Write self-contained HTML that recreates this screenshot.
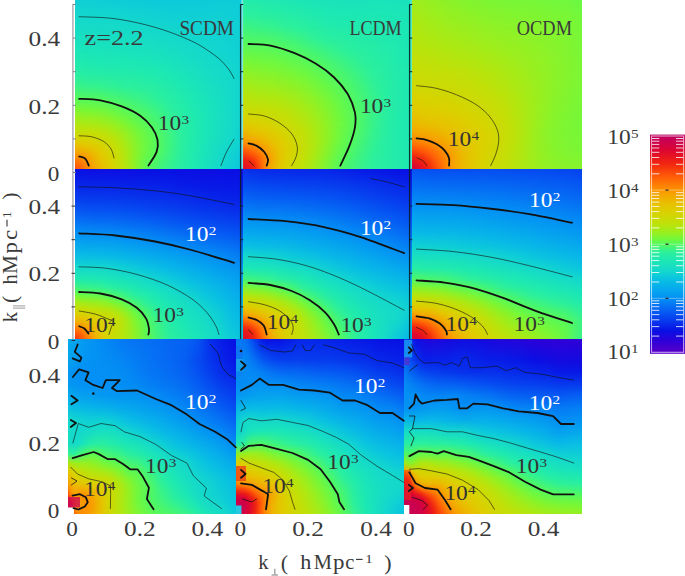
<!DOCTYPE html>
<html><head><meta charset="utf-8"><title>P(k) contours</title>
<style>html,body{margin:0;padding:0;background:#fff}svg{display:block}text{font-family:"Liberation Serif",serif}</style>
</head><body>
<svg width="685" height="576" viewBox="0 0 685 576">
<defs>
<linearGradient id="vg" x1="0" y1="0" x2="0" y2="1"><stop offset="0" stop-color="#fff" stop-opacity="0"/><stop offset="1" stop-color="#fff" stop-opacity="1"/></linearGradient>
<mask id="vm" maskContentUnits="objectBoundingBox"><rect x="0" y="0" width="1" height="1" fill="url(#vg)"/></mask>
<linearGradient id="g1"><stop offset="0" stop-color="#10d0d4"/><stop offset="0.0179" stop-color="#10cfd5"/><stop offset="0.0357" stop-color="#0fcfd5"/><stop offset="0.0536" stop-color="#0fced6"/><stop offset="0.0714" stop-color="#0fced6"/><stop offset="0.0952" stop-color="#0fced6"/><stop offset="0.119" stop-color="#0fced6"/><stop offset="0.1488" stop-color="#0fcdd7"/><stop offset="0.1786" stop-color="#0fcdd7"/><stop offset="0.2143" stop-color="#0ecdd7"/><stop offset="0.256" stop-color="#0eccd8"/><stop offset="0.3036" stop-color="#0eccd8"/><stop offset="0.3571" stop-color="#0ecbd9"/><stop offset="0.4167" stop-color="#0dcbd9"/><stop offset="0.4881" stop-color="#0dcada"/><stop offset="0.5595" stop-color="#0dcada"/><stop offset="0.631" stop-color="#0dcada"/><stop offset="0.7024" stop-color="#0dcbd9"/><stop offset="0.7738" stop-color="#0ecbd9"/><stop offset="0.8452" stop-color="#0eccd8"/><stop offset="0.9167" stop-color="#0ecdd7"/><stop offset="1" stop-color="#0ecbd9"/></linearGradient>
<linearGradient id="g2"><stop offset="0" stop-color="#14d8cc"/><stop offset="0.0179" stop-color="#14d7cd"/><stop offset="0.0357" stop-color="#13d7cd"/><stop offset="0.0536" stop-color="#13d7cd"/><stop offset="0.0714" stop-color="#13d7cd"/><stop offset="0.0952" stop-color="#13d7cd"/><stop offset="0.119" stop-color="#13d6ce"/><stop offset="0.1488" stop-color="#13d6ce"/><stop offset="0.1786" stop-color="#13d6ce"/><stop offset="0.2143" stop-color="#13d6ce"/><stop offset="0.256" stop-color="#13d5cf"/><stop offset="0.3036" stop-color="#12d4d0"/><stop offset="0.3571" stop-color="#12d3d1"/><stop offset="0.4167" stop-color="#11d2d2"/><stop offset="0.4881" stop-color="#11d1d3"/><stop offset="0.5595" stop-color="#10d0d4"/><stop offset="0.631" stop-color="#10cfd5"/><stop offset="0.7024" stop-color="#10cfd5"/><stop offset="0.7738" stop-color="#10cfd5"/><stop offset="0.8452" stop-color="#10d0d4"/><stop offset="0.9167" stop-color="#10cfd5"/><stop offset="1" stop-color="#0fcdd7"/></linearGradient>
<linearGradient id="g3"><stop offset="0" stop-color="#16dcc6"/><stop offset="0.0179" stop-color="#16dcc6"/><stop offset="0.0357" stop-color="#16dbc7"/><stop offset="0.0536" stop-color="#16dbc7"/><stop offset="0.0714" stop-color="#16dbc7"/><stop offset="0.0952" stop-color="#16dbc7"/><stop offset="0.119" stop-color="#15dbc8"/><stop offset="0.1488" stop-color="#15dbc8"/><stop offset="0.1786" stop-color="#15dbc8"/><stop offset="0.2143" stop-color="#15dbc8"/><stop offset="0.256" stop-color="#15dac9"/><stop offset="0.3036" stop-color="#15dac9"/><stop offset="0.3571" stop-color="#15d9ca"/><stop offset="0.4167" stop-color="#14d9cb"/><stop offset="0.4881" stop-color="#14d7cd"/><stop offset="0.5595" stop-color="#13d5cf"/><stop offset="0.631" stop-color="#12d4d0"/><stop offset="0.7024" stop-color="#11d3d1"/><stop offset="0.7738" stop-color="#11d2d2"/><stop offset="0.8452" stop-color="#11d1d3"/><stop offset="0.9167" stop-color="#10d1d3"/><stop offset="1" stop-color="#0fced6"/></linearGradient>
<linearGradient id="g4"><stop offset="0" stop-color="#18e1bf"/><stop offset="0.0179" stop-color="#18e0bf"/><stop offset="0.0357" stop-color="#18e0c0"/><stop offset="0.0536" stop-color="#18e0c0"/><stop offset="0.0714" stop-color="#18dfc1"/><stop offset="0.0952" stop-color="#18dfc1"/><stop offset="0.119" stop-color="#18dfc1"/><stop offset="0.1488" stop-color="#17dfc2"/><stop offset="0.1786" stop-color="#17dfc2"/><stop offset="0.2143" stop-color="#17dfc2"/><stop offset="0.256" stop-color="#17dec3"/><stop offset="0.3036" stop-color="#17dec3"/><stop offset="0.3571" stop-color="#17ddc4"/><stop offset="0.4167" stop-color="#16ddc5"/><stop offset="0.4881" stop-color="#16dbc7"/><stop offset="0.5595" stop-color="#15dac9"/><stop offset="0.631" stop-color="#14d9cb"/><stop offset="0.7024" stop-color="#13d7cd"/><stop offset="0.7738" stop-color="#12d5cf"/><stop offset="0.8452" stop-color="#12d3d1"/><stop offset="0.9167" stop-color="#11d2d2"/><stop offset="1" stop-color="#0fcfd5"/></linearGradient>
<linearGradient id="g5"><stop offset="0" stop-color="#1be6b7"/><stop offset="0.0179" stop-color="#1be5b8"/><stop offset="0.0357" stop-color="#1ae5b9"/><stop offset="0.0536" stop-color="#1ae5b9"/><stop offset="0.0714" stop-color="#1ae4b9"/><stop offset="0.0952" stop-color="#1ae4ba"/><stop offset="0.119" stop-color="#1ae4ba"/><stop offset="0.1488" stop-color="#1ae4bb"/><stop offset="0.1786" stop-color="#1ae3bb"/><stop offset="0.2143" stop-color="#1ae3bb"/><stop offset="0.256" stop-color="#19e3bc"/><stop offset="0.3036" stop-color="#19e3bc"/><stop offset="0.3571" stop-color="#19e2bd"/><stop offset="0.4167" stop-color="#19e1be"/><stop offset="0.4881" stop-color="#18e0c0"/><stop offset="0.5595" stop-color="#17dec3"/><stop offset="0.631" stop-color="#16dcc6"/><stop offset="0.7024" stop-color="#15dac9"/><stop offset="0.7738" stop-color="#14d8cc"/><stop offset="0.8452" stop-color="#13d6ce"/><stop offset="0.9167" stop-color="#12d3d1"/><stop offset="1" stop-color="#10cfd5"/></linearGradient>
<linearGradient id="g6"><stop offset="0" stop-color="#21eaad"/><stop offset="0.0179" stop-color="#20eaae"/><stop offset="0.0357" stop-color="#1feaaf"/><stop offset="0.0536" stop-color="#1fe9b0"/><stop offset="0.0714" stop-color="#1ee9b0"/><stop offset="0.0952" stop-color="#1ee9b1"/><stop offset="0.119" stop-color="#1ee9b2"/><stop offset="0.1488" stop-color="#1de9b2"/><stop offset="0.1786" stop-color="#1de8b3"/><stop offset="0.2143" stop-color="#1de8b3"/><stop offset="0.256" stop-color="#1ce8b4"/><stop offset="0.3036" stop-color="#1ce8b4"/><stop offset="0.3571" stop-color="#1ce7b5"/><stop offset="0.4167" stop-color="#1be6b6"/><stop offset="0.4881" stop-color="#1ae5b9"/><stop offset="0.5595" stop-color="#19e3bc"/><stop offset="0.631" stop-color="#18e0c0"/><stop offset="0.7024" stop-color="#17dec4"/><stop offset="0.7738" stop-color="#16dbc7"/><stop offset="0.8452" stop-color="#14d9cb"/><stop offset="0.9167" stop-color="#13d6ce"/><stop offset="1" stop-color="#10d1d3"/></linearGradient>
<linearGradient id="g7"><stop offset="0" stop-color="#29efa0"/><stop offset="0.0179" stop-color="#28eea2"/><stop offset="0.0357" stop-color="#28eea3"/><stop offset="0.0536" stop-color="#27eea3"/><stop offset="0.0714" stop-color="#27eda4"/><stop offset="0.0952" stop-color="#26eda5"/><stop offset="0.119" stop-color="#26eda5"/><stop offset="0.1488" stop-color="#26eda6"/><stop offset="0.1786" stop-color="#25eda6"/><stop offset="0.2143" stop-color="#25eca7"/><stop offset="0.256" stop-color="#24eca8"/><stop offset="0.3036" stop-color="#23eca9"/><stop offset="0.3571" stop-color="#23ebaa"/><stop offset="0.4167" stop-color="#21ebac"/><stop offset="0.4881" stop-color="#1feaaf"/><stop offset="0.5595" stop-color="#1ce8b4"/><stop offset="0.631" stop-color="#1ae5b9"/><stop offset="0.7024" stop-color="#19e1be"/><stop offset="0.7738" stop-color="#17dec3"/><stop offset="0.8452" stop-color="#16dbc7"/><stop offset="0.9167" stop-color="#14d9cb"/><stop offset="1" stop-color="#11d2d2"/></linearGradient>
<linearGradient id="g8"><stop offset="0" stop-color="#3cf383"/><stop offset="0.0179" stop-color="#3af386"/><stop offset="0.0357" stop-color="#38f288"/><stop offset="0.0536" stop-color="#37f28a"/><stop offset="0.0714" stop-color="#37f28b"/><stop offset="0.0952" stop-color="#36f28c"/><stop offset="0.119" stop-color="#35f28d"/><stop offset="0.1488" stop-color="#34f28f"/><stop offset="0.1786" stop-color="#33f191"/><stop offset="0.2143" stop-color="#31f194"/><stop offset="0.256" stop-color="#2ef098"/><stop offset="0.3036" stop-color="#2cf09c"/><stop offset="0.3571" stop-color="#2aef9e"/><stop offset="0.4167" stop-color="#29eea1"/><stop offset="0.4881" stop-color="#26eda5"/><stop offset="0.5595" stop-color="#22ebab"/><stop offset="0.631" stop-color="#1de9b2"/><stop offset="0.7024" stop-color="#1ae5b9"/><stop offset="0.7738" stop-color="#19e1be"/><stop offset="0.8452" stop-color="#17ddc4"/><stop offset="0.9167" stop-color="#15dac9"/><stop offset="1" stop-color="#12d3d1"/></linearGradient>
<linearGradient id="g9"><stop offset="0" stop-color="#58f857"/><stop offset="0.0179" stop-color="#55f85b"/><stop offset="0.0357" stop-color="#54f85c"/><stop offset="0.0536" stop-color="#54f85d"/><stop offset="0.0714" stop-color="#53f85d"/><stop offset="0.0952" stop-color="#52f85f"/><stop offset="0.119" stop-color="#52f860"/><stop offset="0.1488" stop-color="#51f761"/><stop offset="0.1786" stop-color="#4ef766"/><stop offset="0.2143" stop-color="#4af66c"/><stop offset="0.256" stop-color="#46f572"/><stop offset="0.3036" stop-color="#41f47a"/><stop offset="0.3571" stop-color="#3cf383"/><stop offset="0.4167" stop-color="#36f28d"/><stop offset="0.4881" stop-color="#2cf09b"/><stop offset="0.5595" stop-color="#27eea3"/><stop offset="0.631" stop-color="#22ebab"/><stop offset="0.7024" stop-color="#1ce8b4"/><stop offset="0.7738" stop-color="#1ae3bb"/><stop offset="0.8452" stop-color="#17dfc2"/><stop offset="0.9167" stop-color="#15dbc8"/><stop offset="1" stop-color="#11d2d2"/></linearGradient>
<linearGradient id="g10"><stop offset="0" stop-color="#7cf634"/><stop offset="0.0179" stop-color="#79f736"/><stop offset="0.0357" stop-color="#77f738"/><stop offset="0.0536" stop-color="#75f839"/><stop offset="0.0714" stop-color="#74f83a"/><stop offset="0.0952" stop-color="#73f83b"/><stop offset="0.119" stop-color="#71f83d"/><stop offset="0.1488" stop-color="#6ff840"/><stop offset="0.1786" stop-color="#6bf844"/><stop offset="0.2143" stop-color="#65f84a"/><stop offset="0.256" stop-color="#5ff851"/><stop offset="0.3036" stop-color="#55f85b"/><stop offset="0.3571" stop-color="#4df767"/><stop offset="0.4167" stop-color="#45f575"/><stop offset="0.4881" stop-color="#39f387"/><stop offset="0.5595" stop-color="#2cf09d"/><stop offset="0.631" stop-color="#25eda6"/><stop offset="0.7024" stop-color="#1fe9b0"/><stop offset="0.7738" stop-color="#1ae5b9"/><stop offset="0.8452" stop-color="#18e0c0"/><stop offset="0.9167" stop-color="#15dbc8"/><stop offset="1" stop-color="#11d2d2"/></linearGradient>
<linearGradient id="g11"><stop offset="0" stop-color="#9eed1c"/><stop offset="0.0179" stop-color="#9bee1e"/><stop offset="0.0357" stop-color="#99ee1f"/><stop offset="0.0536" stop-color="#97ef20"/><stop offset="0.0714" stop-color="#96ef21"/><stop offset="0.0952" stop-color="#95f022"/><stop offset="0.119" stop-color="#93f023"/><stop offset="0.1488" stop-color="#90f125"/><stop offset="0.1786" stop-color="#8bf229"/><stop offset="0.2143" stop-color="#84f42e"/><stop offset="0.256" stop-color="#7af736"/><stop offset="0.3036" stop-color="#6df842"/><stop offset="0.3571" stop-color="#5ff850"/><stop offset="0.4167" stop-color="#51f761"/><stop offset="0.4881" stop-color="#43f577"/><stop offset="0.5595" stop-color="#33f190"/><stop offset="0.631" stop-color="#28eea2"/><stop offset="0.7024" stop-color="#20eaae"/><stop offset="0.7738" stop-color="#1be6b8"/><stop offset="0.8452" stop-color="#18e0c0"/><stop offset="0.9167" stop-color="#16dbc7"/><stop offset="1" stop-color="#11d2d2"/></linearGradient>
<linearGradient id="g12"><stop offset="0" stop-color="#b9e40d"/><stop offset="0.0179" stop-color="#b6e50e"/><stop offset="0.0357" stop-color="#b4e60f"/><stop offset="0.0536" stop-color="#b3e610"/><stop offset="0.0714" stop-color="#b2e610"/><stop offset="0.0952" stop-color="#b1e710"/><stop offset="0.119" stop-color="#b0e711"/><stop offset="0.1488" stop-color="#ace913"/><stop offset="0.1786" stop-color="#a7ea16"/><stop offset="0.2143" stop-color="#9fed1b"/><stop offset="0.256" stop-color="#94f022"/><stop offset="0.3036" stop-color="#82f42f"/><stop offset="0.3571" stop-color="#6ff83f"/><stop offset="0.4167" stop-color="#5cf853"/><stop offset="0.4881" stop-color="#4bf66a"/><stop offset="0.5595" stop-color="#3af386"/><stop offset="0.631" stop-color="#29efa0"/><stop offset="0.7024" stop-color="#21ebac"/><stop offset="0.7738" stop-color="#1be6b7"/><stop offset="0.8452" stop-color="#18e0c0"/><stop offset="0.9167" stop-color="#16dbc7"/><stop offset="1" stop-color="#11d2d2"/></linearGradient>
<linearGradient id="g13"><stop offset="0" stop-color="#cada05"/><stop offset="0.0179" stop-color="#c8dc06"/><stop offset="0.0357" stop-color="#c7dd06"/><stop offset="0.0536" stop-color="#c7dd06"/><stop offset="0.0714" stop-color="#c7dd06"/><stop offset="0.0952" stop-color="#c6dd07"/><stop offset="0.119" stop-color="#c4de07"/><stop offset="0.1488" stop-color="#c1e008"/><stop offset="0.1786" stop-color="#bce20b"/><stop offset="0.2143" stop-color="#b4e60f"/><stop offset="0.256" stop-color="#a6ea17"/><stop offset="0.3036" stop-color="#94f022"/><stop offset="0.3571" stop-color="#7cf634"/><stop offset="0.4167" stop-color="#66f849"/><stop offset="0.4881" stop-color="#50f762"/><stop offset="0.5595" stop-color="#3ef480"/><stop offset="0.631" stop-color="#2aef9e"/><stop offset="0.7024" stop-color="#22ebac"/><stop offset="0.7738" stop-color="#1be6b7"/><stop offset="0.8452" stop-color="#18e0c0"/><stop offset="0.9167" stop-color="#15dbc8"/><stop offset="1" stop-color="#10d1d3"/></linearGradient>
<linearGradient id="g14"><stop offset="0" stop-color="#dbd000"/><stop offset="0.0179" stop-color="#d9d201"/><stop offset="0.0357" stop-color="#d7d301"/><stop offset="0.0536" stop-color="#d6d302"/><stop offset="0.0714" stop-color="#d6d402"/><stop offset="0.0952" stop-color="#d4d502"/><stop offset="0.119" stop-color="#d0d703"/><stop offset="0.1488" stop-color="#ccd905"/><stop offset="0.1786" stop-color="#c9dc06"/><stop offset="0.2143" stop-color="#c1e008"/><stop offset="0.256" stop-color="#b3e60f"/><stop offset="0.3036" stop-color="#9eed1c"/><stop offset="0.3571" stop-color="#84f42e"/><stop offset="0.4167" stop-color="#6bf844"/><stop offset="0.4881" stop-color="#55f85b"/><stop offset="0.5595" stop-color="#3ff47d"/><stop offset="0.631" stop-color="#2bef9e"/><stop offset="0.7024" stop-color="#21ebac"/><stop offset="0.7738" stop-color="#1be5b8"/><stop offset="0.8452" stop-color="#18dfc1"/><stop offset="0.9167" stop-color="#15dac9"/><stop offset="1" stop-color="#10d0d4"/></linearGradient>
<linearGradient id="g15"><stop offset="0" stop-color="#e5c300"/><stop offset="0.0179" stop-color="#e4c500"/><stop offset="0.0357" stop-color="#e3c700"/><stop offset="0.0536" stop-color="#e2c800"/><stop offset="0.0714" stop-color="#e1ca00"/><stop offset="0.0952" stop-color="#dfcc00"/><stop offset="0.119" stop-color="#dcd000"/><stop offset="0.1488" stop-color="#d7d301"/><stop offset="0.1786" stop-color="#d0d703"/><stop offset="0.2143" stop-color="#c8dc06"/><stop offset="0.256" stop-color="#bbe30b"/><stop offset="0.3036" stop-color="#a5eb17"/><stop offset="0.3571" stop-color="#89f32b"/><stop offset="0.4167" stop-color="#6df842"/><stop offset="0.4881" stop-color="#55f85b"/><stop offset="0.5595" stop-color="#40f47d"/><stop offset="0.631" stop-color="#2bef9e"/><stop offset="0.7024" stop-color="#21ebac"/><stop offset="0.7738" stop-color="#1ae5b9"/><stop offset="0.8452" stop-color="#17dec2"/><stop offset="0.9167" stop-color="#14d9cb"/><stop offset="1" stop-color="#0fced6"/></linearGradient>
<linearGradient id="g16"><stop offset="0" stop-color="#f0b100"/><stop offset="0.0179" stop-color="#eeb400"/><stop offset="0.0357" stop-color="#edb700"/><stop offset="0.0536" stop-color="#ebb900"/><stop offset="0.0714" stop-color="#eabd00"/><stop offset="0.0952" stop-color="#e7c200"/><stop offset="0.119" stop-color="#e3c600"/><stop offset="0.1488" stop-color="#dfcd00"/><stop offset="0.1786" stop-color="#d8d201"/><stop offset="0.2143" stop-color="#ced804"/><stop offset="0.256" stop-color="#c2e008"/><stop offset="0.3036" stop-color="#aae914"/><stop offset="0.3571" stop-color="#8bf229"/><stop offset="0.4167" stop-color="#6df842"/><stop offset="0.4881" stop-color="#54f85c"/><stop offset="0.5595" stop-color="#3ef47e"/><stop offset="0.631" stop-color="#2aef9f"/><stop offset="0.7024" stop-color="#21eaad"/><stop offset="0.7738" stop-color="#1ae4ba"/><stop offset="0.8452" stop-color="#17ddc4"/><stop offset="0.9167" stop-color="#14d7cd"/><stop offset="1" stop-color="#0eccd8"/></linearGradient>
<linearGradient id="g17"><stop offset="0" stop-color="#f89f00"/><stop offset="0.0179" stop-color="#f6a300"/><stop offset="0.0357" stop-color="#f5a700"/><stop offset="0.0536" stop-color="#f3aa00"/><stop offset="0.0714" stop-color="#f1ae00"/><stop offset="0.0952" stop-color="#edb600"/><stop offset="0.119" stop-color="#e8bf00"/><stop offset="0.1488" stop-color="#e3c700"/><stop offset="0.1786" stop-color="#ddcf00"/><stop offset="0.2143" stop-color="#d2d603"/><stop offset="0.256" stop-color="#c4df07"/><stop offset="0.3036" stop-color="#ade813"/><stop offset="0.3571" stop-color="#8cf228"/><stop offset="0.4167" stop-color="#6bf844"/><stop offset="0.4881" stop-color="#53f85e"/><stop offset="0.5595" stop-color="#3df381"/><stop offset="0.631" stop-color="#2aef9f"/><stop offset="0.7024" stop-color="#20eaae"/><stop offset="0.7738" stop-color="#1ae4ba"/><stop offset="0.8452" stop-color="#16ddc5"/><stop offset="0.9167" stop-color="#13d5cf"/><stop offset="1" stop-color="#0dcada"/></linearGradient>
<linearGradient id="g18"><stop offset="0" stop-color="#fd8a01"/><stop offset="0.0179" stop-color="#fc8f01"/><stop offset="0.0357" stop-color="#fc9400"/><stop offset="0.0536" stop-color="#fa9800"/><stop offset="0.0714" stop-color="#f89f00"/><stop offset="0.0952" stop-color="#f2ac00"/><stop offset="0.119" stop-color="#edb700"/><stop offset="0.1488" stop-color="#e6c300"/><stop offset="0.1786" stop-color="#dfcb00"/><stop offset="0.2143" stop-color="#d4d402"/><stop offset="0.256" stop-color="#c6dd07"/><stop offset="0.3036" stop-color="#afe812"/><stop offset="0.3571" stop-color="#8cf228"/><stop offset="0.4167" stop-color="#67f848"/><stop offset="0.4881" stop-color="#4ff764"/><stop offset="0.5595" stop-color="#3bf385"/><stop offset="0.631" stop-color="#29efa0"/><stop offset="0.7024" stop-color="#20eaae"/><stop offset="0.7738" stop-color="#1ae3bb"/><stop offset="0.8452" stop-color="#16dcc6"/><stop offset="0.9167" stop-color="#12d4d0"/><stop offset="1" stop-color="#0cc8dc"/></linearGradient>
<linearGradient id="g19"><stop offset="0" stop-color="#fd7904"/><stop offset="0.0179" stop-color="#fd7f03"/><stop offset="0.0357" stop-color="#fd8502"/><stop offset="0.0536" stop-color="#fc8c01"/><stop offset="0.0714" stop-color="#fb9600"/><stop offset="0.0952" stop-color="#f5a600"/><stop offset="0.119" stop-color="#efb200"/><stop offset="0.1488" stop-color="#e8c000"/><stop offset="0.1786" stop-color="#e1c900"/><stop offset="0.2143" stop-color="#d7d302"/><stop offset="0.256" stop-color="#c7dd06"/><stop offset="0.3036" stop-color="#b0e711"/><stop offset="0.3571" stop-color="#8bf228"/><stop offset="0.4167" stop-color="#64f84b"/><stop offset="0.4881" stop-color="#4cf669"/><stop offset="0.5595" stop-color="#39f388"/><stop offset="0.631" stop-color="#29eea1"/><stop offset="0.7024" stop-color="#20eaaf"/><stop offset="0.7738" stop-color="#19e3bc"/><stop offset="0.8452" stop-color="#16dbc7"/><stop offset="0.9167" stop-color="#11d3d1"/><stop offset="1" stop-color="#0cc7dd"/></linearGradient>
<linearGradient id="g20"><stop offset="0" stop-color="#fe6906"/><stop offset="0.0179" stop-color="#fe7005"/><stop offset="0.0357" stop-color="#fd7804"/><stop offset="0.0536" stop-color="#fd8302"/><stop offset="0.0714" stop-color="#fc9001"/><stop offset="0.0952" stop-color="#f7a100"/><stop offset="0.119" stop-color="#f1ae00"/><stop offset="0.1488" stop-color="#eabc00"/><stop offset="0.1786" stop-color="#e3c700"/><stop offset="0.2143" stop-color="#d9d201"/><stop offset="0.256" stop-color="#c8dc06"/><stop offset="0.3036" stop-color="#b2e710"/><stop offset="0.3571" stop-color="#8cf228"/><stop offset="0.4167" stop-color="#61f84e"/><stop offset="0.4881" stop-color="#49f66e"/><stop offset="0.5595" stop-color="#37f28a"/><stop offset="0.631" stop-color="#28eea1"/><stop offset="0.7024" stop-color="#1feaaf"/><stop offset="0.7738" stop-color="#19e2bc"/><stop offset="0.8452" stop-color="#15dbc8"/><stop offset="0.9167" stop-color="#11d1d3"/><stop offset="1" stop-color="#0cc6dd"/></linearGradient>
<linearGradient id="g21"><stop offset="0" stop-color="#ff5b08"/><stop offset="0.0179" stop-color="#ff6307"/><stop offset="0.0357" stop-color="#fe6e05"/><stop offset="0.0536" stop-color="#fd7b04"/><stop offset="0.0714" stop-color="#fd8a01"/><stop offset="0.0952" stop-color="#f99c00"/><stop offset="0.119" stop-color="#f3aa00"/><stop offset="0.1488" stop-color="#ecb900"/><stop offset="0.1786" stop-color="#e4c500"/><stop offset="0.2143" stop-color="#dbd000"/><stop offset="0.256" stop-color="#cadb05"/><stop offset="0.3036" stop-color="#b3e60f"/><stop offset="0.3571" stop-color="#8df227"/><stop offset="0.4167" stop-color="#5ff850"/><stop offset="0.4881" stop-color="#47f571"/><stop offset="0.5595" stop-color="#36f28d"/><stop offset="0.631" stop-color="#28eea2"/><stop offset="0.7024" stop-color="#1feaaf"/><stop offset="0.7738" stop-color="#19e2bd"/><stop offset="0.8452" stop-color="#15dac9"/><stop offset="0.9167" stop-color="#10d1d3"/><stop offset="1" stop-color="#0bc6de"/></linearGradient>
<linearGradient id="g22"><stop offset="0" stop-color="#fc510a"/><stop offset="0.0179" stop-color="#fe5a08"/><stop offset="0.0357" stop-color="#fe6607"/><stop offset="0.0536" stop-color="#fe7405"/><stop offset="0.0714" stop-color="#fd8302"/><stop offset="0.0952" stop-color="#fb9600"/><stop offset="0.119" stop-color="#f5a500"/><stop offset="0.1488" stop-color="#eeb500"/><stop offset="0.1786" stop-color="#e6c300"/><stop offset="0.2143" stop-color="#ddcf00"/><stop offset="0.256" stop-color="#ccd905"/><stop offset="0.3036" stop-color="#b6e50e"/><stop offset="0.3571" stop-color="#8ff126"/><stop offset="0.4167" stop-color="#60f84f"/><stop offset="0.4881" stop-color="#46f573"/><stop offset="0.5595" stop-color="#35f28e"/><stop offset="0.631" stop-color="#28eea2"/><stop offset="0.7024" stop-color="#1fe9b0"/><stop offset="0.7738" stop-color="#19e2bd"/><stop offset="0.8452" stop-color="#15dac9"/><stop offset="0.9167" stop-color="#10d0d4"/><stop offset="1" stop-color="#0bc5de"/></linearGradient>
<linearGradient id="g23"><stop offset="0" stop-color="#25eca7"/><stop offset="0.0178" stop-color="#24eca8"/><stop offset="0.0355" stop-color="#23ebaa"/><stop offset="0.0533" stop-color="#22ebab"/><stop offset="0.071" stop-color="#22ebab"/><stop offset="0.0947" stop-color="#21eaad"/><stop offset="0.1183" stop-color="#20eaae"/><stop offset="0.1479" stop-color="#1feaaf"/><stop offset="0.1775" stop-color="#1fe9b0"/><stop offset="0.213" stop-color="#1ee9b2"/><stop offset="0.2544" stop-color="#1de8b3"/><stop offset="0.3018" stop-color="#1ce7b5"/><stop offset="0.355" stop-color="#1be6b6"/><stop offset="0.4142" stop-color="#1be5b8"/><stop offset="0.4852" stop-color="#1ae4ba"/><stop offset="0.5562" stop-color="#1ae3bb"/><stop offset="0.6272" stop-color="#1ae3bb"/><stop offset="0.6982" stop-color="#1ae3bb"/><stop offset="0.7692" stop-color="#1ae4bb"/><stop offset="0.8402" stop-color="#1ae4bb"/><stop offset="0.9112" stop-color="#1ae3bb"/><stop offset="1" stop-color="#19e2be"/></linearGradient>
<linearGradient id="g24"><stop offset="0" stop-color="#2df09a"/><stop offset="0.0178" stop-color="#2cf09c"/><stop offset="0.0355" stop-color="#2bf09d"/><stop offset="0.0533" stop-color="#2bef9e"/><stop offset="0.071" stop-color="#2aef9f"/><stop offset="0.0947" stop-color="#29efa0"/><stop offset="0.1183" stop-color="#29eea1"/><stop offset="0.1479" stop-color="#28eea2"/><stop offset="0.1775" stop-color="#27eea3"/><stop offset="0.213" stop-color="#26eda4"/><stop offset="0.2544" stop-color="#25eda6"/><stop offset="0.3018" stop-color="#24eca8"/><stop offset="0.355" stop-color="#22ebab"/><stop offset="0.4142" stop-color="#20eaae"/><stop offset="0.4852" stop-color="#1de9b2"/><stop offset="0.5562" stop-color="#1ce8b4"/><stop offset="0.6272" stop-color="#1ce8b5"/><stop offset="0.6982" stop-color="#1ce7b5"/><stop offset="0.7692" stop-color="#1ce7b5"/><stop offset="0.8402" stop-color="#1be7b6"/><stop offset="0.9112" stop-color="#1be6b7"/><stop offset="1" stop-color="#1ae4ba"/></linearGradient>
<linearGradient id="g25"><stop offset="0" stop-color="#3ef47f"/><stop offset="0.0178" stop-color="#3cf382"/><stop offset="0.0355" stop-color="#3bf384"/><stop offset="0.0533" stop-color="#3af386"/><stop offset="0.071" stop-color="#39f387"/><stop offset="0.0947" stop-color="#38f289"/><stop offset="0.1183" stop-color="#37f28b"/><stop offset="0.1479" stop-color="#35f28d"/><stop offset="0.1775" stop-color="#34f28f"/><stop offset="0.213" stop-color="#32f193"/><stop offset="0.2544" stop-color="#2ef098"/><stop offset="0.3018" stop-color="#2bf09d"/><stop offset="0.355" stop-color="#29efa0"/><stop offset="0.4142" stop-color="#26eda4"/><stop offset="0.4852" stop-color="#23eca9"/><stop offset="0.5562" stop-color="#21ebac"/><stop offset="0.6272" stop-color="#20eaad"/><stop offset="0.6982" stop-color="#20eaae"/><stop offset="0.7692" stop-color="#1fe9b0"/><stop offset="0.8402" stop-color="#1ee9b1"/><stop offset="0.9112" stop-color="#1ce8b4"/><stop offset="1" stop-color="#1be6b8"/></linearGradient>
<linearGradient id="g26"><stop offset="0" stop-color="#4ff764"/><stop offset="0.0178" stop-color="#4ef766"/><stop offset="0.0355" stop-color="#4cf668"/><stop offset="0.0533" stop-color="#4cf669"/><stop offset="0.071" stop-color="#4bf66a"/><stop offset="0.0947" stop-color="#4bf66b"/><stop offset="0.1183" stop-color="#4af66b"/><stop offset="0.1479" stop-color="#4af66d"/><stop offset="0.1775" stop-color="#48f66f"/><stop offset="0.213" stop-color="#46f573"/><stop offset="0.2544" stop-color="#42f479"/><stop offset="0.3018" stop-color="#3ef480"/><stop offset="0.355" stop-color="#38f289"/><stop offset="0.4142" stop-color="#31f195"/><stop offset="0.4852" stop-color="#2aef9e"/><stop offset="0.5562" stop-color="#28eea2"/><stop offset="0.6272" stop-color="#26eda5"/><stop offset="0.6982" stop-color="#24eca8"/><stop offset="0.7692" stop-color="#22ebaa"/><stop offset="0.8402" stop-color="#20eaad"/><stop offset="0.9112" stop-color="#1ee9b1"/><stop offset="1" stop-color="#1be6b6"/></linearGradient>
<linearGradient id="g27"><stop offset="0" stop-color="#65f84a"/><stop offset="0.0178" stop-color="#63f84c"/><stop offset="0.0355" stop-color="#62f84e"/><stop offset="0.0533" stop-color="#61f84f"/><stop offset="0.071" stop-color="#60f84f"/><stop offset="0.0947" stop-color="#5ff850"/><stop offset="0.1183" stop-color="#5ff851"/><stop offset="0.1479" stop-color="#5ef852"/><stop offset="0.1775" stop-color="#5cf854"/><stop offset="0.213" stop-color="#59f857"/><stop offset="0.2544" stop-color="#55f85b"/><stop offset="0.3018" stop-color="#51f761"/><stop offset="0.355" stop-color="#4bf66b"/><stop offset="0.4142" stop-color="#43f577"/><stop offset="0.4852" stop-color="#3af385"/><stop offset="0.5562" stop-color="#32f193"/><stop offset="0.6272" stop-color="#2bf09d"/><stop offset="0.6982" stop-color="#29eea1"/><stop offset="0.7692" stop-color="#26eda5"/><stop offset="0.8402" stop-color="#23ebaa"/><stop offset="0.9112" stop-color="#20eaaf"/><stop offset="1" stop-color="#1ce7b5"/></linearGradient>
<linearGradient id="g28"><stop offset="0" stop-color="#7ef633"/><stop offset="0.0178" stop-color="#7bf635"/><stop offset="0.0355" stop-color="#79f736"/><stop offset="0.0533" stop-color="#77f737"/><stop offset="0.071" stop-color="#76f738"/><stop offset="0.0947" stop-color="#75f839"/><stop offset="0.1183" stop-color="#73f83b"/><stop offset="0.1479" stop-color="#72f83c"/><stop offset="0.1775" stop-color="#70f83e"/><stop offset="0.213" stop-color="#6ef841"/><stop offset="0.2544" stop-color="#6af844"/><stop offset="0.3018" stop-color="#65f84a"/><stop offset="0.355" stop-color="#5ef851"/><stop offset="0.4142" stop-color="#55f85b"/><stop offset="0.4852" stop-color="#4bf66b"/><stop offset="0.5562" stop-color="#41f47b"/><stop offset="0.6272" stop-color="#37f28a"/><stop offset="0.6982" stop-color="#2ef099"/><stop offset="0.7692" stop-color="#29eea1"/><stop offset="0.8402" stop-color="#25eda6"/><stop offset="0.9112" stop-color="#21eaad"/><stop offset="1" stop-color="#1ce8b4"/></linearGradient>
<linearGradient id="g29"><stop offset="0" stop-color="#96ef21"/><stop offset="0.0178" stop-color="#94f022"/><stop offset="0.0355" stop-color="#91f124"/><stop offset="0.0533" stop-color="#8ff126"/><stop offset="0.071" stop-color="#8df227"/><stop offset="0.0947" stop-color="#8bf229"/><stop offset="0.1183" stop-color="#89f32a"/><stop offset="0.1479" stop-color="#88f32b"/><stop offset="0.1775" stop-color="#86f42d"/><stop offset="0.213" stop-color="#83f42f"/><stop offset="0.2544" stop-color="#7ff532"/><stop offset="0.3018" stop-color="#7af736"/><stop offset="0.355" stop-color="#72f83c"/><stop offset="0.4142" stop-color="#68f846"/><stop offset="0.4852" stop-color="#5bf855"/><stop offset="0.5562" stop-color="#4ef765"/><stop offset="0.6272" stop-color="#43f578"/><stop offset="0.6982" stop-color="#37f28a"/><stop offset="0.7692" stop-color="#2cf09c"/><stop offset="0.8402" stop-color="#27eda4"/><stop offset="0.9112" stop-color="#22ebab"/><stop offset="1" stop-color="#1ce8b4"/></linearGradient>
<linearGradient id="g30"><stop offset="0" stop-color="#ace913"/><stop offset="0.0178" stop-color="#a9ea15"/><stop offset="0.0355" stop-color="#a6ea17"/><stop offset="0.0533" stop-color="#a4eb18"/><stop offset="0.071" stop-color="#a3eb19"/><stop offset="0.0947" stop-color="#a1ec1a"/><stop offset="0.1183" stop-color="#a0ec1b"/><stop offset="0.1479" stop-color="#9eed1c"/><stop offset="0.1775" stop-color="#9cee1d"/><stop offset="0.213" stop-color="#99ee1f"/><stop offset="0.2544" stop-color="#96ef21"/><stop offset="0.3018" stop-color="#90f125"/><stop offset="0.355" stop-color="#87f32c"/><stop offset="0.4142" stop-color="#7bf635"/><stop offset="0.4852" stop-color="#6bf843"/><stop offset="0.5562" stop-color="#5bf855"/><stop offset="0.6272" stop-color="#4df768"/><stop offset="0.6982" stop-color="#3ff47d"/><stop offset="0.7692" stop-color="#31f194"/><stop offset="0.8402" stop-color="#28eea1"/><stop offset="0.9112" stop-color="#23ebaa"/><stop offset="1" stop-color="#1ce8b4"/></linearGradient>
<linearGradient id="g31"><stop offset="0" stop-color="#bfe10a"/><stop offset="0.0178" stop-color="#bce20b"/><stop offset="0.0355" stop-color="#bae30c"/><stop offset="0.0533" stop-color="#b9e40d"/><stop offset="0.071" stop-color="#b7e40d"/><stop offset="0.0947" stop-color="#b6e50e"/><stop offset="0.1183" stop-color="#b5e50e"/><stop offset="0.1479" stop-color="#b4e60f"/><stop offset="0.1775" stop-color="#b2e610"/><stop offset="0.213" stop-color="#afe811"/><stop offset="0.2544" stop-color="#aae914"/><stop offset="0.3018" stop-color="#a4eb18"/><stop offset="0.355" stop-color="#9aee1e"/><stop offset="0.4142" stop-color="#8ef227"/><stop offset="0.4852" stop-color="#7bf635"/><stop offset="0.5562" stop-color="#68f847"/><stop offset="0.6272" stop-color="#55f85b"/><stop offset="0.6982" stop-color="#46f573"/><stop offset="0.7692" stop-color="#35f28d"/><stop offset="0.8402" stop-color="#29efa0"/><stop offset="0.9112" stop-color="#23ebaa"/><stop offset="1" stop-color="#1ce8b4"/></linearGradient>
<linearGradient id="g32"><stop offset="0" stop-color="#cbda05"/><stop offset="0.0178" stop-color="#c9db06"/><stop offset="0.0355" stop-color="#c8dc06"/><stop offset="0.0533" stop-color="#c7dd06"/><stop offset="0.071" stop-color="#c6dd07"/><stop offset="0.0947" stop-color="#c6dd07"/><stop offset="0.1183" stop-color="#c5de07"/><stop offset="0.1479" stop-color="#c4df07"/><stop offset="0.1775" stop-color="#c2e008"/><stop offset="0.213" stop-color="#bfe10a"/><stop offset="0.2544" stop-color="#bae30c"/><stop offset="0.3018" stop-color="#b3e610"/><stop offset="0.355" stop-color="#a9ea15"/><stop offset="0.4142" stop-color="#9bee1e"/><stop offset="0.4852" stop-color="#86f32c"/><stop offset="0.5562" stop-color="#70f83e"/><stop offset="0.6272" stop-color="#5cf854"/><stop offset="0.6982" stop-color="#4af66c"/><stop offset="0.7692" stop-color="#37f28a"/><stop offset="0.8402" stop-color="#29efa0"/><stop offset="0.9112" stop-color="#23ebaa"/><stop offset="1" stop-color="#1ce8b4"/></linearGradient>
<linearGradient id="g33"><stop offset="0" stop-color="#dad101"/><stop offset="0.0178" stop-color="#d7d301"/><stop offset="0.0355" stop-color="#d5d402"/><stop offset="0.0533" stop-color="#d4d502"/><stop offset="0.071" stop-color="#d3d503"/><stop offset="0.0947" stop-color="#d2d603"/><stop offset="0.1183" stop-color="#d1d603"/><stop offset="0.1479" stop-color="#ced804"/><stop offset="0.1775" stop-color="#ccd905"/><stop offset="0.213" stop-color="#c9db06"/><stop offset="0.2544" stop-color="#c5de07"/><stop offset="0.3018" stop-color="#bee10a"/><stop offset="0.355" stop-color="#b4e60f"/><stop offset="0.4142" stop-color="#a5eb18"/><stop offset="0.4852" stop-color="#8ef126"/><stop offset="0.5562" stop-color="#75f839"/><stop offset="0.6272" stop-color="#5ff851"/><stop offset="0.6982" stop-color="#4bf66b"/><stop offset="0.7692" stop-color="#38f289"/><stop offset="0.8402" stop-color="#29efa0"/><stop offset="0.9112" stop-color="#22ebaa"/><stop offset="1" stop-color="#1ce7b5"/></linearGradient>
<linearGradient id="g34"><stop offset="0" stop-color="#e5c400"/><stop offset="0.0178" stop-color="#e3c700"/><stop offset="0.0355" stop-color="#e1c900"/><stop offset="0.0533" stop-color="#e0ca00"/><stop offset="0.071" stop-color="#dfcc00"/><stop offset="0.0947" stop-color="#decd00"/><stop offset="0.1183" stop-color="#ddcf00"/><stop offset="0.1479" stop-color="#dad101"/><stop offset="0.1775" stop-color="#d6d302"/><stop offset="0.213" stop-color="#d2d603"/><stop offset="0.2544" stop-color="#ccda05"/><stop offset="0.3018" stop-color="#c6dd07"/><stop offset="0.355" stop-color="#bce20b"/><stop offset="0.4142" stop-color="#ace913"/><stop offset="0.4852" stop-color="#93f023"/><stop offset="0.5562" stop-color="#77f738"/><stop offset="0.6272" stop-color="#5ff850"/><stop offset="0.6982" stop-color="#4af66c"/><stop offset="0.7692" stop-color="#36f28b"/><stop offset="0.8402" stop-color="#29eea1"/><stop offset="0.9112" stop-color="#22ebab"/><stop offset="1" stop-color="#1ce7b5"/></linearGradient>
<linearGradient id="g35"><stop offset="0" stop-color="#efb300"/><stop offset="0.0178" stop-color="#ecb700"/><stop offset="0.0355" stop-color="#ebbb00"/><stop offset="0.0533" stop-color="#e9be00"/><stop offset="0.071" stop-color="#e8c000"/><stop offset="0.0947" stop-color="#e6c200"/><stop offset="0.1183" stop-color="#e4c500"/><stop offset="0.1479" stop-color="#e2c800"/><stop offset="0.1775" stop-color="#dfcc00"/><stop offset="0.213" stop-color="#dad100"/><stop offset="0.2544" stop-color="#d3d503"/><stop offset="0.3018" stop-color="#cbda05"/><stop offset="0.355" stop-color="#c2e008"/><stop offset="0.4142" stop-color="#b0e711"/><stop offset="0.4852" stop-color="#95f022"/><stop offset="0.5562" stop-color="#76f738"/><stop offset="0.6272" stop-color="#5cf853"/><stop offset="0.6982" stop-color="#48f670"/><stop offset="0.7692" stop-color="#35f28e"/><stop offset="0.8402" stop-color="#28eea2"/><stop offset="0.9112" stop-color="#22ebab"/><stop offset="1" stop-color="#1ce7b5"/></linearGradient>
<linearGradient id="g36"><stop offset="0" stop-color="#f89d00"/><stop offset="0.0178" stop-color="#f6a300"/><stop offset="0.0355" stop-color="#f4a900"/><stop offset="0.0533" stop-color="#f2ac00"/><stop offset="0.071" stop-color="#f1af00"/><stop offset="0.0947" stop-color="#efb300"/><stop offset="0.1183" stop-color="#ecb800"/><stop offset="0.1479" stop-color="#e8bf00"/><stop offset="0.1775" stop-color="#e4c500"/><stop offset="0.213" stop-color="#dfcb00"/><stop offset="0.2544" stop-color="#d8d201"/><stop offset="0.3018" stop-color="#ced804"/><stop offset="0.355" stop-color="#c4de07"/><stop offset="0.4142" stop-color="#b2e710"/><stop offset="0.4852" stop-color="#94f022"/><stop offset="0.5562" stop-color="#74f83a"/><stop offset="0.6272" stop-color="#59f857"/><stop offset="0.6982" stop-color="#45f574"/><stop offset="0.7692" stop-color="#33f191"/><stop offset="0.8402" stop-color="#28eea2"/><stop offset="0.9112" stop-color="#22ebac"/><stop offset="1" stop-color="#1ce7b5"/></linearGradient>
<linearGradient id="g37"><stop offset="0" stop-color="#fd8203"/><stop offset="0.0178" stop-color="#fd8a01"/><stop offset="0.0355" stop-color="#fc9100"/><stop offset="0.0533" stop-color="#fb9600"/><stop offset="0.071" stop-color="#fa9a00"/><stop offset="0.0947" stop-color="#f7a100"/><stop offset="0.1183" stop-color="#f3aa00"/><stop offset="0.1479" stop-color="#eeb400"/><stop offset="0.1775" stop-color="#e9be00"/><stop offset="0.213" stop-color="#e3c700"/><stop offset="0.2544" stop-color="#dcd000"/><stop offset="0.3018" stop-color="#d1d603"/><stop offset="0.355" stop-color="#c6dd07"/><stop offset="0.4142" stop-color="#b2e610"/><stop offset="0.4852" stop-color="#92f023"/><stop offset="0.5562" stop-color="#71f83e"/><stop offset="0.6272" stop-color="#56f85a"/><stop offset="0.6982" stop-color="#42f478"/><stop offset="0.7692" stop-color="#31f194"/><stop offset="0.8402" stop-color="#27eea3"/><stop offset="0.9112" stop-color="#22ebab"/><stop offset="1" stop-color="#1ce8b5"/></linearGradient>
<linearGradient id="g38"><stop offset="0" stop-color="#ff6207"/><stop offset="0.0178" stop-color="#fe6906"/><stop offset="0.0355" stop-color="#fe7005"/><stop offset="0.0533" stop-color="#fe7704"/><stop offset="0.071" stop-color="#fd7f03"/><stop offset="0.0947" stop-color="#fc8b01"/><stop offset="0.1183" stop-color="#fa9900"/><stop offset="0.1479" stop-color="#f3a900"/><stop offset="0.1775" stop-color="#edb600"/><stop offset="0.213" stop-color="#e5c400"/><stop offset="0.2544" stop-color="#dece00"/><stop offset="0.3018" stop-color="#d2d603"/><stop offset="0.355" stop-color="#c6dd07"/><stop offset="0.4142" stop-color="#b1e711"/><stop offset="0.4852" stop-color="#8ff126"/><stop offset="0.5562" stop-color="#6cf842"/><stop offset="0.6272" stop-color="#52f85f"/><stop offset="0.6982" stop-color="#40f47d"/><stop offset="0.7692" stop-color="#2ff197"/><stop offset="0.8402" stop-color="#27eea3"/><stop offset="0.9112" stop-color="#22ebab"/><stop offset="1" stop-color="#1ce8b4"/></linearGradient>
<linearGradient id="g39"><stop offset="0" stop-color="#f9470b"/><stop offset="0.0178" stop-color="#fb4e0a"/><stop offset="0.0355" stop-color="#fd5509"/><stop offset="0.0533" stop-color="#ff5e08"/><stop offset="0.071" stop-color="#fe6806"/><stop offset="0.0947" stop-color="#fd7804"/><stop offset="0.1183" stop-color="#fd8b01"/><stop offset="0.1479" stop-color="#f89f00"/><stop offset="0.1775" stop-color="#f0b100"/><stop offset="0.213" stop-color="#e7c200"/><stop offset="0.2544" stop-color="#decd00"/><stop offset="0.3018" stop-color="#d2d603"/><stop offset="0.355" stop-color="#c5de07"/><stop offset="0.4142" stop-color="#afe811"/><stop offset="0.4852" stop-color="#8bf228"/><stop offset="0.5562" stop-color="#69f846"/><stop offset="0.6272" stop-color="#4ff764"/><stop offset="0.6982" stop-color="#3df380"/><stop offset="0.7692" stop-color="#2ef099"/><stop offset="0.8402" stop-color="#27eea3"/><stop offset="0.9112" stop-color="#22ebab"/><stop offset="1" stop-color="#1ce8b4"/></linearGradient>
<linearGradient id="g40"><stop offset="0" stop-color="#f22d0f"/><stop offset="0.0178" stop-color="#f4340e"/><stop offset="0.0355" stop-color="#f63b0d"/><stop offset="0.0533" stop-color="#f9450b"/><stop offset="0.071" stop-color="#fc5209"/><stop offset="0.0947" stop-color="#fe6706"/><stop offset="0.1183" stop-color="#fd7d03"/><stop offset="0.1479" stop-color="#fb9600"/><stop offset="0.1775" stop-color="#f1ad00"/><stop offset="0.213" stop-color="#e7c100"/><stop offset="0.2544" stop-color="#ddce00"/><stop offset="0.3018" stop-color="#d1d603"/><stop offset="0.355" stop-color="#c4df07"/><stop offset="0.4142" stop-color="#ade813"/><stop offset="0.4852" stop-color="#88f32b"/><stop offset="0.5562" stop-color="#64f84b"/><stop offset="0.6272" stop-color="#4cf668"/><stop offset="0.6982" stop-color="#3bf384"/><stop offset="0.7692" stop-color="#2df09b"/><stop offset="0.8402" stop-color="#27eda4"/><stop offset="0.9112" stop-color="#22ebab"/><stop offset="1" stop-color="#1de8b3"/></linearGradient>
<linearGradient id="g41"><stop offset="0" stop-color="#ed1f15"/><stop offset="0.0178" stop-color="#ef2311"/><stop offset="0.0355" stop-color="#f1290f"/><stop offset="0.0533" stop-color="#f4340e"/><stop offset="0.071" stop-color="#f8430c"/><stop offset="0.0947" stop-color="#ff5c08"/><stop offset="0.1183" stop-color="#fe7704"/><stop offset="0.1479" stop-color="#fc9400"/><stop offset="0.1775" stop-color="#f1ad00"/><stop offset="0.213" stop-color="#e7c200"/><stop offset="0.2544" stop-color="#ddcf00"/><stop offset="0.3018" stop-color="#cfd804"/><stop offset="0.355" stop-color="#c2e008"/><stop offset="0.4142" stop-color="#aae914"/><stop offset="0.4852" stop-color="#85f42d"/><stop offset="0.5562" stop-color="#61f84e"/><stop offset="0.6272" stop-color="#4af66c"/><stop offset="0.6982" stop-color="#3af386"/><stop offset="0.7692" stop-color="#2cf09c"/><stop offset="0.8402" stop-color="#27eda4"/><stop offset="0.9112" stop-color="#22ebab"/><stop offset="1" stop-color="#1de8b3"/></linearGradient>
<linearGradient id="g42"><stop offset="0" stop-color="#e8171f"/><stop offset="0.0178" stop-color="#ea1a1b"/><stop offset="0.0355" stop-color="#ed1f16"/><stop offset="0.0533" stop-color="#f02510"/><stop offset="0.071" stop-color="#f5350e"/><stop offset="0.0947" stop-color="#fd5409"/><stop offset="0.1183" stop-color="#fe7504"/><stop offset="0.1479" stop-color="#fa9800"/><stop offset="0.1775" stop-color="#f0af00"/><stop offset="0.213" stop-color="#e6c300"/><stop offset="0.2544" stop-color="#dcd000"/><stop offset="0.3018" stop-color="#ccd905"/><stop offset="0.355" stop-color="#c0e109"/><stop offset="0.4142" stop-color="#a8ea16"/><stop offset="0.4852" stop-color="#83f42f"/><stop offset="0.5562" stop-color="#5ef851"/><stop offset="0.6272" stop-color="#48f66f"/><stop offset="0.6982" stop-color="#39f388"/><stop offset="0.7692" stop-color="#2cf09c"/><stop offset="0.8402" stop-color="#27eda4"/><stop offset="0.9112" stop-color="#23ebaa"/><stop offset="1" stop-color="#1de9b2"/></linearGradient>
<linearGradient id="g43"><stop offset="0" stop-color="#e41026"/><stop offset="0.0178" stop-color="#e61422"/><stop offset="0.0355" stop-color="#e9181d"/><stop offset="0.0533" stop-color="#ed1f16"/><stop offset="0.071" stop-color="#f22c0f"/><stop offset="0.0947" stop-color="#fb4e0a"/><stop offset="0.1183" stop-color="#fe7405"/><stop offset="0.1479" stop-color="#f99b00"/><stop offset="0.1775" stop-color="#f0b100"/><stop offset="0.213" stop-color="#e6c300"/><stop offset="0.2544" stop-color="#dad100"/><stop offset="0.3018" stop-color="#cbda05"/><stop offset="0.355" stop-color="#bee20a"/><stop offset="0.4142" stop-color="#a6eb17"/><stop offset="0.4852" stop-color="#81f531"/><stop offset="0.5562" stop-color="#5cf853"/><stop offset="0.6272" stop-color="#47f571"/><stop offset="0.6982" stop-color="#38f289"/><stop offset="0.7692" stop-color="#2cf09d"/><stop offset="0.8402" stop-color="#27eea3"/><stop offset="0.9112" stop-color="#23ebaa"/><stop offset="1" stop-color="#1ee9b1"/></linearGradient>
<linearGradient id="g44"><stop offset="0" stop-color="#e00a2d"/><stop offset="0.0178" stop-color="#e30f28"/><stop offset="0.0355" stop-color="#e61521"/><stop offset="0.0533" stop-color="#eb1c19"/><stop offset="0.071" stop-color="#f1290f"/><stop offset="0.0947" stop-color="#fa4b0a"/><stop offset="0.1183" stop-color="#fe7005"/><stop offset="0.1479" stop-color="#fa9900"/><stop offset="0.1775" stop-color="#f0b000"/><stop offset="0.213" stop-color="#e6c300"/><stop offset="0.2544" stop-color="#dad101"/><stop offset="0.3018" stop-color="#cadb05"/><stop offset="0.355" stop-color="#bce20b"/><stop offset="0.4142" stop-color="#a4eb18"/><stop offset="0.4852" stop-color="#7ff532"/><stop offset="0.5562" stop-color="#5bf854"/><stop offset="0.6272" stop-color="#46f573"/><stop offset="0.6982" stop-color="#38f28a"/><stop offset="0.7692" stop-color="#2cf09d"/><stop offset="0.8402" stop-color="#27eea3"/><stop offset="0.9112" stop-color="#23eca9"/><stop offset="1" stop-color="#1ee9b1"/></linearGradient>
<linearGradient id="g45"><stop offset="0" stop-color="#a1ec1a"/><stop offset="0.0176" stop-color="#9fed1b"/><stop offset="0.0353" stop-color="#9ded1d"/><stop offset="0.0529" stop-color="#9bee1e"/><stop offset="0.0706" stop-color="#99ef1f"/><stop offset="0.0941" stop-color="#96ef21"/><stop offset="0.1176" stop-color="#94f022"/><stop offset="0.1471" stop-color="#91f124"/><stop offset="0.1765" stop-color="#8ef126"/><stop offset="0.2118" stop-color="#8bf229"/><stop offset="0.2529" stop-color="#88f32b"/><stop offset="0.3" stop-color="#84f42e"/><stop offset="0.3529" stop-color="#81f530"/><stop offset="0.4118" stop-color="#7ef532"/><stop offset="0.4824" stop-color="#7bf634"/><stop offset="0.5529" stop-color="#79f736"/><stop offset="0.6235" stop-color="#78f737"/><stop offset="0.6941" stop-color="#77f738"/><stop offset="0.7647" stop-color="#75f839"/><stop offset="0.8353" stop-color="#73f83b"/><stop offset="0.9059" stop-color="#71f83e"/><stop offset="1" stop-color="#6af844"/></linearGradient>
<linearGradient id="g46"><stop offset="0" stop-color="#aae914"/><stop offset="0.0176" stop-color="#a8ea16"/><stop offset="0.0353" stop-color="#a6ea17"/><stop offset="0.0529" stop-color="#a4eb18"/><stop offset="0.0706" stop-color="#a2ec19"/><stop offset="0.0941" stop-color="#a0ec1b"/><stop offset="0.1176" stop-color="#9ded1c"/><stop offset="0.1471" stop-color="#9bee1e"/><stop offset="0.1765" stop-color="#99ef1f"/><stop offset="0.2118" stop-color="#96ef21"/><stop offset="0.2529" stop-color="#93f022"/><stop offset="0.3" stop-color="#90f125"/><stop offset="0.3529" stop-color="#8df227"/><stop offset="0.4118" stop-color="#8af32a"/><stop offset="0.4824" stop-color="#86f32c"/><stop offset="0.5529" stop-color="#84f42e"/><stop offset="0.6235" stop-color="#82f530"/><stop offset="0.6941" stop-color="#80f531"/><stop offset="0.7647" stop-color="#7ef532"/><stop offset="0.8353" stop-color="#7cf634"/><stop offset="0.9059" stop-color="#79f736"/><stop offset="1" stop-color="#72f83c"/></linearGradient>
<linearGradient id="g47"><stop offset="0" stop-color="#b1e710"/><stop offset="0.0176" stop-color="#afe711"/><stop offset="0.0353" stop-color="#aee812"/><stop offset="0.0529" stop-color="#ace913"/><stop offset="0.0706" stop-color="#aae915"/><stop offset="0.0941" stop-color="#a8ea16"/><stop offset="0.1176" stop-color="#a5eb17"/><stop offset="0.1471" stop-color="#a3eb19"/><stop offset="0.1765" stop-color="#a1ec1a"/><stop offset="0.2118" stop-color="#9eed1c"/><stop offset="0.2529" stop-color="#9cee1d"/><stop offset="0.3" stop-color="#99ee1f"/><stop offset="0.3529" stop-color="#96ef21"/><stop offset="0.4118" stop-color="#93f023"/><stop offset="0.4824" stop-color="#8ff126"/><stop offset="0.5529" stop-color="#8cf228"/><stop offset="0.6235" stop-color="#89f32a"/><stop offset="0.6941" stop-color="#87f32c"/><stop offset="0.7647" stop-color="#84f42e"/><stop offset="0.8353" stop-color="#81f530"/><stop offset="0.9059" stop-color="#7df633"/><stop offset="1" stop-color="#75f839"/></linearGradient>
<linearGradient id="g48"><stop offset="0" stop-color="#b8e40d"/><stop offset="0.0176" stop-color="#b6e50e"/><stop offset="0.0353" stop-color="#b4e60f"/><stop offset="0.0529" stop-color="#b3e610"/><stop offset="0.0706" stop-color="#b1e710"/><stop offset="0.0941" stop-color="#b0e711"/><stop offset="0.1176" stop-color="#aee812"/><stop offset="0.1471" stop-color="#ace913"/><stop offset="0.1765" stop-color="#aae914"/><stop offset="0.2118" stop-color="#a8ea16"/><stop offset="0.2529" stop-color="#a5eb17"/><stop offset="0.3" stop-color="#a2ec19"/><stop offset="0.3529" stop-color="#9fec1b"/><stop offset="0.4118" stop-color="#9cee1d"/><stop offset="0.4824" stop-color="#98ef20"/><stop offset="0.5529" stop-color="#94f022"/><stop offset="0.6235" stop-color="#91f125"/><stop offset="0.6941" stop-color="#8df227"/><stop offset="0.7647" stop-color="#89f32a"/><stop offset="0.8353" stop-color="#85f42d"/><stop offset="0.9059" stop-color="#80f531"/><stop offset="1" stop-color="#78f737"/></linearGradient>
<linearGradient id="g49"><stop offset="0" stop-color="#bfe10a"/><stop offset="0.0176" stop-color="#bde20b"/><stop offset="0.0353" stop-color="#bbe30b"/><stop offset="0.0529" stop-color="#bae30c"/><stop offset="0.0706" stop-color="#b9e40d"/><stop offset="0.0941" stop-color="#b7e40d"/><stop offset="0.1176" stop-color="#b6e50e"/><stop offset="0.1471" stop-color="#b4e50f"/><stop offset="0.1765" stop-color="#b3e610"/><stop offset="0.2118" stop-color="#b1e710"/><stop offset="0.2529" stop-color="#afe711"/><stop offset="0.3" stop-color="#ade813"/><stop offset="0.3529" stop-color="#aae915"/><stop offset="0.4118" stop-color="#a6eb17"/><stop offset="0.4824" stop-color="#a1ec1a"/><stop offset="0.5529" stop-color="#9cee1d"/><stop offset="0.6235" stop-color="#98ef20"/><stop offset="0.6941" stop-color="#93f023"/><stop offset="0.7647" stop-color="#8ef227"/><stop offset="0.8353" stop-color="#88f32b"/><stop offset="0.9059" stop-color="#83f42f"/><stop offset="1" stop-color="#7af736"/></linearGradient>
<linearGradient id="g50"><stop offset="0" stop-color="#c5de07"/><stop offset="0.0176" stop-color="#c4df07"/><stop offset="0.0353" stop-color="#c3e008"/><stop offset="0.0529" stop-color="#c2e008"/><stop offset="0.0706" stop-color="#c1e009"/><stop offset="0.0941" stop-color="#c0e109"/><stop offset="0.1176" stop-color="#bfe10a"/><stop offset="0.1471" stop-color="#bde20a"/><stop offset="0.1765" stop-color="#bce20b"/><stop offset="0.2118" stop-color="#bbe30c"/><stop offset="0.2529" stop-color="#b9e40d"/><stop offset="0.3" stop-color="#b7e50e"/><stop offset="0.3529" stop-color="#b4e60f"/><stop offset="0.4118" stop-color="#b0e711"/><stop offset="0.4824" stop-color="#abe914"/><stop offset="0.5529" stop-color="#a5eb18"/><stop offset="0.6235" stop-color="#9eed1c"/><stop offset="0.6941" stop-color="#98ef20"/><stop offset="0.7647" stop-color="#92f124"/><stop offset="0.8353" stop-color="#8bf229"/><stop offset="0.9059" stop-color="#84f42e"/><stop offset="1" stop-color="#7bf635"/></linearGradient>
<linearGradient id="g51"><stop offset="0" stop-color="#cadb05"/><stop offset="0.0176" stop-color="#c9db06"/><stop offset="0.0353" stop-color="#c8dc06"/><stop offset="0.0529" stop-color="#c8dc06"/><stop offset="0.0706" stop-color="#c7dd06"/><stop offset="0.0941" stop-color="#c7dd06"/><stop offset="0.1176" stop-color="#c6dd07"/><stop offset="0.1471" stop-color="#c6de07"/><stop offset="0.1765" stop-color="#c5de07"/><stop offset="0.2118" stop-color="#c4df07"/><stop offset="0.2529" stop-color="#c3df08"/><stop offset="0.3" stop-color="#c1e009"/><stop offset="0.3529" stop-color="#bee20a"/><stop offset="0.4118" stop-color="#b9e30c"/><stop offset="0.4824" stop-color="#b4e60f"/><stop offset="0.5529" stop-color="#ade812"/><stop offset="0.6235" stop-color="#a5eb18"/><stop offset="0.6941" stop-color="#9ced1d"/><stop offset="0.7647" stop-color="#95f022"/><stop offset="0.8353" stop-color="#8cf228"/><stop offset="0.9059" stop-color="#85f42d"/><stop offset="1" stop-color="#7bf635"/></linearGradient>
<linearGradient id="g52"><stop offset="0" stop-color="#d1d603"/><stop offset="0.0176" stop-color="#cfd704"/><stop offset="0.0353" stop-color="#cfd804"/><stop offset="0.0529" stop-color="#ced804"/><stop offset="0.0706" stop-color="#ced804"/><stop offset="0.0941" stop-color="#ced804"/><stop offset="0.1176" stop-color="#ced804"/><stop offset="0.1471" stop-color="#cdd904"/><stop offset="0.1765" stop-color="#ccd905"/><stop offset="0.2118" stop-color="#cbda05"/><stop offset="0.2529" stop-color="#cadb05"/><stop offset="0.3" stop-color="#c8dc06"/><stop offset="0.3529" stop-color="#c6de07"/><stop offset="0.4118" stop-color="#c3e008"/><stop offset="0.4824" stop-color="#bce20b"/><stop offset="0.5529" stop-color="#b4e50f"/><stop offset="0.6235" stop-color="#abe914"/><stop offset="0.6941" stop-color="#a0ec1b"/><stop offset="0.7647" stop-color="#96ef21"/><stop offset="0.8353" stop-color="#8cf228"/><stop offset="0.9059" stop-color="#84f42e"/><stop offset="1" stop-color="#7bf635"/></linearGradient>
<linearGradient id="g53"><stop offset="0" stop-color="#dcd000"/><stop offset="0.0176" stop-color="#dad100"/><stop offset="0.0353" stop-color="#d9d201"/><stop offset="0.0529" stop-color="#d8d201"/><stop offset="0.0706" stop-color="#d7d301"/><stop offset="0.0941" stop-color="#d7d302"/><stop offset="0.1176" stop-color="#d6d302"/><stop offset="0.1471" stop-color="#d5d402"/><stop offset="0.1765" stop-color="#d4d402"/><stop offset="0.2118" stop-color="#d3d503"/><stop offset="0.2529" stop-color="#d1d603"/><stop offset="0.3" stop-color="#cfd804"/><stop offset="0.3529" stop-color="#ccd905"/><stop offset="0.4118" stop-color="#c9db06"/><stop offset="0.4824" stop-color="#c4df07"/><stop offset="0.5529" stop-color="#bbe30b"/><stop offset="0.6235" stop-color="#b0e711"/><stop offset="0.6941" stop-color="#a3ec19"/><stop offset="0.7647" stop-color="#96ef21"/><stop offset="0.8353" stop-color="#8bf229"/><stop offset="0.9059" stop-color="#82f42f"/><stop offset="1" stop-color="#79f736"/></linearGradient>
<linearGradient id="g54"><stop offset="0" stop-color="#e2c800"/><stop offset="0.0176" stop-color="#e1c900"/><stop offset="0.0353" stop-color="#e0cb00"/><stop offset="0.0529" stop-color="#dfcc00"/><stop offset="0.0706" stop-color="#dfcc00"/><stop offset="0.0941" stop-color="#decd00"/><stop offset="0.1176" stop-color="#dece00"/><stop offset="0.1471" stop-color="#ddcf00"/><stop offset="0.1765" stop-color="#dcd000"/><stop offset="0.2118" stop-color="#dbd100"/><stop offset="0.2529" stop-color="#d9d201"/><stop offset="0.3" stop-color="#d6d402"/><stop offset="0.3529" stop-color="#d2d603"/><stop offset="0.4118" stop-color="#ced804"/><stop offset="0.4824" stop-color="#c8dc06"/><stop offset="0.5529" stop-color="#c1e009"/><stop offset="0.6235" stop-color="#b3e60f"/><stop offset="0.6941" stop-color="#a4eb18"/><stop offset="0.7647" stop-color="#95f021"/><stop offset="0.8353" stop-color="#89f32a"/><stop offset="0.9059" stop-color="#80f531"/><stop offset="1" stop-color="#77f738"/></linearGradient>
<linearGradient id="g55"><stop offset="0" stop-color="#e9bf00"/><stop offset="0.0176" stop-color="#e7c100"/><stop offset="0.0353" stop-color="#e6c200"/><stop offset="0.0529" stop-color="#e5c400"/><stop offset="0.0706" stop-color="#e5c400"/><stop offset="0.0941" stop-color="#e4c600"/><stop offset="0.1176" stop-color="#e3c600"/><stop offset="0.1471" stop-color="#e2c700"/><stop offset="0.1765" stop-color="#e2c900"/><stop offset="0.2118" stop-color="#e0ca00"/><stop offset="0.2529" stop-color="#dfcc00"/><stop offset="0.3" stop-color="#dccf00"/><stop offset="0.3529" stop-color="#d8d201"/><stop offset="0.4118" stop-color="#d3d503"/><stop offset="0.4824" stop-color="#ccd905"/><stop offset="0.5529" stop-color="#c4df07"/><stop offset="0.6235" stop-color="#b6e50e"/><stop offset="0.6941" stop-color="#a4eb18"/><stop offset="0.7647" stop-color="#94f022"/><stop offset="0.8353" stop-color="#87f32c"/><stop offset="0.9059" stop-color="#7ef532"/><stop offset="1" stop-color="#76f738"/></linearGradient>
<linearGradient id="g56"><stop offset="0" stop-color="#f0b100"/><stop offset="0.0176" stop-color="#eeb400"/><stop offset="0.0353" stop-color="#edb600"/><stop offset="0.0529" stop-color="#ecb800"/><stop offset="0.0706" stop-color="#ebb900"/><stop offset="0.0941" stop-color="#eabb00"/><stop offset="0.1176" stop-color="#eabd00"/><stop offset="0.1471" stop-color="#e9bf00"/><stop offset="0.1765" stop-color="#e7c100"/><stop offset="0.2118" stop-color="#e6c300"/><stop offset="0.2529" stop-color="#e3c600"/><stop offset="0.3" stop-color="#e0ca00"/><stop offset="0.3529" stop-color="#ddcf00"/><stop offset="0.4118" stop-color="#d7d301"/><stop offset="0.4824" stop-color="#cfd804"/><stop offset="0.5529" stop-color="#c6dd07"/><stop offset="0.6235" stop-color="#b7e40d"/><stop offset="0.6941" stop-color="#a4eb18"/><stop offset="0.7647" stop-color="#92f124"/><stop offset="0.8353" stop-color="#85f42d"/><stop offset="0.9059" stop-color="#7df633"/><stop offset="1" stop-color="#76f839"/></linearGradient>
<linearGradient id="g57"><stop offset="0" stop-color="#f79f00"/><stop offset="0.0176" stop-color="#f6a400"/><stop offset="0.0353" stop-color="#f4a700"/><stop offset="0.0529" stop-color="#f4a900"/><stop offset="0.0706" stop-color="#f3aa00"/><stop offset="0.0941" stop-color="#f2ac00"/><stop offset="0.1176" stop-color="#f1ae00"/><stop offset="0.1471" stop-color="#efb200"/><stop offset="0.1765" stop-color="#edb500"/><stop offset="0.2118" stop-color="#ebbb00"/><stop offset="0.2529" stop-color="#e7c100"/><stop offset="0.3" stop-color="#e3c600"/><stop offset="0.3529" stop-color="#dfcc00"/><stop offset="0.4118" stop-color="#dad101"/><stop offset="0.4824" stop-color="#d1d603"/><stop offset="0.5529" stop-color="#c7dd06"/><stop offset="0.6235" stop-color="#b8e40d"/><stop offset="0.6941" stop-color="#a4eb18"/><stop offset="0.7647" stop-color="#91f124"/><stop offset="0.8353" stop-color="#84f42e"/><stop offset="0.9059" stop-color="#7df633"/><stop offset="1" stop-color="#76f738"/></linearGradient>
<linearGradient id="g58"><stop offset="0" stop-color="#fd8802"/><stop offset="0.0176" stop-color="#fc8e01"/><stop offset="0.0353" stop-color="#fc9200"/><stop offset="0.0529" stop-color="#fc9400"/><stop offset="0.0706" stop-color="#fb9500"/><stop offset="0.0941" stop-color="#fa9900"/><stop offset="0.1176" stop-color="#f89e00"/><stop offset="0.1471" stop-color="#f6a400"/><stop offset="0.1765" stop-color="#f3aa00"/><stop offset="0.2118" stop-color="#f0b100"/><stop offset="0.2529" stop-color="#ebba00"/><stop offset="0.3" stop-color="#e6c300"/><stop offset="0.3529" stop-color="#e1ca00"/><stop offset="0.4118" stop-color="#dbd100"/><stop offset="0.4824" stop-color="#d2d603"/><stop offset="0.5529" stop-color="#c7dc06"/><stop offset="0.6235" stop-color="#b8e40d"/><stop offset="0.6941" stop-color="#a3eb18"/><stop offset="0.7647" stop-color="#91f124"/><stop offset="0.8353" stop-color="#85f42e"/><stop offset="0.9059" stop-color="#7ef633"/><stop offset="1" stop-color="#78f737"/></linearGradient>
<linearGradient id="g59"><stop offset="0" stop-color="#fe6d06"/><stop offset="0.0176" stop-color="#fe7305"/><stop offset="0.0353" stop-color="#fe7804"/><stop offset="0.0529" stop-color="#fd7c03"/><stop offset="0.0706" stop-color="#fd7f03"/><stop offset="0.0941" stop-color="#fd8502"/><stop offset="0.1176" stop-color="#fc8d01"/><stop offset="0.1471" stop-color="#fc9500"/><stop offset="0.1765" stop-color="#f89e00"/><stop offset="0.2118" stop-color="#f4a900"/><stop offset="0.2529" stop-color="#eeb300"/><stop offset="0.3" stop-color="#e8c000"/><stop offset="0.3529" stop-color="#e2c900"/><stop offset="0.4118" stop-color="#dcd000"/><stop offset="0.4824" stop-color="#d2d603"/><stop offset="0.5529" stop-color="#c7dd06"/><stop offset="0.6235" stop-color="#b7e40d"/><stop offset="0.6941" stop-color="#a3eb19"/><stop offset="0.7647" stop-color="#92f124"/><stop offset="0.8353" stop-color="#85f42d"/><stop offset="0.9059" stop-color="#7ff532"/><stop offset="1" stop-color="#79f736"/></linearGradient>
<linearGradient id="g60"><stop offset="0" stop-color="#fc500a"/><stop offset="0.0176" stop-color="#fd5609"/><stop offset="0.0353" stop-color="#ff5b08"/><stop offset="0.0529" stop-color="#ff6007"/><stop offset="0.0706" stop-color="#fe6607"/><stop offset="0.0941" stop-color="#fe6e05"/><stop offset="0.1176" stop-color="#fe7804"/><stop offset="0.1471" stop-color="#fd8402"/><stop offset="0.1765" stop-color="#fc9100"/><stop offset="0.2118" stop-color="#f89f00"/><stop offset="0.2529" stop-color="#f1ae00"/><stop offset="0.3" stop-color="#eabd00"/><stop offset="0.3529" stop-color="#e2c800"/><stop offset="0.4118" stop-color="#dcd000"/><stop offset="0.4824" stop-color="#d1d603"/><stop offset="0.5529" stop-color="#c6dd07"/><stop offset="0.6235" stop-color="#b6e50e"/><stop offset="0.6941" stop-color="#a3eb19"/><stop offset="0.7647" stop-color="#92f023"/><stop offset="0.8353" stop-color="#86f32c"/><stop offset="0.9059" stop-color="#80f531"/><stop offset="1" stop-color="#7bf635"/></linearGradient>
<linearGradient id="g61"><stop offset="0" stop-color="#f5370d"/><stop offset="0.0176" stop-color="#f73d0c"/><stop offset="0.0353" stop-color="#f8430c"/><stop offset="0.0529" stop-color="#fa4a0b"/><stop offset="0.0706" stop-color="#fc510a"/><stop offset="0.0941" stop-color="#ff5b08"/><stop offset="0.1176" stop-color="#fe6806"/><stop offset="0.1471" stop-color="#fe7704"/><stop offset="0.1765" stop-color="#fd8702"/><stop offset="0.2118" stop-color="#fb9800"/><stop offset="0.2529" stop-color="#f3aa00"/><stop offset="0.3" stop-color="#eabb00"/><stop offset="0.3529" stop-color="#e2c700"/><stop offset="0.4118" stop-color="#dbd100"/><stop offset="0.4824" stop-color="#d0d703"/><stop offset="0.5529" stop-color="#c5de07"/><stop offset="0.6235" stop-color="#b6e50e"/><stop offset="0.6941" stop-color="#a3eb19"/><stop offset="0.7647" stop-color="#93f023"/><stop offset="0.8353" stop-color="#87f32b"/><stop offset="0.9059" stop-color="#82f530"/><stop offset="1" stop-color="#7df633"/></linearGradient>
<linearGradient id="g62"><stop offset="0" stop-color="#ee2113"/><stop offset="0.0176" stop-color="#f02510"/><stop offset="0.0353" stop-color="#f22c0f"/><stop offset="0.0529" stop-color="#f4330e"/><stop offset="0.0706" stop-color="#f63b0d"/><stop offset="0.0941" stop-color="#fa490b"/><stop offset="0.1176" stop-color="#fe5809"/><stop offset="0.1471" stop-color="#fe6c06"/><stop offset="0.1765" stop-color="#fd7e03"/><stop offset="0.2118" stop-color="#fc9200"/><stop offset="0.2529" stop-color="#f4a800"/><stop offset="0.3" stop-color="#ebba00"/><stop offset="0.3529" stop-color="#e3c700"/><stop offset="0.4118" stop-color="#dad100"/><stop offset="0.4824" stop-color="#cfd804"/><stop offset="0.5529" stop-color="#c4de07"/><stop offset="0.6235" stop-color="#b5e50e"/><stop offset="0.6941" stop-color="#a3eb19"/><stop offset="0.7647" stop-color="#94f022"/><stop offset="0.8353" stop-color="#89f32a"/><stop offset="0.9059" stop-color="#83f42e"/><stop offset="1" stop-color="#7ff532"/></linearGradient>
<linearGradient id="g63"><stop offset="0" stop-color="#e8171f"/><stop offset="0.0176" stop-color="#ea1a1b"/><stop offset="0.0353" stop-color="#ed1f16"/><stop offset="0.0529" stop-color="#ef2311"/><stop offset="0.0706" stop-color="#f22c0f"/><stop offset="0.0941" stop-color="#f63c0d"/><stop offset="0.1176" stop-color="#fb4e0a"/><stop offset="0.1471" stop-color="#ff6407"/><stop offset="0.1765" stop-color="#fd7904"/><stop offset="0.2118" stop-color="#fc9001"/><stop offset="0.2529" stop-color="#f4a700"/><stop offset="0.3" stop-color="#ebb900"/><stop offset="0.3529" stop-color="#e3c700"/><stop offset="0.4118" stop-color="#dad101"/><stop offset="0.4824" stop-color="#cdd804"/><stop offset="0.5529" stop-color="#c4df07"/><stop offset="0.6235" stop-color="#b5e50f"/><stop offset="0.6941" stop-color="#a3eb19"/><stop offset="0.7647" stop-color="#94f022"/><stop offset="0.8353" stop-color="#8af229"/><stop offset="0.9059" stop-color="#85f42d"/><stop offset="1" stop-color="#81f530"/></linearGradient>
<linearGradient id="g64"><stop offset="0" stop-color="#e10d2a"/><stop offset="0.0176" stop-color="#e41126"/><stop offset="0.0353" stop-color="#e71521"/><stop offset="0.0529" stop-color="#ea1b1a"/><stop offset="0.0706" stop-color="#ee2113"/><stop offset="0.0941" stop-color="#f4320e"/><stop offset="0.1176" stop-color="#f9450b"/><stop offset="0.1471" stop-color="#ff5d08"/><stop offset="0.1765" stop-color="#fe7504"/><stop offset="0.2118" stop-color="#fc9001"/><stop offset="0.2529" stop-color="#f4a700"/><stop offset="0.3" stop-color="#ecb900"/><stop offset="0.3529" stop-color="#e3c700"/><stop offset="0.4118" stop-color="#d9d201"/><stop offset="0.4824" stop-color="#ccd905"/><stop offset="0.5529" stop-color="#c3df08"/><stop offset="0.6235" stop-color="#b4e50f"/><stop offset="0.6941" stop-color="#a3eb19"/><stop offset="0.7647" stop-color="#95f021"/><stop offset="0.8353" stop-color="#8cf228"/><stop offset="0.9059" stop-color="#87f32c"/><stop offset="1" stop-color="#83f42f"/></linearGradient>
<linearGradient id="g65"><stop offset="0" stop-color="#dc0434"/><stop offset="0.0176" stop-color="#de0830"/><stop offset="0.0353" stop-color="#e20e29"/><stop offset="0.0529" stop-color="#e61422"/><stop offset="0.0706" stop-color="#eb1c1a"/><stop offset="0.0941" stop-color="#f1290f"/><stop offset="0.1176" stop-color="#f73d0c"/><stop offset="0.1471" stop-color="#fe5709"/><stop offset="0.1765" stop-color="#fe7105"/><stop offset="0.2118" stop-color="#fc8f01"/><stop offset="0.2529" stop-color="#f5a600"/><stop offset="0.3" stop-color="#ecb800"/><stop offset="0.3529" stop-color="#e3c600"/><stop offset="0.4118" stop-color="#d9d201"/><stop offset="0.4824" stop-color="#cbda05"/><stop offset="0.5529" stop-color="#c3df08"/><stop offset="0.6235" stop-color="#b4e50f"/><stop offset="0.6941" stop-color="#a4eb18"/><stop offset="0.7647" stop-color="#96ef21"/><stop offset="0.8353" stop-color="#8df227"/><stop offset="0.9059" stop-color="#89f32a"/><stop offset="1" stop-color="#85f42d"/></linearGradient>
<linearGradient id="g66"><stop offset="0" stop-color="#d6033d"/><stop offset="0.0176" stop-color="#da0437"/><stop offset="0.0353" stop-color="#de0830"/><stop offset="0.0529" stop-color="#e30f28"/><stop offset="0.0706" stop-color="#e8171f"/><stop offset="0.0941" stop-color="#ef2212"/><stop offset="0.1176" stop-color="#f5360d"/><stop offset="0.1471" stop-color="#fc510a"/><stop offset="0.1765" stop-color="#fe6d06"/><stop offset="0.2118" stop-color="#fc8b01"/><stop offset="0.2529" stop-color="#f6a400"/><stop offset="0.3" stop-color="#edb700"/><stop offset="0.3529" stop-color="#e4c600"/><stop offset="0.4118" stop-color="#dad101"/><stop offset="0.4824" stop-color="#cbda05"/><stop offset="0.5529" stop-color="#c3e008"/><stop offset="0.6235" stop-color="#b5e50f"/><stop offset="0.6941" stop-color="#a5eb18"/><stop offset="0.7647" stop-color="#97ef20"/><stop offset="0.8353" stop-color="#8ff126"/><stop offset="0.9059" stop-color="#8bf229"/><stop offset="1" stop-color="#87f32c"/></linearGradient>
<linearGradient id="g67"><stop offset="0" stop-color="#0810e4"/><stop offset="0.0179" stop-color="#0910e4"/><stop offset="0.0357" stop-color="#0a0fe3"/><stop offset="0.0536" stop-color="#0b0fe3"/><stop offset="0.0714" stop-color="#0c0fe3"/><stop offset="0.0952" stop-color="#0c0ee3"/><stop offset="0.119" stop-color="#0d0ee3"/><stop offset="0.1488" stop-color="#0d0ee3"/><stop offset="0.1786" stop-color="#0d0ee2"/><stop offset="0.2143" stop-color="#0d0ee2"/><stop offset="0.256" stop-color="#0d0ee3"/><stop offset="0.3036" stop-color="#0d0ee3"/><stop offset="0.3571" stop-color="#0c0fe3"/><stop offset="0.4167" stop-color="#0a0fe3"/><stop offset="0.4881" stop-color="#0810e4"/><stop offset="0.5595" stop-color="#0910e4"/><stop offset="0.631" stop-color="#0b0fe3"/><stop offset="0.7024" stop-color="#0c0ee3"/><stop offset="0.7738" stop-color="#0d0ee2"/><stop offset="0.8452" stop-color="#0d0ee3"/><stop offset="0.9167" stop-color="#0c0ee3"/><stop offset="1" stop-color="#0c0ee3"/></linearGradient>
<linearGradient id="g68"><stop offset="0" stop-color="#0827ea"/><stop offset="0.0179" stop-color="#0825e9"/><stop offset="0.0357" stop-color="#0825e9"/><stop offset="0.0536" stop-color="#0825e9"/><stop offset="0.0714" stop-color="#0824e9"/><stop offset="0.0952" stop-color="#0824e9"/><stop offset="0.119" stop-color="#0824e9"/><stop offset="0.1488" stop-color="#0824e9"/><stop offset="0.1786" stop-color="#0824e9"/><stop offset="0.2143" stop-color="#0823e9"/><stop offset="0.256" stop-color="#0823e9"/><stop offset="0.3036" stop-color="#0822e9"/><stop offset="0.3571" stop-color="#0821e8"/><stop offset="0.4167" stop-color="#0821e8"/><stop offset="0.4881" stop-color="#0820e8"/><stop offset="0.5595" stop-color="#081fe8"/><stop offset="0.631" stop-color="#081ce7"/><stop offset="0.7024" stop-color="#081ae7"/><stop offset="0.7738" stop-color="#0819e6"/><stop offset="0.8452" stop-color="#0818e6"/><stop offset="0.9167" stop-color="#0817e6"/><stop offset="1" stop-color="#0817e6"/></linearGradient>
<linearGradient id="g69"><stop offset="0" stop-color="#073bee"/><stop offset="0.0179" stop-color="#073aee"/><stop offset="0.0357" stop-color="#0739ed"/><stop offset="0.0536" stop-color="#0739ed"/><stop offset="0.0714" stop-color="#0738ed"/><stop offset="0.0952" stop-color="#0738ed"/><stop offset="0.119" stop-color="#0738ed"/><stop offset="0.1488" stop-color="#0738ed"/><stop offset="0.1786" stop-color="#0737ed"/><stop offset="0.2143" stop-color="#0737ed"/><stop offset="0.256" stop-color="#0736ed"/><stop offset="0.3036" stop-color="#0735ed"/><stop offset="0.3571" stop-color="#0734ec"/><stop offset="0.4167" stop-color="#0832ec"/><stop offset="0.4881" stop-color="#0830ec"/><stop offset="0.5595" stop-color="#082deb"/><stop offset="0.631" stop-color="#082beb"/><stop offset="0.7024" stop-color="#0829ea"/><stop offset="0.7738" stop-color="#0826e9"/><stop offset="0.8452" stop-color="#0823e9"/><stop offset="0.9167" stop-color="#0821e8"/><stop offset="1" stop-color="#0820e8"/></linearGradient>
<linearGradient id="g70"><stop offset="0" stop-color="#0654f2"/><stop offset="0.0179" stop-color="#0653f2"/><stop offset="0.0357" stop-color="#0652f2"/><stop offset="0.0536" stop-color="#0651f2"/><stop offset="0.0714" stop-color="#0650f2"/><stop offset="0.0952" stop-color="#0650f2"/><stop offset="0.119" stop-color="#064ff2"/><stop offset="0.1488" stop-color="#064ff2"/><stop offset="0.1786" stop-color="#064ef2"/><stop offset="0.2143" stop-color="#064ef2"/><stop offset="0.256" stop-color="#064df1"/><stop offset="0.3036" stop-color="#064bf1"/><stop offset="0.3571" stop-color="#0649f1"/><stop offset="0.4167" stop-color="#0646f0"/><stop offset="0.4881" stop-color="#0743ef"/><stop offset="0.5595" stop-color="#0740ef"/><stop offset="0.631" stop-color="#073dee"/><stop offset="0.7024" stop-color="#0739ed"/><stop offset="0.7738" stop-color="#0735ed"/><stop offset="0.8452" stop-color="#0832ec"/><stop offset="0.9167" stop-color="#082eeb"/><stop offset="1" stop-color="#082ceb"/></linearGradient>
<linearGradient id="g71"><stop offset="0" stop-color="#0671f4"/><stop offset="0.0179" stop-color="#0670f4"/><stop offset="0.0357" stop-color="#066ff4"/><stop offset="0.0536" stop-color="#066ef4"/><stop offset="0.0714" stop-color="#066df4"/><stop offset="0.0952" stop-color="#066df4"/><stop offset="0.119" stop-color="#066cf4"/><stop offset="0.1488" stop-color="#066bf4"/><stop offset="0.1786" stop-color="#066bf4"/><stop offset="0.2143" stop-color="#066af4"/><stop offset="0.256" stop-color="#0668f4"/><stop offset="0.3036" stop-color="#0666f3"/><stop offset="0.3571" stop-color="#0663f3"/><stop offset="0.4167" stop-color="#0660f3"/><stop offset="0.4881" stop-color="#065cf3"/><stop offset="0.5595" stop-color="#0657f2"/><stop offset="0.631" stop-color="#0653f2"/><stop offset="0.7024" stop-color="#064ef2"/><stop offset="0.7738" stop-color="#0649f1"/><stop offset="0.8452" stop-color="#0745f0"/><stop offset="0.9167" stop-color="#0741ef"/><stop offset="1" stop-color="#073dee"/></linearGradient>
<linearGradient id="g72"><stop offset="0" stop-color="#0491f4"/><stop offset="0.0179" stop-color="#0490f4"/><stop offset="0.0357" stop-color="#048ff4"/><stop offset="0.0536" stop-color="#048ef4"/><stop offset="0.0714" stop-color="#048ef4"/><stop offset="0.0952" stop-color="#048df4"/><stop offset="0.119" stop-color="#048cf4"/><stop offset="0.1488" stop-color="#048cf4"/><stop offset="0.1786" stop-color="#048bf4"/><stop offset="0.2143" stop-color="#048af4"/><stop offset="0.256" stop-color="#0488f4"/><stop offset="0.3036" stop-color="#0585f4"/><stop offset="0.3571" stop-color="#0581f4"/><stop offset="0.4167" stop-color="#057ef4"/><stop offset="0.4881" stop-color="#0579f4"/><stop offset="0.5595" stop-color="#0673f4"/><stop offset="0.631" stop-color="#066df4"/><stop offset="0.7024" stop-color="#0667f3"/><stop offset="0.7738" stop-color="#0661f3"/><stop offset="0.8452" stop-color="#065bf3"/><stop offset="0.9167" stop-color="#0656f2"/><stop offset="1" stop-color="#0651f2"/></linearGradient>
<linearGradient id="g73"><stop offset="0" stop-color="#06a9ed"/><stop offset="0.0179" stop-color="#06a8ed"/><stop offset="0.0357" stop-color="#06a7ee"/><stop offset="0.0536" stop-color="#06a7ee"/><stop offset="0.0714" stop-color="#06a6ee"/><stop offset="0.0952" stop-color="#06a6ee"/><stop offset="0.119" stop-color="#06a5ee"/><stop offset="0.1488" stop-color="#06a5ee"/><stop offset="0.1786" stop-color="#06a4ee"/><stop offset="0.2143" stop-color="#06a3ef"/><stop offset="0.256" stop-color="#06a2ef"/><stop offset="0.3036" stop-color="#059ff0"/><stop offset="0.3571" stop-color="#059df1"/><stop offset="0.4167" stop-color="#0599f1"/><stop offset="0.4881" stop-color="#0495f3"/><stop offset="0.5595" stop-color="#0490f4"/><stop offset="0.631" stop-color="#048af4"/><stop offset="0.7024" stop-color="#0583f4"/><stop offset="0.7738" stop-color="#057cf4"/><stop offset="0.8452" stop-color="#0675f4"/><stop offset="0.9167" stop-color="#066ff4"/><stop offset="1" stop-color="#0667f3"/></linearGradient>
<linearGradient id="g74"><stop offset="0" stop-color="#0ac1e1"/><stop offset="0.0179" stop-color="#0ac0e2"/><stop offset="0.0357" stop-color="#0abfe2"/><stop offset="0.0536" stop-color="#09bfe3"/><stop offset="0.0714" stop-color="#09bee3"/><stop offset="0.0952" stop-color="#09bee3"/><stop offset="0.119" stop-color="#09bee3"/><stop offset="0.1488" stop-color="#09bde4"/><stop offset="0.1786" stop-color="#09bce4"/><stop offset="0.2143" stop-color="#08bbe5"/><stop offset="0.256" stop-color="#08b9e6"/><stop offset="0.3036" stop-color="#08b6e7"/><stop offset="0.3571" stop-color="#07b3e9"/><stop offset="0.4167" stop-color="#07b0ea"/><stop offset="0.4881" stop-color="#06abec"/><stop offset="0.5595" stop-color="#06a6ee"/><stop offset="0.631" stop-color="#05a0f0"/><stop offset="0.7024" stop-color="#059bf1"/><stop offset="0.7738" stop-color="#0495f3"/><stop offset="0.8452" stop-color="#048ff4"/><stop offset="0.9167" stop-color="#0587f4"/><stop offset="1" stop-color="#057ef4"/></linearGradient>
<linearGradient id="g75"><stop offset="0" stop-color="#16dcc6"/><stop offset="0.0179" stop-color="#16dbc7"/><stop offset="0.0357" stop-color="#15dbc8"/><stop offset="0.0536" stop-color="#15dbc8"/><stop offset="0.0714" stop-color="#15dac8"/><stop offset="0.0952" stop-color="#15dac9"/><stop offset="0.119" stop-color="#15dac9"/><stop offset="0.1488" stop-color="#15d9ca"/><stop offset="0.1786" stop-color="#15d9ca"/><stop offset="0.2143" stop-color="#14d7cd"/><stop offset="0.256" stop-color="#12d4d0"/><stop offset="0.3036" stop-color="#10d0d4"/><stop offset="0.3571" stop-color="#0eccd8"/><stop offset="0.4167" stop-color="#0bc6dd"/><stop offset="0.4881" stop-color="#0ac0e2"/><stop offset="0.5595" stop-color="#08bae6"/><stop offset="0.631" stop-color="#07b3e9"/><stop offset="0.7024" stop-color="#07adeb"/><stop offset="0.7738" stop-color="#06a7ee"/><stop offset="0.8452" stop-color="#05a0f0"/><stop offset="0.9167" stop-color="#059af1"/><stop offset="1" stop-color="#0492f3"/></linearGradient>
<linearGradient id="g76"><stop offset="0" stop-color="#20eaad"/><stop offset="0.0179" stop-color="#1feaaf"/><stop offset="0.0357" stop-color="#1ee9b0"/><stop offset="0.0536" stop-color="#1ee9b1"/><stop offset="0.0714" stop-color="#1de9b2"/><stop offset="0.0952" stop-color="#1de9b2"/><stop offset="0.119" stop-color="#1de8b3"/><stop offset="0.1488" stop-color="#1ce8b4"/><stop offset="0.1786" stop-color="#1be7b6"/><stop offset="0.2143" stop-color="#1be5b8"/><stop offset="0.256" stop-color="#1ae3bb"/><stop offset="0.3036" stop-color="#18e1bf"/><stop offset="0.3571" stop-color="#17dec3"/><stop offset="0.4167" stop-color="#15dac9"/><stop offset="0.4881" stop-color="#11d3d1"/><stop offset="0.5595" stop-color="#0ecbd9"/><stop offset="0.631" stop-color="#0bc3e0"/><stop offset="0.7024" stop-color="#08bbe5"/><stop offset="0.7738" stop-color="#07b4e8"/><stop offset="0.8452" stop-color="#07adeb"/><stop offset="0.9167" stop-color="#06a6ee"/><stop offset="1" stop-color="#059cf1"/></linearGradient>
<linearGradient id="g77"><stop offset="0" stop-color="#41f47a"/><stop offset="0.0179" stop-color="#3df380"/><stop offset="0.0357" stop-color="#3bf384"/><stop offset="0.0536" stop-color="#3af386"/><stop offset="0.0714" stop-color="#39f387"/><stop offset="0.0952" stop-color="#38f289"/><stop offset="0.119" stop-color="#36f28c"/><stop offset="0.1488" stop-color="#34f28f"/><stop offset="0.1786" stop-color="#2ff198"/><stop offset="0.2143" stop-color="#2aef9f"/><stop offset="0.256" stop-color="#27eda4"/><stop offset="0.3036" stop-color="#22ebaa"/><stop offset="0.3571" stop-color="#1de9b2"/><stop offset="0.4167" stop-color="#1ae4ba"/><stop offset="0.4881" stop-color="#17dfc2"/><stop offset="0.5595" stop-color="#15dac9"/><stop offset="0.631" stop-color="#10d1d3"/><stop offset="0.7024" stop-color="#0cc8dc"/><stop offset="0.7738" stop-color="#0abfe2"/><stop offset="0.8452" stop-color="#08b7e7"/><stop offset="0.9167" stop-color="#07afeb"/><stop offset="1" stop-color="#06a4ee"/></linearGradient>
<linearGradient id="g78"><stop offset="0" stop-color="#7af736"/><stop offset="0.0179" stop-color="#75f83a"/><stop offset="0.0357" stop-color="#71f83d"/><stop offset="0.0536" stop-color="#6ff83f"/><stop offset="0.0714" stop-color="#6df841"/><stop offset="0.0952" stop-color="#6bf843"/><stop offset="0.119" stop-color="#69f846"/><stop offset="0.1488" stop-color="#66f849"/><stop offset="0.1786" stop-color="#5df853"/><stop offset="0.2143" stop-color="#52f860"/><stop offset="0.256" stop-color="#48f670"/><stop offset="0.3036" stop-color="#3af386"/><stop offset="0.3571" stop-color="#2aef9e"/><stop offset="0.4167" stop-color="#23eca9"/><stop offset="0.4881" stop-color="#1be7b6"/><stop offset="0.5595" stop-color="#18e0c0"/><stop offset="0.631" stop-color="#15dac8"/><stop offset="0.7024" stop-color="#12d3d1"/><stop offset="0.7738" stop-color="#0cc8dc"/><stop offset="0.8452" stop-color="#09bfe2"/><stop offset="0.9167" stop-color="#08b5e8"/><stop offset="1" stop-color="#06aaec"/></linearGradient>
<linearGradient id="g79"><stop offset="0" stop-color="#afe812"/><stop offset="0.0179" stop-color="#aae915"/><stop offset="0.0357" stop-color="#a6eb17"/><stop offset="0.0536" stop-color="#a3eb19"/><stop offset="0.0714" stop-color="#a1ec1a"/><stop offset="0.0952" stop-color="#9fed1b"/><stop offset="0.119" stop-color="#9ced1d"/><stop offset="0.1488" stop-color="#98ef20"/><stop offset="0.1786" stop-color="#91f124"/><stop offset="0.2143" stop-color="#85f42d"/><stop offset="0.256" stop-color="#75f839"/><stop offset="0.3036" stop-color="#5cf854"/><stop offset="0.3571" stop-color="#45f574"/><stop offset="0.4167" stop-color="#2ef098"/><stop offset="0.4881" stop-color="#22ebab"/><stop offset="0.5595" stop-color="#1be5b8"/><stop offset="0.631" stop-color="#18dfc1"/><stop offset="0.7024" stop-color="#15daca"/><stop offset="0.7738" stop-color="#10d0d4"/><stop offset="0.8452" stop-color="#0bc5de"/><stop offset="0.9167" stop-color="#08bbe5"/><stop offset="1" stop-color="#07afea"/></linearGradient>
<linearGradient id="g80"><stop offset="0" stop-color="#cbda05"/><stop offset="0.0179" stop-color="#c8dc06"/><stop offset="0.0357" stop-color="#c6de07"/><stop offset="0.0536" stop-color="#c4df07"/><stop offset="0.0714" stop-color="#c3e008"/><stop offset="0.0952" stop-color="#c0e109"/><stop offset="0.119" stop-color="#bee20a"/><stop offset="0.1488" stop-color="#b9e30c"/><stop offset="0.1786" stop-color="#b4e60f"/><stop offset="0.2143" stop-color="#ade813"/><stop offset="0.256" stop-color="#9ced1d"/><stop offset="0.3036" stop-color="#7ff532"/><stop offset="0.3571" stop-color="#5ef851"/><stop offset="0.4167" stop-color="#40f47b"/><stop offset="0.4881" stop-color="#28eea1"/><stop offset="0.5595" stop-color="#1ee9b2"/><stop offset="0.631" stop-color="#19e2bc"/><stop offset="0.7024" stop-color="#16ddc5"/><stop offset="0.7738" stop-color="#13d6ce"/><stop offset="0.8452" stop-color="#0dcbd9"/><stop offset="0.9167" stop-color="#09bfe2"/><stop offset="1" stop-color="#07b3e9"/></linearGradient>
<linearGradient id="g81"><stop offset="0" stop-color="#dfcd00"/><stop offset="0.0179" stop-color="#dccf00"/><stop offset="0.0357" stop-color="#d9d101"/><stop offset="0.0536" stop-color="#d7d302"/><stop offset="0.0714" stop-color="#d4d502"/><stop offset="0.0952" stop-color="#d1d603"/><stop offset="0.119" stop-color="#ced804"/><stop offset="0.1488" stop-color="#cadb05"/><stop offset="0.1786" stop-color="#c6dd07"/><stop offset="0.2143" stop-color="#c2e008"/><stop offset="0.256" stop-color="#b4e60f"/><stop offset="0.3036" stop-color="#97ef20"/><stop offset="0.3571" stop-color="#70f83e"/><stop offset="0.4167" stop-color="#4df767"/><stop offset="0.4881" stop-color="#2df09a"/><stop offset="0.5595" stop-color="#21ebac"/><stop offset="0.631" stop-color="#1ae5b9"/><stop offset="0.7024" stop-color="#17dfc2"/><stop offset="0.7738" stop-color="#15d9ca"/><stop offset="0.8452" stop-color="#0fcfd5"/><stop offset="0.9167" stop-color="#0ac2e0"/><stop offset="1" stop-color="#08b5e8"/></linearGradient>
<linearGradient id="g82"><stop offset="0" stop-color="#ecb800"/><stop offset="0.0179" stop-color="#eabd00"/><stop offset="0.0357" stop-color="#e7c100"/><stop offset="0.0536" stop-color="#e5c400"/><stop offset="0.0714" stop-color="#e3c700"/><stop offset="0.0952" stop-color="#e0cb00"/><stop offset="0.119" stop-color="#dccf00"/><stop offset="0.1488" stop-color="#d6d402"/><stop offset="0.1786" stop-color="#d0d703"/><stop offset="0.2143" stop-color="#ccd905"/><stop offset="0.256" stop-color="#c3e008"/><stop offset="0.3036" stop-color="#a6ea17"/><stop offset="0.3571" stop-color="#7ef633"/><stop offset="0.4167" stop-color="#58f858"/><stop offset="0.4881" stop-color="#35f28d"/><stop offset="0.5595" stop-color="#24eca8"/><stop offset="0.631" stop-color="#1be7b6"/><stop offset="0.7024" stop-color="#18e1bf"/><stop offset="0.7738" stop-color="#16dbc7"/><stop offset="0.8452" stop-color="#11d2d2"/><stop offset="0.9167" stop-color="#0bc5de"/><stop offset="1" stop-color="#08b8e7"/></linearGradient>
<linearGradient id="g83"><stop offset="0" stop-color="#f7a100"/><stop offset="0.0179" stop-color="#f4a700"/><stop offset="0.0357" stop-color="#f2ac00"/><stop offset="0.0536" stop-color="#efb200"/><stop offset="0.0714" stop-color="#ecb800"/><stop offset="0.0952" stop-color="#e7c100"/><stop offset="0.119" stop-color="#e2c800"/><stop offset="0.1488" stop-color="#ddcf00"/><stop offset="0.1786" stop-color="#d6d402"/><stop offset="0.2143" stop-color="#d0d703"/><stop offset="0.256" stop-color="#c6de07"/><stop offset="0.3036" stop-color="#ace913"/><stop offset="0.3571" stop-color="#85f42d"/><stop offset="0.4167" stop-color="#5df853"/><stop offset="0.4881" stop-color="#3af386"/><stop offset="0.5595" stop-color="#26eda5"/><stop offset="0.631" stop-color="#1de8b3"/><stop offset="0.7024" stop-color="#19e2bd"/><stop offset="0.7738" stop-color="#16dcc5"/><stop offset="0.8452" stop-color="#12d5cf"/><stop offset="0.9167" stop-color="#0cc7dd"/><stop offset="1" stop-color="#08bae6"/></linearGradient>
<linearGradient id="g84"><stop offset="0" stop-color="#fd8302"/><stop offset="0.0179" stop-color="#fc8b01"/><stop offset="0.0357" stop-color="#fc9300"/><stop offset="0.0536" stop-color="#f99c00"/><stop offset="0.0714" stop-color="#f5a700"/><stop offset="0.0952" stop-color="#eeb400"/><stop offset="0.119" stop-color="#e7c100"/><stop offset="0.1488" stop-color="#e0cb00"/><stop offset="0.1786" stop-color="#d8d201"/><stop offset="0.2143" stop-color="#cfd804"/><stop offset="0.256" stop-color="#c5de07"/><stop offset="0.3036" stop-color="#aee812"/><stop offset="0.3571" stop-color="#89f32b"/><stop offset="0.4167" stop-color="#60f84f"/><stop offset="0.4881" stop-color="#3df381"/><stop offset="0.5595" stop-color="#28eea3"/><stop offset="0.631" stop-color="#1ee9b1"/><stop offset="0.7024" stop-color="#1ae4bb"/><stop offset="0.7738" stop-color="#17dec4"/><stop offset="0.8452" stop-color="#14d7cd"/><stop offset="0.9167" stop-color="#0dc9db"/><stop offset="1" stop-color="#09bce5"/></linearGradient>
<linearGradient id="g85"><stop offset="0" stop-color="#fe6c06"/><stop offset="0.0179" stop-color="#fe7405"/><stop offset="0.0357" stop-color="#fd7e03"/><stop offset="0.0536" stop-color="#fd8a01"/><stop offset="0.0714" stop-color="#fa9900"/><stop offset="0.0952" stop-color="#f2ac00"/><stop offset="0.119" stop-color="#ebbb00"/><stop offset="0.1488" stop-color="#e2c800"/><stop offset="0.1786" stop-color="#d8d201"/><stop offset="0.2143" stop-color="#cdd904"/><stop offset="0.256" stop-color="#c3df08"/><stop offset="0.3036" stop-color="#aee812"/><stop offset="0.3571" stop-color="#8af229"/><stop offset="0.4167" stop-color="#61f84e"/><stop offset="0.4881" stop-color="#3ef47e"/><stop offset="0.5595" stop-color="#29eea1"/><stop offset="0.631" stop-color="#20eaaf"/><stop offset="0.7024" stop-color="#1ae4b9"/><stop offset="0.7738" stop-color="#17dec2"/><stop offset="0.8452" stop-color="#14d8cc"/><stop offset="0.9167" stop-color="#0dcbd9"/><stop offset="1" stop-color="#09bee3"/></linearGradient>
<linearGradient id="g86"><stop offset="0" stop-color="#fe5709"/><stop offset="0.0179" stop-color="#ff6007"/><stop offset="0.0357" stop-color="#fe6c06"/><stop offset="0.0536" stop-color="#fd7b04"/><stop offset="0.0714" stop-color="#fc8d01"/><stop offset="0.0952" stop-color="#f6a300"/><stop offset="0.119" stop-color="#eeb500"/><stop offset="0.1488" stop-color="#e4c600"/><stop offset="0.1786" stop-color="#d9d201"/><stop offset="0.2143" stop-color="#cbda05"/><stop offset="0.256" stop-color="#c2e008"/><stop offset="0.3036" stop-color="#aee812"/><stop offset="0.3571" stop-color="#8bf229"/><stop offset="0.4167" stop-color="#61f84e"/><stop offset="0.4881" stop-color="#40f47d"/><stop offset="0.5595" stop-color="#2aef9f"/><stop offset="0.631" stop-color="#21eaad"/><stop offset="0.7024" stop-color="#1be5b8"/><stop offset="0.7738" stop-color="#18dfc1"/><stop offset="0.8452" stop-color="#14d9cb"/><stop offset="0.9167" stop-color="#0eccd8"/><stop offset="1" stop-color="#09bfe2"/></linearGradient>
<linearGradient id="g87"><stop offset="0" stop-color="#f9460b"/><stop offset="0.0179" stop-color="#fb4e0a"/><stop offset="0.0357" stop-color="#ff5c08"/><stop offset="0.0536" stop-color="#fe6e05"/><stop offset="0.0714" stop-color="#fd8103"/><stop offset="0.0952" stop-color="#fa9a00"/><stop offset="0.119" stop-color="#f1af00"/><stop offset="0.1488" stop-color="#e6c300"/><stop offset="0.1786" stop-color="#dbd100"/><stop offset="0.2143" stop-color="#cbda05"/><stop offset="0.256" stop-color="#c1e008"/><stop offset="0.3036" stop-color="#aee812"/><stop offset="0.3571" stop-color="#8df228"/><stop offset="0.4167" stop-color="#62f84e"/><stop offset="0.4881" stop-color="#41f47a"/><stop offset="0.5595" stop-color="#2bef9e"/><stop offset="0.631" stop-color="#22ebab"/><stop offset="0.7024" stop-color="#1be6b6"/><stop offset="0.7738" stop-color="#18e0c0"/><stop offset="0.8452" stop-color="#15d9ca"/><stop offset="0.9167" stop-color="#0fced6"/><stop offset="1" stop-color="#0ac1e1"/></linearGradient>
<linearGradient id="g88"><stop offset="0" stop-color="#f63a0d"/><stop offset="0.0179" stop-color="#f8430c"/><stop offset="0.0357" stop-color="#fc510a"/><stop offset="0.0536" stop-color="#ff6307"/><stop offset="0.0714" stop-color="#fe7604"/><stop offset="0.0952" stop-color="#fc9100"/><stop offset="0.119" stop-color="#f4a900"/><stop offset="0.1488" stop-color="#e8c000"/><stop offset="0.1786" stop-color="#ddce00"/><stop offset="0.2143" stop-color="#ced804"/><stop offset="0.256" stop-color="#c3e008"/><stop offset="0.3036" stop-color="#afe811"/><stop offset="0.3571" stop-color="#8ff126"/><stop offset="0.4167" stop-color="#64f84b"/><stop offset="0.4881" stop-color="#44f576"/><stop offset="0.5595" stop-color="#2cf09c"/><stop offset="0.631" stop-color="#23eca9"/><stop offset="0.7024" stop-color="#1ce7b5"/><stop offset="0.7738" stop-color="#19e1be"/><stop offset="0.8452" stop-color="#15dac9"/><stop offset="0.9167" stop-color="#10d0d4"/><stop offset="1" stop-color="#0ac2e0"/></linearGradient>
<linearGradient id="g89"><stop offset="0" stop-color="#0732ec"/><stop offset="0.0178" stop-color="#0830ec"/><stop offset="0.0355" stop-color="#082feb"/><stop offset="0.0533" stop-color="#082eeb"/><stop offset="0.071" stop-color="#082deb"/><stop offset="0.0947" stop-color="#082beb"/><stop offset="0.1183" stop-color="#082aea"/><stop offset="0.1479" stop-color="#0829ea"/><stop offset="0.1775" stop-color="#0828ea"/><stop offset="0.213" stop-color="#0828ea"/><stop offset="0.2544" stop-color="#0827ea"/><stop offset="0.3018" stop-color="#0826ea"/><stop offset="0.355" stop-color="#0826e9"/><stop offset="0.4142" stop-color="#0825e9"/><stop offset="0.4852" stop-color="#0824e9"/><stop offset="0.5562" stop-color="#0822e8"/><stop offset="0.6272" stop-color="#081ee8"/><stop offset="0.6982" stop-color="#081ae7"/><stop offset="0.7692" stop-color="#0817e6"/><stop offset="0.8402" stop-color="#0814e5"/><stop offset="0.9112" stop-color="#0810e4"/><stop offset="1" stop-color="#0c0ee3"/></linearGradient>
<linearGradient id="g90"><stop offset="0" stop-color="#064df1"/><stop offset="0.0178" stop-color="#064cf1"/><stop offset="0.0355" stop-color="#064af1"/><stop offset="0.0533" stop-color="#0649f1"/><stop offset="0.071" stop-color="#0648f0"/><stop offset="0.0947" stop-color="#0647f0"/><stop offset="0.1183" stop-color="#0646f0"/><stop offset="0.1479" stop-color="#0745f0"/><stop offset="0.1775" stop-color="#0744f0"/><stop offset="0.213" stop-color="#0744f0"/><stop offset="0.2544" stop-color="#0743ef"/><stop offset="0.3018" stop-color="#0743ef"/><stop offset="0.355" stop-color="#0742ef"/><stop offset="0.4142" stop-color="#0741ef"/><stop offset="0.4852" stop-color="#073fef"/><stop offset="0.5562" stop-color="#073cee"/><stop offset="0.6272" stop-color="#0739ed"/><stop offset="0.6982" stop-color="#0735ed"/><stop offset="0.7692" stop-color="#0831ec"/><stop offset="0.8402" stop-color="#082deb"/><stop offset="0.9112" stop-color="#0828ea"/><stop offset="1" stop-color="#0822e8"/></linearGradient>
<linearGradient id="g91"><stop offset="0" stop-color="#0664f3"/><stop offset="0.0178" stop-color="#0663f3"/><stop offset="0.0355" stop-color="#0661f3"/><stop offset="0.0533" stop-color="#0660f3"/><stop offset="0.071" stop-color="#065ff3"/><stop offset="0.0947" stop-color="#065ef3"/><stop offset="0.1183" stop-color="#065df3"/><stop offset="0.1479" stop-color="#065cf3"/><stop offset="0.1775" stop-color="#065cf3"/><stop offset="0.213" stop-color="#065bf3"/><stop offset="0.2544" stop-color="#065af3"/><stop offset="0.3018" stop-color="#0659f3"/><stop offset="0.355" stop-color="#0658f3"/><stop offset="0.4142" stop-color="#0656f2"/><stop offset="0.4852" stop-color="#0654f2"/><stop offset="0.5562" stop-color="#0650f2"/><stop offset="0.6272" stop-color="#064cf1"/><stop offset="0.6982" stop-color="#0647f0"/><stop offset="0.7692" stop-color="#0742ef"/><stop offset="0.8402" stop-color="#073dee"/><stop offset="0.9112" stop-color="#0738ed"/><stop offset="1" stop-color="#0832ec"/></linearGradient>
<linearGradient id="g92"><stop offset="0" stop-color="#057df4"/><stop offset="0.0178" stop-color="#057bf4"/><stop offset="0.0355" stop-color="#057af4"/><stop offset="0.0533" stop-color="#0579f4"/><stop offset="0.071" stop-color="#0578f4"/><stop offset="0.0947" stop-color="#0677f4"/><stop offset="0.1183" stop-color="#0677f4"/><stop offset="0.1479" stop-color="#0676f4"/><stop offset="0.1775" stop-color="#0676f4"/><stop offset="0.213" stop-color="#0675f4"/><stop offset="0.2544" stop-color="#0674f4"/><stop offset="0.3018" stop-color="#0672f4"/><stop offset="0.355" stop-color="#0670f4"/><stop offset="0.4142" stop-color="#066ef4"/><stop offset="0.4852" stop-color="#066af4"/><stop offset="0.5562" stop-color="#0666f3"/><stop offset="0.6272" stop-color="#0661f3"/><stop offset="0.6982" stop-color="#065bf3"/><stop offset="0.7692" stop-color="#0655f2"/><stop offset="0.8402" stop-color="#064ff2"/><stop offset="0.9112" stop-color="#0649f1"/><stop offset="1" stop-color="#0741ef"/></linearGradient>
<linearGradient id="g93"><stop offset="0" stop-color="#0495f3"/><stop offset="0.0178" stop-color="#0494f3"/><stop offset="0.0355" stop-color="#0493f3"/><stop offset="0.0533" stop-color="#0493f3"/><stop offset="0.071" stop-color="#0493f3"/><stop offset="0.0947" stop-color="#0492f3"/><stop offset="0.1183" stop-color="#0492f3"/><stop offset="0.1479" stop-color="#0491f4"/><stop offset="0.1775" stop-color="#0491f4"/><stop offset="0.213" stop-color="#0490f4"/><stop offset="0.2544" stop-color="#048ff4"/><stop offset="0.3018" stop-color="#048df4"/><stop offset="0.355" stop-color="#048af4"/><stop offset="0.4142" stop-color="#0587f4"/><stop offset="0.4852" stop-color="#0583f4"/><stop offset="0.5562" stop-color="#057df4"/><stop offset="0.6272" stop-color="#0677f4"/><stop offset="0.6982" stop-color="#0671f4"/><stop offset="0.7692" stop-color="#066af4"/><stop offset="0.8402" stop-color="#0663f3"/><stop offset="0.9112" stop-color="#065cf3"/><stop offset="1" stop-color="#0653f2"/></linearGradient>
<linearGradient id="g94"><stop offset="0" stop-color="#06aaec"/><stop offset="0.0178" stop-color="#06a9ed"/><stop offset="0.0355" stop-color="#06a8ed"/><stop offset="0.0533" stop-color="#06a8ed"/><stop offset="0.071" stop-color="#06a7ee"/><stop offset="0.0947" stop-color="#06a7ee"/><stop offset="0.1183" stop-color="#06a6ee"/><stop offset="0.1479" stop-color="#06a6ee"/><stop offset="0.1775" stop-color="#06a5ee"/><stop offset="0.213" stop-color="#06a4ef"/><stop offset="0.2544" stop-color="#06a3ef"/><stop offset="0.3018" stop-color="#06a1ef"/><stop offset="0.355" stop-color="#059ef0"/><stop offset="0.4142" stop-color="#059cf1"/><stop offset="0.4852" stop-color="#0598f2"/><stop offset="0.5562" stop-color="#0493f3"/><stop offset="0.6272" stop-color="#048ef4"/><stop offset="0.6982" stop-color="#0588f4"/><stop offset="0.7692" stop-color="#0580f4"/><stop offset="0.8402" stop-color="#0678f4"/><stop offset="0.9112" stop-color="#0670f4"/><stop offset="1" stop-color="#0666f3"/></linearGradient>
<linearGradient id="g95"><stop offset="0" stop-color="#0ac0e2"/><stop offset="0.0178" stop-color="#09bfe3"/><stop offset="0.0355" stop-color="#09bee3"/><stop offset="0.0533" stop-color="#09bde4"/><stop offset="0.071" stop-color="#09bce4"/><stop offset="0.0947" stop-color="#08bbe5"/><stop offset="0.1183" stop-color="#08bbe5"/><stop offset="0.1479" stop-color="#08bae6"/><stop offset="0.1775" stop-color="#08b9e6"/><stop offset="0.213" stop-color="#08b8e7"/><stop offset="0.2544" stop-color="#08b7e7"/><stop offset="0.3018" stop-color="#07b4e8"/><stop offset="0.355" stop-color="#07b2e9"/><stop offset="0.4142" stop-color="#07aeeb"/><stop offset="0.4852" stop-color="#06aaec"/><stop offset="0.5562" stop-color="#06a5ee"/><stop offset="0.6272" stop-color="#05a0f0"/><stop offset="0.6982" stop-color="#059bf1"/><stop offset="0.7692" stop-color="#0495f3"/><stop offset="0.8402" stop-color="#048ef4"/><stop offset="0.9112" stop-color="#0585f4"/><stop offset="1" stop-color="#057bf4"/></linearGradient>
<linearGradient id="g96"><stop offset="0" stop-color="#15dac9"/><stop offset="0.0178" stop-color="#15d9ca"/><stop offset="0.0355" stop-color="#14d8cc"/><stop offset="0.0533" stop-color="#14d8cc"/><stop offset="0.071" stop-color="#14d7cd"/><stop offset="0.0947" stop-color="#13d6ce"/><stop offset="0.1183" stop-color="#13d5cf"/><stop offset="0.1479" stop-color="#12d4d0"/><stop offset="0.1775" stop-color="#12d3d1"/><stop offset="0.213" stop-color="#11d1d3"/><stop offset="0.2544" stop-color="#0fced6"/><stop offset="0.3018" stop-color="#0dcada"/><stop offset="0.355" stop-color="#0cc6dd"/><stop offset="0.4142" stop-color="#0ac2e0"/><stop offset="0.4852" stop-color="#09bce5"/><stop offset="0.5562" stop-color="#08b6e7"/><stop offset="0.6272" stop-color="#07b1ea"/><stop offset="0.6982" stop-color="#07abec"/><stop offset="0.7692" stop-color="#06a6ee"/><stop offset="0.8402" stop-color="#05a0f0"/><stop offset="0.9112" stop-color="#0599f1"/><stop offset="1" stop-color="#0491f4"/></linearGradient>
<linearGradient id="g97"><stop offset="0" stop-color="#20eaae"/><stop offset="0.0178" stop-color="#1fe9b0"/><stop offset="0.0355" stop-color="#1de9b2"/><stop offset="0.0533" stop-color="#1de8b3"/><stop offset="0.071" stop-color="#1ce8b4"/><stop offset="0.0947" stop-color="#1ce7b5"/><stop offset="0.1183" stop-color="#1ce7b5"/><stop offset="0.1479" stop-color="#1be6b6"/><stop offset="0.1775" stop-color="#1be6b8"/><stop offset="0.213" stop-color="#1ae4ba"/><stop offset="0.2544" stop-color="#19e2bd"/><stop offset="0.3018" stop-color="#18dfc1"/><stop offset="0.355" stop-color="#16ddc5"/><stop offset="0.4142" stop-color="#15d9ca"/><stop offset="0.4852" stop-color="#11d1d3"/><stop offset="0.5562" stop-color="#0dc9db"/><stop offset="0.6272" stop-color="#0ac2e0"/><stop offset="0.6982" stop-color="#08bce5"/><stop offset="0.7692" stop-color="#08b6e8"/><stop offset="0.8402" stop-color="#07b1ea"/><stop offset="0.9112" stop-color="#07abec"/><stop offset="1" stop-color="#06a3ef"/></linearGradient>
<linearGradient id="g98"><stop offset="0" stop-color="#45f574"/><stop offset="0.0178" stop-color="#40f47c"/><stop offset="0.0355" stop-color="#3df382"/><stop offset="0.0533" stop-color="#3af385"/><stop offset="0.071" stop-color="#39f387"/><stop offset="0.0947" stop-color="#37f28a"/><stop offset="0.1183" stop-color="#35f28d"/><stop offset="0.1479" stop-color="#33f191"/><stop offset="0.1775" stop-color="#2ff198"/><stop offset="0.213" stop-color="#2aef9f"/><stop offset="0.2544" stop-color="#27eda4"/><stop offset="0.3018" stop-color="#23ebaa"/><stop offset="0.355" stop-color="#1de9b2"/><stop offset="0.4142" stop-color="#1ae4b9"/><stop offset="0.4852" stop-color="#17dfc2"/><stop offset="0.5562" stop-color="#15dac9"/><stop offset="0.6272" stop-color="#11d2d2"/><stop offset="0.6982" stop-color="#0dcada"/><stop offset="0.7692" stop-color="#0bc4df"/><stop offset="0.8402" stop-color="#09bee3"/><stop offset="0.9112" stop-color="#08b9e6"/><stop offset="1" stop-color="#07b0ea"/></linearGradient>
<linearGradient id="g99"><stop offset="0" stop-color="#87f32c"/><stop offset="0.0178" stop-color="#81f530"/><stop offset="0.0355" stop-color="#7cf634"/><stop offset="0.0533" stop-color="#79f736"/><stop offset="0.071" stop-color="#76f738"/><stop offset="0.0947" stop-color="#73f83b"/><stop offset="0.1183" stop-color="#70f83f"/><stop offset="0.1479" stop-color="#6bf843"/><stop offset="0.1775" stop-color="#64f84b"/><stop offset="0.213" stop-color="#58f858"/><stop offset="0.2544" stop-color="#4df768"/><stop offset="0.3018" stop-color="#40f47c"/><stop offset="0.355" stop-color="#2ef099"/><stop offset="0.4142" stop-color="#25eda6"/><stop offset="0.4852" stop-color="#1de8b3"/><stop offset="0.5562" stop-color="#19e3bc"/><stop offset="0.6272" stop-color="#16ddc5"/><stop offset="0.6982" stop-color="#14d8cc"/><stop offset="0.7692" stop-color="#10d0d4"/><stop offset="0.8402" stop-color="#0dcada"/><stop offset="0.9112" stop-color="#0bc5de"/><stop offset="1" stop-color="#08bbe5"/></linearGradient>
<linearGradient id="g100"><stop offset="0" stop-color="#bee20a"/><stop offset="0.0178" stop-color="#b9e40c"/><stop offset="0.0355" stop-color="#b6e50e"/><stop offset="0.0533" stop-color="#b3e610"/><stop offset="0.071" stop-color="#b0e711"/><stop offset="0.0947" stop-color="#ade812"/><stop offset="0.1183" stop-color="#aae915"/><stop offset="0.1479" stop-color="#a3eb18"/><stop offset="0.1775" stop-color="#9cee1d"/><stop offset="0.213" stop-color="#90f125"/><stop offset="0.2544" stop-color="#80f531"/><stop offset="0.3018" stop-color="#6bf844"/><stop offset="0.355" stop-color="#51f761"/><stop offset="0.4142" stop-color="#3cf383"/><stop offset="0.4852" stop-color="#28eea2"/><stop offset="0.5562" stop-color="#1ee9b0"/><stop offset="0.6272" stop-color="#1ae3bb"/><stop offset="0.6982" stop-color="#17dec3"/><stop offset="0.7692" stop-color="#15d9ca"/><stop offset="0.8402" stop-color="#12d4d0"/><stop offset="0.9112" stop-color="#0fced6"/><stop offset="1" stop-color="#0bc4df"/></linearGradient>
<linearGradient id="g101"><stop offset="0" stop-color="#dad101"/><stop offset="0.0178" stop-color="#d6d402"/><stop offset="0.0355" stop-color="#d3d503"/><stop offset="0.0533" stop-color="#d0d703"/><stop offset="0.071" stop-color="#ced804"/><stop offset="0.0947" stop-color="#ccd905"/><stop offset="0.1183" stop-color="#cadb05"/><stop offset="0.1479" stop-color="#c5de07"/><stop offset="0.1775" stop-color="#c0e109"/><stop offset="0.213" stop-color="#b7e40e"/><stop offset="0.2544" stop-color="#aae915"/><stop offset="0.3018" stop-color="#94f022"/><stop offset="0.355" stop-color="#76f839"/><stop offset="0.4142" stop-color="#56f85a"/><stop offset="0.4852" stop-color="#38f288"/><stop offset="0.5562" stop-color="#26eda4"/><stop offset="0.6272" stop-color="#1de8b3"/><stop offset="0.6982" stop-color="#19e2bd"/><stop offset="0.7692" stop-color="#17ddc4"/><stop offset="0.8402" stop-color="#15d9ca"/><stop offset="0.9112" stop-color="#13d5cf"/><stop offset="1" stop-color="#0dcada"/></linearGradient>
<linearGradient id="g102"><stop offset="0" stop-color="#eabd00"/><stop offset="0.0178" stop-color="#e7c100"/><stop offset="0.0355" stop-color="#e5c400"/><stop offset="0.0533" stop-color="#e3c600"/><stop offset="0.071" stop-color="#e2c900"/><stop offset="0.0947" stop-color="#dfcb00"/><stop offset="0.1183" stop-color="#ddce00"/><stop offset="0.1479" stop-color="#d7d301"/><stop offset="0.1775" stop-color="#d0d703"/><stop offset="0.213" stop-color="#cada05"/><stop offset="0.2544" stop-color="#c1e009"/><stop offset="0.3018" stop-color="#afe812"/><stop offset="0.355" stop-color="#93f022"/><stop offset="0.4142" stop-color="#6ef840"/><stop offset="0.4852" stop-color="#4bf66a"/><stop offset="0.5562" stop-color="#2ef09a"/><stop offset="0.6272" stop-color="#22ebab"/><stop offset="0.6982" stop-color="#1be6b8"/><stop offset="0.7692" stop-color="#18e0c0"/><stop offset="0.8402" stop-color="#16dcc7"/><stop offset="0.9112" stop-color="#14d9cb"/><stop offset="1" stop-color="#0fcdd7"/></linearGradient>
<linearGradient id="g103"><stop offset="0" stop-color="#f7a000"/><stop offset="0.0178" stop-color="#f4a700"/><stop offset="0.0355" stop-color="#f2ad00"/><stop offset="0.0533" stop-color="#f0b100"/><stop offset="0.071" stop-color="#eeb500"/><stop offset="0.0947" stop-color="#ebbb00"/><stop offset="0.1183" stop-color="#e7c100"/><stop offset="0.1479" stop-color="#e2c800"/><stop offset="0.1775" stop-color="#ddce00"/><stop offset="0.213" stop-color="#d5d402"/><stop offset="0.2544" stop-color="#cada05"/><stop offset="0.3018" stop-color="#bee20a"/><stop offset="0.355" stop-color="#a5eb18"/><stop offset="0.4142" stop-color="#80f531"/><stop offset="0.4852" stop-color="#59f857"/><stop offset="0.5562" stop-color="#39f388"/><stop offset="0.6272" stop-color="#26eda5"/><stop offset="0.6982" stop-color="#1ce8b4"/><stop offset="0.7692" stop-color="#19e2be"/><stop offset="0.8402" stop-color="#16ddc5"/><stop offset="0.9112" stop-color="#15d9ca"/><stop offset="1" stop-color="#0eccd8"/></linearGradient>
<linearGradient id="g104"><stop offset="0" stop-color="#fe7604"/><stop offset="0.0178" stop-color="#fd7f03"/><stop offset="0.0355" stop-color="#fd8702"/><stop offset="0.0533" stop-color="#fc8f01"/><stop offset="0.071" stop-color="#fb9600"/><stop offset="0.0947" stop-color="#f7a100"/><stop offset="0.1183" stop-color="#f2ad00"/><stop offset="0.1479" stop-color="#ebbb00"/><stop offset="0.1775" stop-color="#e4c500"/><stop offset="0.213" stop-color="#ddce00"/><stop offset="0.2544" stop-color="#d2d603"/><stop offset="0.3018" stop-color="#c7dd06"/><stop offset="0.355" stop-color="#b1e710"/><stop offset="0.4142" stop-color="#8ff125"/><stop offset="0.4852" stop-color="#65f84a"/><stop offset="0.5562" stop-color="#43f578"/><stop offset="0.6272" stop-color="#29efa0"/><stop offset="0.6982" stop-color="#1ee9b0"/><stop offset="0.7692" stop-color="#19e3bc"/><stop offset="0.8402" stop-color="#17ddc4"/><stop offset="0.9112" stop-color="#14d9cb"/><stop offset="1" stop-color="#0cc8dc"/></linearGradient>
<linearGradient id="g105"><stop offset="0" stop-color="#fc510a"/><stop offset="0.0178" stop-color="#fe5809"/><stop offset="0.0355" stop-color="#ff6007"/><stop offset="0.0533" stop-color="#fe6a06"/><stop offset="0.071" stop-color="#fe7604"/><stop offset="0.0947" stop-color="#fd8802"/><stop offset="0.1183" stop-color="#f99a00"/><stop offset="0.1479" stop-color="#f0af00"/><stop offset="0.1775" stop-color="#e8c000"/><stop offset="0.213" stop-color="#e0ca00"/><stop offset="0.2544" stop-color="#d7d301"/><stop offset="0.3018" stop-color="#cbda05"/><stop offset="0.355" stop-color="#b7e40d"/><stop offset="0.4142" stop-color="#98ef20"/><stop offset="0.4852" stop-color="#6ef841"/><stop offset="0.5562" stop-color="#4af66c"/><stop offset="0.6272" stop-color="#2cf09d"/><stop offset="0.6982" stop-color="#20eaae"/><stop offset="0.7692" stop-color="#1ae4ba"/><stop offset="0.8402" stop-color="#17ddc4"/><stop offset="0.9112" stop-color="#13d6ce"/><stop offset="1" stop-color="#0bc4df"/></linearGradient>
<linearGradient id="g106"><stop offset="0" stop-color="#f32f0e"/><stop offset="0.0178" stop-color="#f4330e"/><stop offset="0.0355" stop-color="#f63a0d"/><stop offset="0.0533" stop-color="#f9470b"/><stop offset="0.071" stop-color="#fe5809"/><stop offset="0.0947" stop-color="#fe7005"/><stop offset="0.1183" stop-color="#fd8a01"/><stop offset="0.1479" stop-color="#f4a700"/><stop offset="0.1775" stop-color="#ebba00"/><stop offset="0.213" stop-color="#e2c800"/><stop offset="0.2544" stop-color="#d9d201"/><stop offset="0.3018" stop-color="#cdd904"/><stop offset="0.355" stop-color="#bbe30c"/><stop offset="0.4142" stop-color="#9eed1c"/><stop offset="0.4852" stop-color="#75f839"/><stop offset="0.5562" stop-color="#50f763"/><stop offset="0.6272" stop-color="#30f196"/><stop offset="0.6982" stop-color="#22ebab"/><stop offset="0.7692" stop-color="#1ae4ba"/><stop offset="0.8402" stop-color="#16ddc5"/><stop offset="0.9112" stop-color="#12d3d1"/><stop offset="1" stop-color="#09bfe2"/></linearGradient>
<linearGradient id="g107"><stop offset="0" stop-color="#ec1e16"/><stop offset="0.0178" stop-color="#ee2014"/><stop offset="0.0355" stop-color="#f02410"/><stop offset="0.0533" stop-color="#f4320e"/><stop offset="0.071" stop-color="#f9450b"/><stop offset="0.0947" stop-color="#ff6207"/><stop offset="0.1183" stop-color="#fd8103"/><stop offset="0.1479" stop-color="#f6a200"/><stop offset="0.1775" stop-color="#edb700"/><stop offset="0.213" stop-color="#e3c600"/><stop offset="0.2544" stop-color="#dad101"/><stop offset="0.3018" stop-color="#ccd905"/><stop offset="0.355" stop-color="#bce20b"/><stop offset="0.4142" stop-color="#a1ec1a"/><stop offset="0.4852" stop-color="#7bf635"/><stop offset="0.5562" stop-color="#53f85d"/><stop offset="0.6272" stop-color="#34f290"/><stop offset="0.6982" stop-color="#23ebaa"/><stop offset="0.7692" stop-color="#1ae5b9"/><stop offset="0.8402" stop-color="#16ddc5"/><stop offset="0.9112" stop-color="#10d1d3"/><stop offset="1" stop-color="#08bce5"/></linearGradient>
<linearGradient id="g108"><stop offset="0" stop-color="#e71620"/><stop offset="0.0178" stop-color="#e9181d"/><stop offset="0.0355" stop-color="#eb1d18"/><stop offset="0.0533" stop-color="#f02410"/><stop offset="0.071" stop-color="#f5380d"/><stop offset="0.0947" stop-color="#fe5809"/><stop offset="0.1183" stop-color="#fd7904"/><stop offset="0.1479" stop-color="#f89e00"/><stop offset="0.1775" stop-color="#eeb400"/><stop offset="0.213" stop-color="#e5c500"/><stop offset="0.2544" stop-color="#dad101"/><stop offset="0.3018" stop-color="#cbda05"/><stop offset="0.355" stop-color="#bde20a"/><stop offset="0.4142" stop-color="#a5eb18"/><stop offset="0.4852" stop-color="#7ff532"/><stop offset="0.5562" stop-color="#58f858"/><stop offset="0.6272" stop-color="#37f28b"/><stop offset="0.6982" stop-color="#24eca8"/><stop offset="0.7692" stop-color="#1ae5b9"/><stop offset="0.8402" stop-color="#16dcc6"/><stop offset="0.9112" stop-color="#0fced6"/><stop offset="1" stop-color="#08b8e7"/></linearGradient>
<linearGradient id="g109"><stop offset="0" stop-color="#e31027"/><stop offset="0.0178" stop-color="#e61323"/><stop offset="0.0355" stop-color="#e9181d"/><stop offset="0.0533" stop-color="#ed2015"/><stop offset="0.071" stop-color="#f32f0e"/><stop offset="0.0947" stop-color="#fc500a"/><stop offset="0.1183" stop-color="#fe7205"/><stop offset="0.1479" stop-color="#fa9900"/><stop offset="0.1775" stop-color="#f0b000"/><stop offset="0.213" stop-color="#e6c300"/><stop offset="0.2544" stop-color="#dbd000"/><stop offset="0.3018" stop-color="#cbda05"/><stop offset="0.355" stop-color="#bfe10a"/><stop offset="0.4142" stop-color="#a8ea16"/><stop offset="0.4852" stop-color="#84f42e"/><stop offset="0.5562" stop-color="#5cf854"/><stop offset="0.6272" stop-color="#3af386"/><stop offset="0.6982" stop-color="#25eca7"/><stop offset="0.7692" stop-color="#1be5b8"/><stop offset="0.8402" stop-color="#16dcc6"/><stop offset="0.9112" stop-color="#0eccd8"/><stop offset="1" stop-color="#08b6e8"/></linearGradient>
<linearGradient id="g110"><stop offset="0" stop-color="#e00a2d"/><stop offset="0.0178" stop-color="#e30f27"/><stop offset="0.0355" stop-color="#e71521"/><stop offset="0.0533" stop-color="#ec1d18"/><stop offset="0.071" stop-color="#f22a0f"/><stop offset="0.0947" stop-color="#fa490b"/><stop offset="0.1183" stop-color="#fe6a06"/><stop offset="0.1479" stop-color="#fc9100"/><stop offset="0.1775" stop-color="#f2ab00"/><stop offset="0.213" stop-color="#e8c000"/><stop offset="0.2544" stop-color="#ddcf00"/><stop offset="0.3018" stop-color="#cdd904"/><stop offset="0.355" stop-color="#c0e109"/><stop offset="0.4142" stop-color="#abe914"/><stop offset="0.4852" stop-color="#88f32b"/><stop offset="0.5562" stop-color="#60f84f"/><stop offset="0.6272" stop-color="#3df381"/><stop offset="0.6982" stop-color="#25eda6"/><stop offset="0.7692" stop-color="#1be5b8"/><stop offset="0.8402" stop-color="#16dcc7"/><stop offset="0.9112" stop-color="#0dcbd9"/><stop offset="1" stop-color="#07b3e9"/></linearGradient>
<linearGradient id="g111"><stop offset="0" stop-color="#0654f2"/><stop offset="0.0176" stop-color="#0653f2"/><stop offset="0.0353" stop-color="#0652f2"/><stop offset="0.0529" stop-color="#0651f2"/><stop offset="0.0706" stop-color="#0651f2"/><stop offset="0.0941" stop-color="#0650f2"/><stop offset="0.1176" stop-color="#064ff2"/><stop offset="0.1471" stop-color="#064ef2"/><stop offset="0.1765" stop-color="#064ef2"/><stop offset="0.2118" stop-color="#064ef2"/><stop offset="0.2529" stop-color="#064df1"/><stop offset="0.3" stop-color="#064df1"/><stop offset="0.3529" stop-color="#064df1"/><stop offset="0.4118" stop-color="#064cf1"/><stop offset="0.4824" stop-color="#064cf1"/><stop offset="0.5529" stop-color="#064cf1"/><stop offset="0.6235" stop-color="#064af1"/><stop offset="0.6941" stop-color="#0649f1"/><stop offset="0.7647" stop-color="#0648f0"/><stop offset="0.8353" stop-color="#0647f0"/><stop offset="0.9059" stop-color="#0745f0"/><stop offset="1" stop-color="#0740ef"/></linearGradient>
<linearGradient id="g112"><stop offset="0" stop-color="#066ff4"/><stop offset="0.0176" stop-color="#066ef4"/><stop offset="0.0353" stop-color="#066ef4"/><stop offset="0.0529" stop-color="#066df4"/><stop offset="0.0706" stop-color="#066cf4"/><stop offset="0.0941" stop-color="#066cf4"/><stop offset="0.1176" stop-color="#066bf4"/><stop offset="0.1471" stop-color="#066bf4"/><stop offset="0.1765" stop-color="#066bf4"/><stop offset="0.2118" stop-color="#066af4"/><stop offset="0.2529" stop-color="#066af4"/><stop offset="0.3" stop-color="#0669f4"/><stop offset="0.3529" stop-color="#0668f4"/><stop offset="0.4118" stop-color="#0668f3"/><stop offset="0.4824" stop-color="#0667f3"/><stop offset="0.5529" stop-color="#0665f3"/><stop offset="0.6235" stop-color="#0664f3"/><stop offset="0.6941" stop-color="#0662f3"/><stop offset="0.7647" stop-color="#0660f3"/><stop offset="0.8353" stop-color="#065ef3"/><stop offset="0.9059" stop-color="#065cf3"/><stop offset="1" stop-color="#0657f2"/></linearGradient>
<linearGradient id="g113"><stop offset="0" stop-color="#0585f4"/><stop offset="0.0176" stop-color="#0584f4"/><stop offset="0.0353" stop-color="#0583f4"/><stop offset="0.0529" stop-color="#0582f4"/><stop offset="0.0706" stop-color="#0582f4"/><stop offset="0.0941" stop-color="#0582f4"/><stop offset="0.1176" stop-color="#0582f4"/><stop offset="0.1471" stop-color="#0581f4"/><stop offset="0.1765" stop-color="#0581f4"/><stop offset="0.2118" stop-color="#0581f4"/><stop offset="0.2529" stop-color="#0580f4"/><stop offset="0.3" stop-color="#057ff4"/><stop offset="0.3529" stop-color="#057ef4"/><stop offset="0.4118" stop-color="#057cf4"/><stop offset="0.4824" stop-color="#057bf4"/><stop offset="0.5529" stop-color="#0579f4"/><stop offset="0.6235" stop-color="#0676f4"/><stop offset="0.6941" stop-color="#0674f4"/><stop offset="0.7647" stop-color="#0672f4"/><stop offset="0.8353" stop-color="#066ff4"/><stop offset="0.9059" stop-color="#066cf4"/><stop offset="1" stop-color="#0667f3"/></linearGradient>
<linearGradient id="g114"><stop offset="0" stop-color="#0598f2"/><stop offset="0.0176" stop-color="#0597f2"/><stop offset="0.0353" stop-color="#0597f2"/><stop offset="0.0529" stop-color="#0597f2"/><stop offset="0.0706" stop-color="#0597f2"/><stop offset="0.0941" stop-color="#0596f2"/><stop offset="0.1176" stop-color="#0596f2"/><stop offset="0.1471" stop-color="#0596f2"/><stop offset="0.1765" stop-color="#0596f2"/><stop offset="0.2118" stop-color="#0596f2"/><stop offset="0.2529" stop-color="#0495f3"/><stop offset="0.3" stop-color="#0494f3"/><stop offset="0.3529" stop-color="#0493f3"/><stop offset="0.4118" stop-color="#0491f4"/><stop offset="0.4824" stop-color="#0490f4"/><stop offset="0.5529" stop-color="#048df4"/><stop offset="0.6235" stop-color="#048af4"/><stop offset="0.6941" stop-color="#0587f4"/><stop offset="0.7647" stop-color="#0584f4"/><stop offset="0.8353" stop-color="#0581f4"/><stop offset="0.9059" stop-color="#057df4"/><stop offset="1" stop-color="#0678f4"/></linearGradient>
<linearGradient id="g115"><stop offset="0" stop-color="#06aaec"/><stop offset="0.0176" stop-color="#06a9ed"/><stop offset="0.0353" stop-color="#06a9ed"/><stop offset="0.0529" stop-color="#06a8ed"/><stop offset="0.0706" stop-color="#06a8ed"/><stop offset="0.0941" stop-color="#06a7ed"/><stop offset="0.1176" stop-color="#06a7ed"/><stop offset="0.1471" stop-color="#06a7ee"/><stop offset="0.1765" stop-color="#06a7ee"/><stop offset="0.2118" stop-color="#06a6ee"/><stop offset="0.2529" stop-color="#06a6ee"/><stop offset="0.3" stop-color="#06a5ee"/><stop offset="0.3529" stop-color="#06a3ef"/><stop offset="0.4118" stop-color="#06a2ef"/><stop offset="0.4824" stop-color="#059ff0"/><stop offset="0.5529" stop-color="#059df0"/><stop offset="0.6235" stop-color="#059af1"/><stop offset="0.6941" stop-color="#0598f2"/><stop offset="0.7647" stop-color="#0495f3"/><stop offset="0.8353" stop-color="#0492f3"/><stop offset="0.9059" stop-color="#048ff4"/><stop offset="1" stop-color="#048af4"/></linearGradient>
<linearGradient id="g116"><stop offset="0" stop-color="#09bce5"/><stop offset="0.0176" stop-color="#08bbe5"/><stop offset="0.0353" stop-color="#08bae6"/><stop offset="0.0529" stop-color="#08bae6"/><stop offset="0.0706" stop-color="#08b9e6"/><stop offset="0.0941" stop-color="#08b9e6"/><stop offset="0.1176" stop-color="#08b9e7"/><stop offset="0.1471" stop-color="#08b8e7"/><stop offset="0.1765" stop-color="#08b8e7"/><stop offset="0.2118" stop-color="#08b7e7"/><stop offset="0.2529" stop-color="#08b7e7"/><stop offset="0.3" stop-color="#08b5e8"/><stop offset="0.3529" stop-color="#07b4e8"/><stop offset="0.4118" stop-color="#07b2e9"/><stop offset="0.4824" stop-color="#07b0ea"/><stop offset="0.5529" stop-color="#07adeb"/><stop offset="0.6235" stop-color="#06aaec"/><stop offset="0.6941" stop-color="#06a7ee"/><stop offset="0.7647" stop-color="#06a4ef"/><stop offset="0.8353" stop-color="#05a0f0"/><stop offset="0.9059" stop-color="#059df0"/><stop offset="1" stop-color="#0599f2"/></linearGradient>
<linearGradient id="g117"><stop offset="0" stop-color="#11d1d3"/><stop offset="0.0176" stop-color="#10d0d4"/><stop offset="0.0353" stop-color="#10cfd5"/><stop offset="0.0529" stop-color="#0fcfd5"/><stop offset="0.0706" stop-color="#0fced6"/><stop offset="0.0941" stop-color="#0fced6"/><stop offset="0.1176" stop-color="#0fcdd7"/><stop offset="0.1471" stop-color="#0ecdd7"/><stop offset="0.1765" stop-color="#0eccd8"/><stop offset="0.2118" stop-color="#0ecbd9"/><stop offset="0.2529" stop-color="#0dcada"/><stop offset="0.3" stop-color="#0cc8dc"/><stop offset="0.3529" stop-color="#0bc6dd"/><stop offset="0.4118" stop-color="#0bc4df"/><stop offset="0.4824" stop-color="#0ac1e1"/><stop offset="0.5529" stop-color="#09bde4"/><stop offset="0.6235" stop-color="#08bae6"/><stop offset="0.6941" stop-color="#08b6e7"/><stop offset="0.7647" stop-color="#07b3e9"/><stop offset="0.8353" stop-color="#07afea"/><stop offset="0.9059" stop-color="#07acec"/><stop offset="1" stop-color="#06a7ed"/></linearGradient>
<linearGradient id="g118"><stop offset="0" stop-color="#19e2bd"/><stop offset="0.0176" stop-color="#19e1be"/><stop offset="0.0353" stop-color="#18e1bf"/><stop offset="0.0529" stop-color="#18e0c0"/><stop offset="0.0706" stop-color="#18e0c0"/><stop offset="0.0941" stop-color="#18e0c1"/><stop offset="0.1176" stop-color="#18dfc1"/><stop offset="0.1471" stop-color="#18dfc1"/><stop offset="0.1765" stop-color="#17dfc2"/><stop offset="0.2118" stop-color="#17dec3"/><stop offset="0.2529" stop-color="#17ddc4"/><stop offset="0.3" stop-color="#16dcc6"/><stop offset="0.3529" stop-color="#15dbc8"/><stop offset="0.4118" stop-color="#15d9ca"/><stop offset="0.4824" stop-color="#13d6ce"/><stop offset="0.5529" stop-color="#11d1d3"/><stop offset="0.6235" stop-color="#0ecdd7"/><stop offset="0.6941" stop-color="#0cc8dc"/><stop offset="0.7647" stop-color="#0bc3df"/><stop offset="0.8353" stop-color="#09bfe2"/><stop offset="0.9059" stop-color="#08bbe5"/><stop offset="1" stop-color="#08b6e8"/></linearGradient>
<linearGradient id="g119"><stop offset="0" stop-color="#28eea2"/><stop offset="0.0176" stop-color="#27eda4"/><stop offset="0.0353" stop-color="#26eda5"/><stop offset="0.0529" stop-color="#25eda6"/><stop offset="0.0706" stop-color="#25eca7"/><stop offset="0.0941" stop-color="#24eca8"/><stop offset="0.1176" stop-color="#24eca9"/><stop offset="0.1471" stop-color="#23eca9"/><stop offset="0.1765" stop-color="#23ebaa"/><stop offset="0.2118" stop-color="#22ebac"/><stop offset="0.2529" stop-color="#20eaae"/><stop offset="0.3" stop-color="#1ee9b1"/><stop offset="0.3529" stop-color="#1ce8b4"/><stop offset="0.4118" stop-color="#1be6b7"/><stop offset="0.4824" stop-color="#1ae3bb"/><stop offset="0.5529" stop-color="#18e0bf"/><stop offset="0.6235" stop-color="#17dec4"/><stop offset="0.6941" stop-color="#15dbc8"/><stop offset="0.7647" stop-color="#14d8cc"/><stop offset="0.8353" stop-color="#11d2d2"/><stop offset="0.9059" stop-color="#0ecdd7"/><stop offset="1" stop-color="#0bc6dd"/></linearGradient>
<linearGradient id="g120"><stop offset="0" stop-color="#52f860"/><stop offset="0.0176" stop-color="#4ef766"/><stop offset="0.0353" stop-color="#4cf669"/><stop offset="0.0529" stop-color="#4bf66b"/><stop offset="0.0706" stop-color="#49f66d"/><stop offset="0.0941" stop-color="#48f66f"/><stop offset="0.1176" stop-color="#46f572"/><stop offset="0.1471" stop-color="#45f575"/><stop offset="0.1765" stop-color="#43f577"/><stop offset="0.2118" stop-color="#3ff47d"/><stop offset="0.2529" stop-color="#39f387"/><stop offset="0.3" stop-color="#33f191"/><stop offset="0.3529" stop-color="#2cf09c"/><stop offset="0.4118" stop-color="#28eea1"/><stop offset="0.4824" stop-color="#24eca8"/><stop offset="0.5529" stop-color="#20eaaf"/><stop offset="0.6235" stop-color="#1ce8b5"/><stop offset="0.6941" stop-color="#1ae5b9"/><stop offset="0.7647" stop-color="#19e1be"/><stop offset="0.8353" stop-color="#17dfc2"/><stop offset="0.9059" stop-color="#16dcc7"/><stop offset="1" stop-color="#13d7cd"/></linearGradient>
<linearGradient id="g121"><stop offset="0" stop-color="#91f125"/><stop offset="0.0176" stop-color="#8cf228"/><stop offset="0.0353" stop-color="#88f32b"/><stop offset="0.0529" stop-color="#86f42d"/><stop offset="0.0706" stop-color="#84f42e"/><stop offset="0.0941" stop-color="#81f530"/><stop offset="0.1176" stop-color="#7ff532"/><stop offset="0.1471" stop-color="#7cf634"/><stop offset="0.1765" stop-color="#78f737"/><stop offset="0.2118" stop-color="#71f83d"/><stop offset="0.2529" stop-color="#68f847"/><stop offset="0.3" stop-color="#5ef851"/><stop offset="0.3529" stop-color="#54f85c"/><stop offset="0.4118" stop-color="#48f670"/><stop offset="0.4824" stop-color="#39f387"/><stop offset="0.5529" stop-color="#2df09a"/><stop offset="0.6235" stop-color="#28eea2"/><stop offset="0.6941" stop-color="#23eca9"/><stop offset="0.7647" stop-color="#1feaaf"/><stop offset="0.8353" stop-color="#1ce7b5"/><stop offset="0.9059" stop-color="#1ae4b9"/><stop offset="1" stop-color="#18dfc1"/></linearGradient>
<linearGradient id="g122"><stop offset="0" stop-color="#c0e109"/><stop offset="0.0176" stop-color="#bce20b"/><stop offset="0.0353" stop-color="#bae30c"/><stop offset="0.0529" stop-color="#b8e40d"/><stop offset="0.0706" stop-color="#b6e50e"/><stop offset="0.0941" stop-color="#b4e50f"/><stop offset="0.1176" stop-color="#b3e610"/><stop offset="0.1471" stop-color="#b0e711"/><stop offset="0.1765" stop-color="#aae914"/><stop offset="0.2118" stop-color="#a3eb19"/><stop offset="0.2529" stop-color="#9aee1e"/><stop offset="0.3" stop-color="#8ff126"/><stop offset="0.3529" stop-color="#81f531"/><stop offset="0.4118" stop-color="#6ef840"/><stop offset="0.4824" stop-color="#59f857"/><stop offset="0.5529" stop-color="#4af66d"/><stop offset="0.6235" stop-color="#3cf383"/><stop offset="0.6941" stop-color="#2ff197"/><stop offset="0.7647" stop-color="#29efa0"/><stop offset="0.8353" stop-color="#25eda6"/><stop offset="0.9059" stop-color="#22ebab"/><stop offset="1" stop-color="#1be7b6"/></linearGradient>
<linearGradient id="g123"><stop offset="0" stop-color="#dad101"/><stop offset="0.0176" stop-color="#d7d301"/><stop offset="0.0353" stop-color="#d5d402"/><stop offset="0.0529" stop-color="#d3d502"/><stop offset="0.0706" stop-color="#d2d603"/><stop offset="0.0941" stop-color="#d0d703"/><stop offset="0.1176" stop-color="#cfd704"/><stop offset="0.1471" stop-color="#ccd905"/><stop offset="0.1765" stop-color="#c8dc06"/><stop offset="0.2118" stop-color="#c4df07"/><stop offset="0.2529" stop-color="#bde20b"/><stop offset="0.3" stop-color="#b2e610"/><stop offset="0.3529" stop-color="#a5eb18"/><stop offset="0.4118" stop-color="#93f023"/><stop offset="0.4824" stop-color="#79f736"/><stop offset="0.5529" stop-color="#64f84b"/><stop offset="0.6235" stop-color="#52f860"/><stop offset="0.6941" stop-color="#44f575"/><stop offset="0.7647" stop-color="#3af386"/><stop offset="0.8353" stop-color="#31f194"/><stop offset="0.9059" stop-color="#2aef9e"/><stop offset="1" stop-color="#22ebab"/></linearGradient>
<linearGradient id="g124"><stop offset="0" stop-color="#eabc00"/><stop offset="0.0176" stop-color="#e8c000"/><stop offset="0.0353" stop-color="#e6c200"/><stop offset="0.0529" stop-color="#e5c400"/><stop offset="0.0706" stop-color="#e4c500"/><stop offset="0.0941" stop-color="#e3c600"/><stop offset="0.1176" stop-color="#e2c800"/><stop offset="0.1471" stop-color="#dfcc00"/><stop offset="0.1765" stop-color="#dcd000"/><stop offset="0.2118" stop-color="#d5d402"/><stop offset="0.2529" stop-color="#ced804"/><stop offset="0.3" stop-color="#c6dd07"/><stop offset="0.3529" stop-color="#bce20b"/><stop offset="0.4118" stop-color="#abe914"/><stop offset="0.4824" stop-color="#93f023"/><stop offset="0.5529" stop-color="#7af635"/><stop offset="0.6235" stop-color="#66f849"/><stop offset="0.6941" stop-color="#55f85b"/><stop offset="0.7647" stop-color="#4af66c"/><stop offset="0.8353" stop-color="#41f47a"/><stop offset="0.9059" stop-color="#39f387"/><stop offset="1" stop-color="#29eea1"/></linearGradient>
<linearGradient id="g125"><stop offset="0" stop-color="#f89d00"/><stop offset="0.0176" stop-color="#f6a300"/><stop offset="0.0353" stop-color="#f4a800"/><stop offset="0.0529" stop-color="#f3ab00"/><stop offset="0.0706" stop-color="#f2ad00"/><stop offset="0.0941" stop-color="#f0af00"/><stop offset="0.1176" stop-color="#eeb400"/><stop offset="0.1471" stop-color="#eabb00"/><stop offset="0.1765" stop-color="#e6c200"/><stop offset="0.2118" stop-color="#e2c900"/><stop offset="0.2529" stop-color="#dcd000"/><stop offset="0.3" stop-color="#d1d603"/><stop offset="0.3529" stop-color="#c8dc06"/><stop offset="0.4118" stop-color="#bae30c"/><stop offset="0.4824" stop-color="#a3eb18"/><stop offset="0.5529" stop-color="#8bf228"/><stop offset="0.6235" stop-color="#76f839"/><stop offset="0.6941" stop-color="#65f84a"/><stop offset="0.7647" stop-color="#57f859"/><stop offset="0.8353" stop-color="#4ef766"/><stop offset="0.9059" stop-color="#46f572"/><stop offset="1" stop-color="#2ff198"/></linearGradient>
<linearGradient id="g126"><stop offset="0" stop-color="#fe7005"/><stop offset="0.0176" stop-color="#fe7604"/><stop offset="0.0353" stop-color="#fd7c03"/><stop offset="0.0529" stop-color="#fd8103"/><stop offset="0.0706" stop-color="#fd8602"/><stop offset="0.0941" stop-color="#fc8d01"/><stop offset="0.1176" stop-color="#fb9700"/><stop offset="0.1471" stop-color="#f5a500"/><stop offset="0.1765" stop-color="#f1af00"/><stop offset="0.2118" stop-color="#eabb00"/><stop offset="0.2529" stop-color="#e3c700"/><stop offset="0.3" stop-color="#dcd000"/><stop offset="0.3529" stop-color="#d0d703"/><stop offset="0.4118" stop-color="#c5de07"/><stop offset="0.4824" stop-color="#b1e711"/><stop offset="0.5529" stop-color="#9aee1e"/><stop offset="0.6235" stop-color="#85f42d"/><stop offset="0.6941" stop-color="#73f83b"/><stop offset="0.7647" stop-color="#65f84a"/><stop offset="0.8353" stop-color="#59f857"/><stop offset="0.9059" stop-color="#51f762"/><stop offset="1" stop-color="#37f28a"/></linearGradient>
<linearGradient id="g127"><stop offset="0" stop-color="#fa480b"/><stop offset="0.0176" stop-color="#fb4c0a"/><stop offset="0.0353" stop-color="#fc5209"/><stop offset="0.0529" stop-color="#fe5908"/><stop offset="0.0706" stop-color="#ff6207"/><stop offset="0.0941" stop-color="#fe6e05"/><stop offset="0.1176" stop-color="#fd7d03"/><stop offset="0.1471" stop-color="#fc8f01"/><stop offset="0.1765" stop-color="#f89d00"/><stop offset="0.2118" stop-color="#f1af00"/><stop offset="0.2529" stop-color="#e8c000"/><stop offset="0.3" stop-color="#e0cb00"/><stop offset="0.3529" stop-color="#d7d302"/><stop offset="0.4118" stop-color="#cbda05"/><stop offset="0.4824" stop-color="#b9e40d"/><stop offset="0.5529" stop-color="#a3eb19"/><stop offset="0.6235" stop-color="#90f125"/><stop offset="0.6941" stop-color="#7ef633"/><stop offset="0.7647" stop-color="#6ff840"/><stop offset="0.8353" stop-color="#62f84d"/><stop offset="0.9059" stop-color="#58f858"/><stop offset="1" stop-color="#3cf383"/></linearGradient>
<linearGradient id="g128"><stop offset="0" stop-color="#f02410"/><stop offset="0.0176" stop-color="#f12610"/><stop offset="0.0353" stop-color="#f22c0f"/><stop offset="0.0529" stop-color="#f5350e"/><stop offset="0.0706" stop-color="#f8400c"/><stop offset="0.0941" stop-color="#fc510a"/><stop offset="0.1176" stop-color="#ff6407"/><stop offset="0.1471" stop-color="#fd7904"/><stop offset="0.1765" stop-color="#fc8d01"/><stop offset="0.2118" stop-color="#f6a400"/><stop offset="0.2529" stop-color="#ecb800"/><stop offset="0.3" stop-color="#e4c600"/><stop offset="0.3529" stop-color="#dcd000"/><stop offset="0.4118" stop-color="#d0d704"/><stop offset="0.4824" stop-color="#bfe109"/><stop offset="0.5529" stop-color="#ace913"/><stop offset="0.6235" stop-color="#9aee1f"/><stop offset="0.6941" stop-color="#88f32b"/><stop offset="0.7647" stop-color="#78f737"/><stop offset="0.8353" stop-color="#6af845"/><stop offset="0.9059" stop-color="#5ef852"/><stop offset="1" stop-color="#3df381"/></linearGradient>
<linearGradient id="g129"><stop offset="0" stop-color="#e8171f"/><stop offset="0.0176" stop-color="#e9191d"/><stop offset="0.0353" stop-color="#eb1c19"/><stop offset="0.0529" stop-color="#ee2113"/><stop offset="0.0706" stop-color="#f22b0f"/><stop offset="0.0941" stop-color="#f73f0c"/><stop offset="0.1176" stop-color="#fd5409"/><stop offset="0.1471" stop-color="#fe6c06"/><stop offset="0.1765" stop-color="#fd8302"/><stop offset="0.2118" stop-color="#f89e00"/><stop offset="0.2529" stop-color="#eeb300"/><stop offset="0.3" stop-color="#e6c300"/><stop offset="0.3529" stop-color="#decd00"/><stop offset="0.4118" stop-color="#d3d503"/><stop offset="0.4824" stop-color="#c3df08"/><stop offset="0.5529" stop-color="#b2e710"/><stop offset="0.6235" stop-color="#a0ec1b"/><stop offset="0.6941" stop-color="#8ff126"/><stop offset="0.7647" stop-color="#7ef532"/><stop offset="0.8353" stop-color="#6ff840"/><stop offset="0.9059" stop-color="#60f84f"/><stop offset="1" stop-color="#3cf382"/></linearGradient>
<linearGradient id="g130"><stop offset="0" stop-color="#e20d2a"/><stop offset="0.0176" stop-color="#e30f28"/><stop offset="0.0353" stop-color="#e51323"/><stop offset="0.0529" stop-color="#e9181d"/><stop offset="0.0706" stop-color="#ed1f15"/><stop offset="0.0941" stop-color="#f3310e"/><stop offset="0.1176" stop-color="#f9460b"/><stop offset="0.1471" stop-color="#ff6107"/><stop offset="0.1765" stop-color="#fd7c03"/><stop offset="0.2118" stop-color="#fa9a00"/><stop offset="0.2529" stop-color="#f0af00"/><stop offset="0.3" stop-color="#e8bf00"/><stop offset="0.3529" stop-color="#e1ca00"/><stop offset="0.4118" stop-color="#d5d402"/><stop offset="0.4824" stop-color="#c6dd07"/><stop offset="0.5529" stop-color="#b7e50e"/><stop offset="0.6235" stop-color="#a6ea17"/><stop offset="0.6941" stop-color="#96ef21"/><stop offset="0.7647" stop-color="#84f42e"/><stop offset="0.8353" stop-color="#73f83b"/><stop offset="0.9059" stop-color="#61f84e"/><stop offset="1" stop-color="#3bf384"/></linearGradient>
<linearGradient id="g131"><stop offset="0" stop-color="#dc0533"/><stop offset="0.0176" stop-color="#de0730"/><stop offset="0.0353" stop-color="#e10b2c"/><stop offset="0.0529" stop-color="#e41125"/><stop offset="0.0706" stop-color="#e9191d"/><stop offset="0.0941" stop-color="#f02510"/><stop offset="0.1176" stop-color="#f63b0d"/><stop offset="0.1471" stop-color="#fe5809"/><stop offset="0.1765" stop-color="#fe7504"/><stop offset="0.2118" stop-color="#fc9500"/><stop offset="0.2529" stop-color="#f3aa00"/><stop offset="0.3" stop-color="#ebba00"/><stop offset="0.3529" stop-color="#e3c700"/><stop offset="0.4118" stop-color="#d8d201"/><stop offset="0.4824" stop-color="#c9dc06"/><stop offset="0.5529" stop-color="#bce30b"/><stop offset="0.6235" stop-color="#ace813"/><stop offset="0.6941" stop-color="#9cee1d"/><stop offset="0.7647" stop-color="#8af229"/><stop offset="0.8353" stop-color="#78f737"/><stop offset="0.9059" stop-color="#62f84d"/><stop offset="1" stop-color="#3af386"/></linearGradient>
<linearGradient id="g132"><stop offset="0" stop-color="#d6033d"/><stop offset="0.0176" stop-color="#d90438"/><stop offset="0.0353" stop-color="#dd0632"/><stop offset="0.0529" stop-color="#e10c2c"/><stop offset="0.0706" stop-color="#e51323"/><stop offset="0.0941" stop-color="#ed1f16"/><stop offset="0.1176" stop-color="#f3310e"/><stop offset="0.1471" stop-color="#fb4e0a"/><stop offset="0.1765" stop-color="#fe6c06"/><stop offset="0.2118" stop-color="#fc8c01"/><stop offset="0.2529" stop-color="#f6a400"/><stop offset="0.3" stop-color="#edb500"/><stop offset="0.3529" stop-color="#e5c400"/><stop offset="0.4118" stop-color="#dcd000"/><stop offset="0.4824" stop-color="#ccda05"/><stop offset="0.5529" stop-color="#c1e109"/><stop offset="0.6235" stop-color="#b2e710"/><stop offset="0.6941" stop-color="#a1ec1a"/><stop offset="0.7647" stop-color="#90f125"/><stop offset="0.8353" stop-color="#7cf634"/><stop offset="0.9059" stop-color="#63f84c"/><stop offset="1" stop-color="#39f387"/></linearGradient>
<linearGradient id="g133"><stop offset="0" stop-color="#07adeb"/><stop offset="0.0179" stop-color="#06a9ed"/><stop offset="0.0357" stop-color="#06a6ee"/><stop offset="0.0536" stop-color="#06a2ef"/><stop offset="0.0714" stop-color="#059ff0"/><stop offset="0.0952" stop-color="#059bf1"/><stop offset="0.119" stop-color="#0598f2"/><stop offset="0.1488" stop-color="#0494f3"/><stop offset="0.1786" stop-color="#0490f4"/><stop offset="0.2143" stop-color="#048af4"/><stop offset="0.256" stop-color="#0583f4"/><stop offset="0.3036" stop-color="#057bf4"/><stop offset="0.3571" stop-color="#0676f4"/><stop offset="0.4167" stop-color="#0672f4"/><stop offset="0.4881" stop-color="#066ef4"/><stop offset="0.5595" stop-color="#0669f4"/><stop offset="0.631" stop-color="#0665f3"/><stop offset="0.7024" stop-color="#0662f3"/><stop offset="0.7738" stop-color="#0655f2"/><stop offset="0.8452" stop-color="#082eeb"/><stop offset="0.9167" stop-color="#081be7"/><stop offset="1" stop-color="#0810e4"/></linearGradient>
<linearGradient id="g134"><stop offset="0" stop-color="#06a5ee"/><stop offset="0.0179" stop-color="#06a1ef"/><stop offset="0.0357" stop-color="#059df0"/><stop offset="0.0536" stop-color="#059af1"/><stop offset="0.0714" stop-color="#0597f2"/><stop offset="0.0952" stop-color="#0495f3"/><stop offset="0.119" stop-color="#0493f3"/><stop offset="0.1488" stop-color="#0492f3"/><stop offset="0.1786" stop-color="#0491f4"/><stop offset="0.2143" stop-color="#048ef4"/><stop offset="0.256" stop-color="#048bf4"/><stop offset="0.3036" stop-color="#0587f4"/><stop offset="0.3571" stop-color="#0581f4"/><stop offset="0.4167" stop-color="#057bf4"/><stop offset="0.4881" stop-color="#0673f4"/><stop offset="0.5595" stop-color="#066cf4"/><stop offset="0.631" stop-color="#0666f3"/><stop offset="0.7024" stop-color="#065df3"/><stop offset="0.7738" stop-color="#064bf1"/><stop offset="0.8452" stop-color="#0736ed"/><stop offset="0.9167" stop-color="#0825e9"/><stop offset="1" stop-color="#0814e5"/></linearGradient>
<linearGradient id="g135"><stop offset="0" stop-color="#0599f2"/><stop offset="0.0179" stop-color="#0494f3"/><stop offset="0.0357" stop-color="#0491f4"/><stop offset="0.0536" stop-color="#048ff4"/><stop offset="0.0714" stop-color="#048ef4"/><stop offset="0.0952" stop-color="#048ff4"/><stop offset="0.119" stop-color="#0490f4"/><stop offset="0.1488" stop-color="#0490f4"/><stop offset="0.1786" stop-color="#0490f4"/><stop offset="0.2143" stop-color="#0490f4"/><stop offset="0.256" stop-color="#048ff4"/><stop offset="0.3036" stop-color="#048df4"/><stop offset="0.3571" stop-color="#0588f4"/><stop offset="0.4167" stop-color="#0580f4"/><stop offset="0.4881" stop-color="#0676f4"/><stop offset="0.5595" stop-color="#0670f4"/><stop offset="0.631" stop-color="#0669f4"/><stop offset="0.7024" stop-color="#0660f3"/><stop offset="0.7738" stop-color="#0651f2"/><stop offset="0.8452" stop-color="#073eee"/><stop offset="0.9167" stop-color="#082ceb"/><stop offset="1" stop-color="#081fe8"/></linearGradient>
<linearGradient id="g136"><stop offset="0" stop-color="#059cf1"/><stop offset="0.0179" stop-color="#0597f2"/><stop offset="0.0357" stop-color="#0494f3"/><stop offset="0.0536" stop-color="#0493f3"/><stop offset="0.0714" stop-color="#0492f3"/><stop offset="0.0952" stop-color="#0492f4"/><stop offset="0.119" stop-color="#0491f4"/><stop offset="0.1488" stop-color="#0490f4"/><stop offset="0.1786" stop-color="#048ff4"/><stop offset="0.2143" stop-color="#048ff4"/><stop offset="0.256" stop-color="#0490f4"/><stop offset="0.3036" stop-color="#0490f4"/><stop offset="0.3571" stop-color="#048cf4"/><stop offset="0.4167" stop-color="#0488f4"/><stop offset="0.4881" stop-color="#057ff4"/><stop offset="0.5595" stop-color="#0578f4"/><stop offset="0.631" stop-color="#0672f4"/><stop offset="0.7024" stop-color="#0669f4"/><stop offset="0.7738" stop-color="#065cf3"/><stop offset="0.8452" stop-color="#064bf1"/><stop offset="0.9167" stop-color="#073bee"/><stop offset="1" stop-color="#082eeb"/></linearGradient>
<linearGradient id="g137"><stop offset="0" stop-color="#07aceb"/><stop offset="0.0179" stop-color="#06a9ed"/><stop offset="0.0357" stop-color="#06a6ee"/><stop offset="0.0536" stop-color="#06a4ef"/><stop offset="0.0714" stop-color="#06a2ef"/><stop offset="0.0952" stop-color="#05a0f0"/><stop offset="0.119" stop-color="#059ff0"/><stop offset="0.1488" stop-color="#059df1"/><stop offset="0.1786" stop-color="#059bf1"/><stop offset="0.2143" stop-color="#0599f2"/><stop offset="0.256" stop-color="#0597f2"/><stop offset="0.3036" stop-color="#0495f3"/><stop offset="0.3571" stop-color="#0495f3"/><stop offset="0.4167" stop-color="#0494f3"/><stop offset="0.4881" stop-color="#048ff4"/><stop offset="0.5595" stop-color="#0587f4"/><stop offset="0.631" stop-color="#0580f4"/><stop offset="0.7024" stop-color="#0676f4"/><stop offset="0.7738" stop-color="#0669f4"/><stop offset="0.8452" stop-color="#065af3"/><stop offset="0.9167" stop-color="#064bf1"/><stop offset="1" stop-color="#073dee"/></linearGradient>
<linearGradient id="g138"><stop offset="0" stop-color="#0bc3e0"/><stop offset="0.0179" stop-color="#0ac0e2"/><stop offset="0.0357" stop-color="#09bde4"/><stop offset="0.0536" stop-color="#08bce5"/><stop offset="0.0714" stop-color="#08bae6"/><stop offset="0.0952" stop-color="#08b8e7"/><stop offset="0.119" stop-color="#08b7e7"/><stop offset="0.1488" stop-color="#07b5e8"/><stop offset="0.1786" stop-color="#07b3e9"/><stop offset="0.2143" stop-color="#07b1e9"/><stop offset="0.256" stop-color="#07afea"/><stop offset="0.3036" stop-color="#07abec"/><stop offset="0.3571" stop-color="#06a8ed"/><stop offset="0.4167" stop-color="#06a4ef"/><stop offset="0.4881" stop-color="#059ef0"/><stop offset="0.5595" stop-color="#0598f2"/><stop offset="0.631" stop-color="#0491f4"/><stop offset="0.7024" stop-color="#0586f4"/><stop offset="0.7738" stop-color="#0579f4"/><stop offset="0.8452" stop-color="#066bf4"/><stop offset="0.9167" stop-color="#065df3"/><stop offset="1" stop-color="#064df1"/></linearGradient>
<linearGradient id="g139"><stop offset="0" stop-color="#14d8cb"/><stop offset="0.0179" stop-color="#13d6ce"/><stop offset="0.0357" stop-color="#12d5cf"/><stop offset="0.0536" stop-color="#12d4d0"/><stop offset="0.0714" stop-color="#11d3d1"/><stop offset="0.0952" stop-color="#10d1d3"/><stop offset="0.119" stop-color="#0fcfd5"/><stop offset="0.1488" stop-color="#0fced6"/><stop offset="0.1786" stop-color="#0fcfd5"/><stop offset="0.2143" stop-color="#0fcfd5"/><stop offset="0.256" stop-color="#0eccd8"/><stop offset="0.3036" stop-color="#0bc6de"/><stop offset="0.3571" stop-color="#09bee3"/><stop offset="0.4167" stop-color="#08b7e7"/><stop offset="0.4881" stop-color="#07b0ea"/><stop offset="0.5595" stop-color="#06a9ed"/><stop offset="0.631" stop-color="#05a0f0"/><stop offset="0.7024" stop-color="#0597f2"/><stop offset="0.7738" stop-color="#048bf4"/><stop offset="0.8452" stop-color="#057ef4"/><stop offset="0.9167" stop-color="#0671f4"/><stop offset="1" stop-color="#0660f3"/></linearGradient>
<linearGradient id="g140"><stop offset="0" stop-color="#17ddc4"/><stop offset="0.0179" stop-color="#15dbc8"/><stop offset="0.0357" stop-color="#14d9cb"/><stop offset="0.0536" stop-color="#14d8cc"/><stop offset="0.0714" stop-color="#14d8cc"/><stop offset="0.0952" stop-color="#15daca"/><stop offset="0.119" stop-color="#16dbc7"/><stop offset="0.1488" stop-color="#17dec3"/><stop offset="0.1786" stop-color="#18e0c0"/><stop offset="0.2143" stop-color="#18e1bf"/><stop offset="0.256" stop-color="#18e0c0"/><stop offset="0.3036" stop-color="#16dcc6"/><stop offset="0.3571" stop-color="#13d6ce"/><stop offset="0.4167" stop-color="#0fcfd5"/><stop offset="0.4881" stop-color="#0bc4df"/><stop offset="0.5595" stop-color="#08bae6"/><stop offset="0.631" stop-color="#07b1ea"/><stop offset="0.7024" stop-color="#06a8ed"/><stop offset="0.7738" stop-color="#059df0"/><stop offset="0.8452" stop-color="#0494f3"/><stop offset="0.9167" stop-color="#0588f4"/><stop offset="1" stop-color="#0675f4"/></linearGradient>
<linearGradient id="g141"><stop offset="0" stop-color="#19e2bd"/><stop offset="0.0179" stop-color="#16dcc6"/><stop offset="0.0357" stop-color="#15daca"/><stop offset="0.0536" stop-color="#16dcc6"/><stop offset="0.0714" stop-color="#18e0c0"/><stop offset="0.0952" stop-color="#1be6b7"/><stop offset="0.119" stop-color="#20eaae"/><stop offset="0.1488" stop-color="#26eda5"/><stop offset="0.1786" stop-color="#28eea2"/><stop offset="0.2143" stop-color="#27eea3"/><stop offset="0.256" stop-color="#24eca8"/><stop offset="0.3036" stop-color="#1feaaf"/><stop offset="0.3571" stop-color="#1be6b7"/><stop offset="0.4167" stop-color="#19e2bd"/><stop offset="0.4881" stop-color="#15dbc8"/><stop offset="0.5595" stop-color="#0fcfd5"/><stop offset="0.631" stop-color="#0ac2e0"/><stop offset="0.7024" stop-color="#08b9e6"/><stop offset="0.7738" stop-color="#07b0ea"/><stop offset="0.8452" stop-color="#06a6ee"/><stop offset="0.9167" stop-color="#059bf1"/><stop offset="1" stop-color="#048af4"/></linearGradient>
<linearGradient id="g142"><stop offset="0" stop-color="#39f388"/><stop offset="0.0179" stop-color="#2cf09c"/><stop offset="0.0357" stop-color="#2cf09c"/><stop offset="0.0536" stop-color="#36f28d"/><stop offset="0.0714" stop-color="#41f47a"/><stop offset="0.0952" stop-color="#4ef765"/><stop offset="0.119" stop-color="#57f858"/><stop offset="0.1488" stop-color="#5ff850"/><stop offset="0.1786" stop-color="#56f85a"/><stop offset="0.2143" stop-color="#49f66e"/><stop offset="0.256" stop-color="#40f47c"/><stop offset="0.3036" stop-color="#38f288"/><stop offset="0.3571" stop-color="#2bef9e"/><stop offset="0.4167" stop-color="#24eca7"/><stop offset="0.4881" stop-color="#1be7b6"/><stop offset="0.5595" stop-color="#17ddc4"/><stop offset="0.631" stop-color="#11d3d1"/><stop offset="0.7024" stop-color="#0dcada"/><stop offset="0.7738" stop-color="#09bfe3"/><stop offset="0.8452" stop-color="#07b4e9"/><stop offset="0.9167" stop-color="#06a9ed"/><stop offset="1" stop-color="#0599f1"/></linearGradient>
<linearGradient id="g143"><stop offset="0" stop-color="#b4e50f"/><stop offset="0.0179" stop-color="#a8ea15"/><stop offset="0.0357" stop-color="#9eed1c"/><stop offset="0.0536" stop-color="#9aee1f"/><stop offset="0.0714" stop-color="#98ef20"/><stop offset="0.0952" stop-color="#96ef21"/><stop offset="0.119" stop-color="#94f022"/><stop offset="0.1488" stop-color="#8df227"/><stop offset="0.1786" stop-color="#83f42f"/><stop offset="0.2143" stop-color="#73f83b"/><stop offset="0.256" stop-color="#68f847"/><stop offset="0.3036" stop-color="#5cf853"/><stop offset="0.3571" stop-color="#47f571"/><stop offset="0.4167" stop-color="#3df381"/><stop offset="0.4881" stop-color="#28eea2"/><stop offset="0.5595" stop-color="#1be6b7"/><stop offset="0.631" stop-color="#17dec4"/><stop offset="0.7024" stop-color="#14d8cc"/><stop offset="0.7738" stop-color="#0dcada"/><stop offset="0.8452" stop-color="#09bfe3"/><stop offset="0.9167" stop-color="#07b4e8"/><stop offset="1" stop-color="#06a7ee"/></linearGradient>
<linearGradient id="g144"><stop offset="0" stop-color="#e2c900"/><stop offset="0.0179" stop-color="#dcd000"/><stop offset="0.0357" stop-color="#d1d603"/><stop offset="0.0536" stop-color="#c8dc06"/><stop offset="0.0714" stop-color="#c3df08"/><stop offset="0.0952" stop-color="#bce20b"/><stop offset="0.119" stop-color="#b6e50e"/><stop offset="0.1488" stop-color="#b1e711"/><stop offset="0.1786" stop-color="#abe914"/><stop offset="0.2143" stop-color="#a3eb19"/><stop offset="0.256" stop-color="#98ef20"/><stop offset="0.3036" stop-color="#80f531"/><stop offset="0.3571" stop-color="#60f84f"/><stop offset="0.4167" stop-color="#57f859"/><stop offset="0.4881" stop-color="#38f289"/><stop offset="0.5595" stop-color="#23ebaa"/><stop offset="0.631" stop-color="#1ae3bb"/><stop offset="0.7024" stop-color="#16dbc7"/><stop offset="0.7738" stop-color="#10d0d4"/><stop offset="0.8452" stop-color="#0cc7dd"/><stop offset="0.9167" stop-color="#09bde4"/><stop offset="1" stop-color="#07b1ea"/></linearGradient>
<linearGradient id="g145"><stop offset="0" stop-color="#efb200"/><stop offset="0.0179" stop-color="#e8c100"/><stop offset="0.0357" stop-color="#e1c900"/><stop offset="0.0536" stop-color="#dcd000"/><stop offset="0.0714" stop-color="#d7d301"/><stop offset="0.0952" stop-color="#d2d603"/><stop offset="0.119" stop-color="#ccd905"/><stop offset="0.1488" stop-color="#c9dc06"/><stop offset="0.1786" stop-color="#c6dd07"/><stop offset="0.2143" stop-color="#c3df08"/><stop offset="0.256" stop-color="#bae30c"/><stop offset="0.3036" stop-color="#a1ec1a"/><stop offset="0.3571" stop-color="#7df633"/><stop offset="0.4167" stop-color="#63f84c"/><stop offset="0.4881" stop-color="#45f574"/><stop offset="0.5595" stop-color="#29eea1"/><stop offset="0.631" stop-color="#1ce8b5"/><stop offset="0.7024" stop-color="#17dec3"/><stop offset="0.7738" stop-color="#13d6ce"/><stop offset="0.8452" stop-color="#0fced6"/><stop offset="0.9167" stop-color="#0bc4df"/><stop offset="1" stop-color="#08b8e7"/></linearGradient>
<linearGradient id="g146"><stop offset="0" stop-color="#fa9a00"/><stop offset="0.0179" stop-color="#f1ae00"/><stop offset="0.0357" stop-color="#ebba00"/><stop offset="0.0536" stop-color="#e8c100"/><stop offset="0.0714" stop-color="#e6c300"/><stop offset="0.0952" stop-color="#e4c600"/><stop offset="0.119" stop-color="#e1c900"/><stop offset="0.1488" stop-color="#ddce00"/><stop offset="0.1786" stop-color="#d9d201"/><stop offset="0.2143" stop-color="#d3d503"/><stop offset="0.256" stop-color="#cadb05"/><stop offset="0.3036" stop-color="#b3e60f"/><stop offset="0.3571" stop-color="#8ef227"/><stop offset="0.4167" stop-color="#6bf844"/><stop offset="0.4881" stop-color="#4ef766"/><stop offset="0.5595" stop-color="#2ef098"/><stop offset="0.631" stop-color="#20eaae"/><stop offset="0.7024" stop-color="#19e1be"/><stop offset="0.7738" stop-color="#15d9ca"/><stop offset="0.8452" stop-color="#12d3d1"/><stop offset="0.9167" stop-color="#0cc8dc"/><stop offset="1" stop-color="#09bde4"/></linearGradient>
<linearGradient id="g147"><stop offset="0" stop-color="#fd7f03"/><stop offset="0.0179" stop-color="#f89e00"/><stop offset="0.0357" stop-color="#f2ad00"/><stop offset="0.0536" stop-color="#f0af00"/><stop offset="0.0714" stop-color="#f1ae00"/><stop offset="0.0952" stop-color="#f1af00"/><stop offset="0.119" stop-color="#eeb500"/><stop offset="0.1488" stop-color="#e8bf00"/><stop offset="0.1786" stop-color="#e3c700"/><stop offset="0.2143" stop-color="#dcd000"/><stop offset="0.256" stop-color="#ced804"/><stop offset="0.3036" stop-color="#b8e40d"/><stop offset="0.3571" stop-color="#95f022"/><stop offset="0.4167" stop-color="#6ff840"/><stop offset="0.4881" stop-color="#52f860"/><stop offset="0.5595" stop-color="#35f28e"/><stop offset="0.631" stop-color="#24eca9"/><stop offset="0.7024" stop-color="#1ae4ba"/><stop offset="0.7738" stop-color="#15dbc8"/><stop offset="0.8452" stop-color="#12d5cf"/><stop offset="0.9167" stop-color="#0dcbd9"/><stop offset="1" stop-color="#09bfe2"/></linearGradient>
<linearGradient id="g148"><stop offset="0" stop-color="#fd5609"/><stop offset="0.0179" stop-color="#fd8a01"/><stop offset="0.0357" stop-color="#f6a200"/><stop offset="0.0536" stop-color="#f7a000"/><stop offset="0.0714" stop-color="#fb9600"/><stop offset="0.0952" stop-color="#fb9700"/><stop offset="0.119" stop-color="#f7a000"/><stop offset="0.1488" stop-color="#f1af00"/><stop offset="0.1786" stop-color="#e9be00"/><stop offset="0.2143" stop-color="#dfcc00"/><stop offset="0.256" stop-color="#cdd904"/><stop offset="0.3036" stop-color="#b8e40d"/><stop offset="0.3571" stop-color="#96ef20"/><stop offset="0.4167" stop-color="#6ff83f"/><stop offset="0.4881" stop-color="#50f762"/><stop offset="0.5595" stop-color="#3af386"/><stop offset="0.631" stop-color="#27eea3"/><stop offset="0.7024" stop-color="#1ce7b5"/><stop offset="0.7738" stop-color="#16dcc5"/><stop offset="0.8452" stop-color="#12d5cf"/><stop offset="0.9167" stop-color="#0ecdd7"/><stop offset="1" stop-color="#0ac1e1"/></linearGradient>
<linearGradient id="g149"><stop offset="0" stop-color="#eb1b1a"/><stop offset="0.0179" stop-color="#fe5709"/><stop offset="0.0357" stop-color="#fd8702"/><stop offset="0.0536" stop-color="#fb9800"/><stop offset="0.0714" stop-color="#fb9700"/><stop offset="0.0952" stop-color="#fc9300"/><stop offset="0.119" stop-color="#fb9700"/><stop offset="0.1488" stop-color="#f5a700"/><stop offset="0.1786" stop-color="#ecb800"/><stop offset="0.2143" stop-color="#e0ca00"/><stop offset="0.256" stop-color="#cdd904"/><stop offset="0.3036" stop-color="#b7e40d"/><stop offset="0.3571" stop-color="#97ef20"/><stop offset="0.4167" stop-color="#6ff83f"/><stop offset="0.4881" stop-color="#4ff763"/><stop offset="0.5595" stop-color="#3ef480"/><stop offset="0.631" stop-color="#2aef9e"/><stop offset="0.7024" stop-color="#1fe9b0"/><stop offset="0.7738" stop-color="#17dfc2"/><stop offset="0.8452" stop-color="#13d6ce"/><stop offset="0.9167" stop-color="#0fcfd5"/><stop offset="1" stop-color="#0ac3e0"/></linearGradient>
<linearGradient id="g150"><stop offset="0" stop-color="#c40159"/><stop offset="0.0179" stop-color="#e7161f"/><stop offset="0.0357" stop-color="#ff6407"/><stop offset="0.0536" stop-color="#fb9700"/><stop offset="0.0714" stop-color="#f89e00"/><stop offset="0.0952" stop-color="#fb9600"/><stop offset="0.119" stop-color="#fc9400"/><stop offset="0.1488" stop-color="#f6a200"/><stop offset="0.1786" stop-color="#edb500"/><stop offset="0.2143" stop-color="#e1ca00"/><stop offset="0.256" stop-color="#cdd904"/><stop offset="0.3036" stop-color="#b6e50e"/><stop offset="0.3571" stop-color="#97ef20"/><stop offset="0.4167" stop-color="#71f83e"/><stop offset="0.4881" stop-color="#52f860"/><stop offset="0.5595" stop-color="#42f479"/><stop offset="0.631" stop-color="#30f195"/><stop offset="0.7024" stop-color="#24eca9"/><stop offset="0.7738" stop-color="#19e2bd"/><stop offset="0.8452" stop-color="#15d9ca"/><stop offset="0.9167" stop-color="#11d1d3"/><stop offset="1" stop-color="#0bc4df"/></linearGradient>
<linearGradient id="g151"><stop offset="0" stop-color="#c00060"/><stop offset="0.0179" stop-color="#d00247"/><stop offset="0.0357" stop-color="#ff6407"/><stop offset="0.0536" stop-color="#f6a400"/><stop offset="0.0714" stop-color="#f6a200"/><stop offset="0.0952" stop-color="#fb9700"/><stop offset="0.119" stop-color="#fc9500"/><stop offset="0.1488" stop-color="#f7a200"/><stop offset="0.1786" stop-color="#eeb500"/><stop offset="0.2143" stop-color="#e1c900"/><stop offset="0.256" stop-color="#ccd905"/><stop offset="0.3036" stop-color="#b6e50e"/><stop offset="0.3571" stop-color="#97ef20"/><stop offset="0.4167" stop-color="#73f83b"/><stop offset="0.4881" stop-color="#55f85b"/><stop offset="0.5595" stop-color="#46f573"/><stop offset="0.631" stop-color="#36f28b"/><stop offset="0.7024" stop-color="#27eea3"/><stop offset="0.7738" stop-color="#1ae5b9"/><stop offset="0.8452" stop-color="#16dbc7"/><stop offset="0.9167" stop-color="#12d4d0"/><stop offset="1" stop-color="#0bc6de"/></linearGradient>
<linearGradient id="g152"><stop offset="0" stop-color="#c00060"/><stop offset="0.0179" stop-color="#c00060"/><stop offset="0.0357" stop-color="#fc9200"/><stop offset="0.0536" stop-color="#f2ab00"/><stop offset="0.0714" stop-color="#f99a00"/><stop offset="0.0952" stop-color="#fc9300"/><stop offset="0.119" stop-color="#fc9500"/><stop offset="0.1488" stop-color="#f6a200"/><stop offset="0.1786" stop-color="#edb500"/><stop offset="0.2143" stop-color="#e1c900"/><stop offset="0.256" stop-color="#ccd905"/><stop offset="0.3036" stop-color="#b7e40e"/><stop offset="0.3571" stop-color="#99ef1f"/><stop offset="0.4167" stop-color="#76f839"/><stop offset="0.4881" stop-color="#59f857"/><stop offset="0.5595" stop-color="#49f66d"/><stop offset="0.631" stop-color="#3df382"/><stop offset="0.7024" stop-color="#2bef9e"/><stop offset="0.7738" stop-color="#1ce8b4"/><stop offset="0.8452" stop-color="#17ddc4"/><stop offset="0.9167" stop-color="#13d7cd"/><stop offset="1" stop-color="#0cc7dd"/></linearGradient>
<linearGradient id="g153"><stop offset="0" stop-color="#c00060"/><stop offset="0.0179" stop-color="#d8033b"/><stop offset="0.0357" stop-color="#fe6d06"/><stop offset="0.0536" stop-color="#fb9600"/><stop offset="0.0714" stop-color="#fc8e01"/><stop offset="0.0952" stop-color="#fc9001"/><stop offset="0.119" stop-color="#fb9600"/><stop offset="0.1488" stop-color="#f6a400"/><stop offset="0.1786" stop-color="#edb600"/><stop offset="0.2143" stop-color="#e1c900"/><stop offset="0.256" stop-color="#cdd904"/><stop offset="0.3036" stop-color="#b8e40d"/><stop offset="0.3571" stop-color="#9bee1e"/><stop offset="0.4167" stop-color="#7af736"/><stop offset="0.4881" stop-color="#5df853"/><stop offset="0.5595" stop-color="#4ef766"/><stop offset="0.631" stop-color="#43f578"/><stop offset="0.7024" stop-color="#32f192"/><stop offset="0.7738" stop-color="#20eaae"/><stop offset="0.8452" stop-color="#18e0c0"/><stop offset="0.9167" stop-color="#14d9cb"/><stop offset="1" stop-color="#0dc9db"/></linearGradient>
<linearGradient id="g154"><stop offset="0" stop-color="#c50158"/><stop offset="0.0179" stop-color="#e61323"/><stop offset="0.0357" stop-color="#fd5509"/><stop offset="0.0536" stop-color="#fd7e03"/><stop offset="0.0714" stop-color="#fd8802"/><stop offset="0.0952" stop-color="#fc8f01"/><stop offset="0.119" stop-color="#fb9700"/><stop offset="0.1488" stop-color="#f5a600"/><stop offset="0.1786" stop-color="#edb700"/><stop offset="0.2143" stop-color="#e1c900"/><stop offset="0.256" stop-color="#cfd804"/><stop offset="0.3036" stop-color="#bae30c"/><stop offset="0.3571" stop-color="#9eed1c"/><stop offset="0.4167" stop-color="#7ef532"/><stop offset="0.4881" stop-color="#62f84d"/><stop offset="0.5595" stop-color="#52f85f"/><stop offset="0.631" stop-color="#48f66f"/><stop offset="0.7024" stop-color="#39f387"/><stop offset="0.7738" stop-color="#23eca9"/><stop offset="0.8452" stop-color="#19e2bc"/><stop offset="0.9167" stop-color="#15dbc8"/><stop offset="1" stop-color="#0ecbd9"/></linearGradient>
<linearGradient id="g155"><stop offset="0" stop-color="#057bf4"/><stop offset="0.0179" stop-color="#0578f4"/><stop offset="0.0357" stop-color="#0674f4"/><stop offset="0.0536" stop-color="#066ef4"/><stop offset="0.0714" stop-color="#0664f3"/><stop offset="0.0952" stop-color="#0650f2"/><stop offset="0.119" stop-color="#0737ed"/><stop offset="0.1488" stop-color="#081de7"/><stop offset="0.1786" stop-color="#0811e4"/><stop offset="0.2143" stop-color="#0a0fe3"/><stop offset="0.256" stop-color="#0810e4"/><stop offset="0.3036" stop-color="#0819e6"/><stop offset="0.3571" stop-color="#0825e9"/><stop offset="0.4167" stop-color="#0827ea"/><stop offset="0.4881" stop-color="#0825e9"/><stop offset="0.5595" stop-color="#0821e8"/><stop offset="0.631" stop-color="#081ee7"/><stop offset="0.7024" stop-color="#081be7"/><stop offset="0.7738" stop-color="#0817e6"/><stop offset="0.8452" stop-color="#0813e5"/><stop offset="0.9167" stop-color="#0812e4"/><stop offset="1" stop-color="#0810e4"/></linearGradient>
<linearGradient id="g156"><stop offset="0" stop-color="#0492f3"/><stop offset="0.0179" stop-color="#0490f4"/><stop offset="0.0357" stop-color="#048ef4"/><stop offset="0.0536" stop-color="#0489f4"/><stop offset="0.0714" stop-color="#0583f4"/><stop offset="0.0952" stop-color="#0578f4"/><stop offset="0.119" stop-color="#066cf4"/><stop offset="0.1488" stop-color="#065df3"/><stop offset="0.1786" stop-color="#0651f2"/><stop offset="0.2143" stop-color="#0647f0"/><stop offset="0.256" stop-color="#0741ef"/><stop offset="0.3036" stop-color="#073eee"/><stop offset="0.3571" stop-color="#073eee"/><stop offset="0.4167" stop-color="#073dee"/><stop offset="0.4881" stop-color="#073cee"/><stop offset="0.5595" stop-color="#073cee"/><stop offset="0.631" stop-color="#0738ed"/><stop offset="0.7024" stop-color="#0733ec"/><stop offset="0.7738" stop-color="#082feb"/><stop offset="0.8452" stop-color="#0827ea"/><stop offset="0.9167" stop-color="#0824e9"/><stop offset="1" stop-color="#081fe8"/></linearGradient>
<linearGradient id="g157"><stop offset="0" stop-color="#048ff4"/><stop offset="0.0179" stop-color="#048ef4"/><stop offset="0.0357" stop-color="#048cf4"/><stop offset="0.0536" stop-color="#048bf4"/><stop offset="0.0714" stop-color="#048af4"/><stop offset="0.0952" stop-color="#0588f4"/><stop offset="0.119" stop-color="#0586f4"/><stop offset="0.1488" stop-color="#0581f4"/><stop offset="0.1786" stop-color="#057af4"/><stop offset="0.2143" stop-color="#0672f4"/><stop offset="0.256" stop-color="#066bf4"/><stop offset="0.3036" stop-color="#0668f4"/><stop offset="0.3571" stop-color="#0667f3"/><stop offset="0.4167" stop-color="#0663f3"/><stop offset="0.4881" stop-color="#065df3"/><stop offset="0.5595" stop-color="#065af3"/><stop offset="0.631" stop-color="#0656f2"/><stop offset="0.7024" stop-color="#0650f2"/><stop offset="0.7738" stop-color="#0646f0"/><stop offset="0.8452" stop-color="#073cee"/><stop offset="0.9167" stop-color="#0736ed"/><stop offset="1" stop-color="#082eeb"/></linearGradient>
<linearGradient id="g158"><stop offset="0" stop-color="#048df4"/><stop offset="0.0179" stop-color="#048bf4"/><stop offset="0.0357" stop-color="#048bf4"/><stop offset="0.0536" stop-color="#048cf4"/><stop offset="0.0714" stop-color="#048df4"/><stop offset="0.0952" stop-color="#048ff4"/><stop offset="0.119" stop-color="#0491f4"/><stop offset="0.1488" stop-color="#0493f3"/><stop offset="0.1786" stop-color="#0491f4"/><stop offset="0.2143" stop-color="#048ef4"/><stop offset="0.256" stop-color="#048ef4"/><stop offset="0.3036" stop-color="#048bf4"/><stop offset="0.3571" stop-color="#0585f4"/><stop offset="0.4167" stop-color="#0582f4"/><stop offset="0.4881" stop-color="#057ef4"/><stop offset="0.5595" stop-color="#057af4"/><stop offset="0.631" stop-color="#0673f4"/><stop offset="0.7024" stop-color="#066df4"/><stop offset="0.7738" stop-color="#0663f3"/><stop offset="0.8452" stop-color="#0657f2"/><stop offset="0.9167" stop-color="#064df1"/><stop offset="1" stop-color="#0743ef"/></linearGradient>
<linearGradient id="g159"><stop offset="0" stop-color="#059af1"/><stop offset="0.0179" stop-color="#059af1"/><stop offset="0.0357" stop-color="#059af1"/><stop offset="0.0536" stop-color="#059cf1"/><stop offset="0.0714" stop-color="#059df0"/><stop offset="0.0952" stop-color="#059ff0"/><stop offset="0.119" stop-color="#06a1ef"/><stop offset="0.1488" stop-color="#06a2ef"/><stop offset="0.1786" stop-color="#06a3ef"/><stop offset="0.2143" stop-color="#06a3ef"/><stop offset="0.256" stop-color="#06a4ef"/><stop offset="0.3036" stop-color="#06a2ef"/><stop offset="0.3571" stop-color="#059df0"/><stop offset="0.4167" stop-color="#059bf1"/><stop offset="0.4881" stop-color="#0599f2"/><stop offset="0.5595" stop-color="#0494f3"/><stop offset="0.631" stop-color="#0489f4"/><stop offset="0.7024" stop-color="#0587f4"/><stop offset="0.7738" stop-color="#057ef4"/><stop offset="0.8452" stop-color="#0673f4"/><stop offset="0.9167" stop-color="#066af4"/><stop offset="1" stop-color="#065df3"/></linearGradient>
<linearGradient id="g160"><stop offset="0" stop-color="#07b4e8"/><stop offset="0.0179" stop-color="#08b6e8"/><stop offset="0.0357" stop-color="#08b8e7"/><stop offset="0.0536" stop-color="#08b9e6"/><stop offset="0.0714" stop-color="#08bbe5"/><stop offset="0.0952" stop-color="#08bce5"/><stop offset="0.119" stop-color="#08bce5"/><stop offset="0.1488" stop-color="#08bbe5"/><stop offset="0.1786" stop-color="#08bbe5"/><stop offset="0.2143" stop-color="#08bce5"/><stop offset="0.256" stop-color="#08bbe5"/><stop offset="0.3036" stop-color="#08b9e6"/><stop offset="0.3571" stop-color="#08b6e8"/><stop offset="0.4167" stop-color="#07b2e9"/><stop offset="0.4881" stop-color="#07adeb"/><stop offset="0.5595" stop-color="#06a6ee"/><stop offset="0.631" stop-color="#059df0"/><stop offset="0.7024" stop-color="#059af1"/><stop offset="0.7738" stop-color="#0494f3"/><stop offset="0.8452" stop-color="#048af4"/><stop offset="0.9167" stop-color="#0586f4"/><stop offset="1" stop-color="#0578f4"/></linearGradient>
<linearGradient id="g161"><stop offset="0" stop-color="#0dcada"/><stop offset="0.0179" stop-color="#0fced6"/><stop offset="0.0357" stop-color="#12d3d1"/><stop offset="0.0536" stop-color="#14d8cc"/><stop offset="0.0714" stop-color="#15d9ca"/><stop offset="0.0952" stop-color="#15d9ca"/><stop offset="0.119" stop-color="#14d8cc"/><stop offset="0.1488" stop-color="#13d6ce"/><stop offset="0.1786" stop-color="#14d7cd"/><stop offset="0.2143" stop-color="#14d8cc"/><stop offset="0.256" stop-color="#14d8cb"/><stop offset="0.3036" stop-color="#12d5cf"/><stop offset="0.3571" stop-color="#10d0d4"/><stop offset="0.4167" stop-color="#0eccd8"/><stop offset="0.4881" stop-color="#0bc3df"/><stop offset="0.5595" stop-color="#08bae6"/><stop offset="0.631" stop-color="#07b2e9"/><stop offset="0.7024" stop-color="#07abec"/><stop offset="0.7738" stop-color="#06a4ef"/><stop offset="0.8452" stop-color="#059bf1"/><stop offset="0.9167" stop-color="#0598f2"/><stop offset="1" stop-color="#048ef4"/></linearGradient>
<linearGradient id="g162"><stop offset="0" stop-color="#12d5cf"/><stop offset="0.0179" stop-color="#13d6ce"/><stop offset="0.0357" stop-color="#15d9ca"/><stop offset="0.0536" stop-color="#17ddc4"/><stop offset="0.0714" stop-color="#18e1bf"/><stop offset="0.0952" stop-color="#1ae5b9"/><stop offset="0.119" stop-color="#1be7b6"/><stop offset="0.1488" stop-color="#1ce8b4"/><stop offset="0.1786" stop-color="#1de8b3"/><stop offset="0.2143" stop-color="#1de8b3"/><stop offset="0.256" stop-color="#1ce7b5"/><stop offset="0.3036" stop-color="#1be6b8"/><stop offset="0.3571" stop-color="#1ae3bb"/><stop offset="0.4167" stop-color="#18e0c0"/><stop offset="0.4881" stop-color="#15dbc8"/><stop offset="0.5595" stop-color="#11d2d2"/><stop offset="0.631" stop-color="#0cc7dd"/><stop offset="0.7024" stop-color="#09bde4"/><stop offset="0.7738" stop-color="#07b4e8"/><stop offset="0.8452" stop-color="#07aceb"/><stop offset="0.9167" stop-color="#06a7ee"/><stop offset="1" stop-color="#059ff0"/></linearGradient>
<linearGradient id="g163"><stop offset="0" stop-color="#20eaae"/><stop offset="0.0179" stop-color="#21ebac"/><stop offset="0.0357" stop-color="#26eda6"/><stop offset="0.0536" stop-color="#2ef099"/><stop offset="0.0714" stop-color="#40f47c"/><stop offset="0.0952" stop-color="#4af66c"/><stop offset="0.119" stop-color="#4cf66a"/><stop offset="0.1488" stop-color="#4ef765"/><stop offset="0.1786" stop-color="#48f66e"/><stop offset="0.2143" stop-color="#41f47b"/><stop offset="0.256" stop-color="#39f387"/><stop offset="0.3036" stop-color="#31f194"/><stop offset="0.3571" stop-color="#2aef9f"/><stop offset="0.4167" stop-color="#25eca7"/><stop offset="0.4881" stop-color="#1de9b2"/><stop offset="0.5595" stop-color="#19e2bd"/><stop offset="0.631" stop-color="#16dbc7"/><stop offset="0.7024" stop-color="#10d1d3"/><stop offset="0.7738" stop-color="#0bc4df"/><stop offset="0.8452" stop-color="#09bce5"/><stop offset="0.9167" stop-color="#08b6e8"/><stop offset="1" stop-color="#07afea"/></linearGradient>
<linearGradient id="g164"><stop offset="0" stop-color="#92f124"/><stop offset="0.0179" stop-color="#93f023"/><stop offset="0.0357" stop-color="#96ef21"/><stop offset="0.0536" stop-color="#9bee1e"/><stop offset="0.0714" stop-color="#9fed1b"/><stop offset="0.0952" stop-color="#9fed1b"/><stop offset="0.119" stop-color="#9cee1d"/><stop offset="0.1488" stop-color="#96ef21"/><stop offset="0.1786" stop-color="#8cf228"/><stop offset="0.2143" stop-color="#7ff532"/><stop offset="0.256" stop-color="#71f83e"/><stop offset="0.3036" stop-color="#62f84d"/><stop offset="0.3571" stop-color="#52f85f"/><stop offset="0.4167" stop-color="#42f479"/><stop offset="0.4881" stop-color="#2cf09c"/><stop offset="0.5595" stop-color="#22ebac"/><stop offset="0.631" stop-color="#1ae4ba"/><stop offset="0.7024" stop-color="#16dcc6"/><stop offset="0.7738" stop-color="#11d2d2"/><stop offset="0.8452" stop-color="#0cc9db"/><stop offset="0.9167" stop-color="#0ac3e0"/><stop offset="1" stop-color="#08bbe5"/></linearGradient>
<linearGradient id="g165"><stop offset="0" stop-color="#dece00"/><stop offset="0.0179" stop-color="#dfcc00"/><stop offset="0.0357" stop-color="#ddce00"/><stop offset="0.0536" stop-color="#d8d201"/><stop offset="0.0714" stop-color="#d0d703"/><stop offset="0.0952" stop-color="#cada05"/><stop offset="0.119" stop-color="#c7dd06"/><stop offset="0.1488" stop-color="#c3df08"/><stop offset="0.1786" stop-color="#bce20b"/><stop offset="0.2143" stop-color="#b3e60f"/><stop offset="0.256" stop-color="#a6eb17"/><stop offset="0.3036" stop-color="#94f022"/><stop offset="0.3571" stop-color="#7cf634"/><stop offset="0.4167" stop-color="#64f84b"/><stop offset="0.4881" stop-color="#48f66f"/><stop offset="0.5595" stop-color="#2cf09c"/><stop offset="0.631" stop-color="#20eaae"/><stop offset="0.7024" stop-color="#19e2bd"/><stop offset="0.7738" stop-color="#15dbc8"/><stop offset="0.8452" stop-color="#12d4d0"/><stop offset="0.9167" stop-color="#0fcdd7"/><stop offset="1" stop-color="#0bc6dd"/></linearGradient>
<linearGradient id="g166"><stop offset="0" stop-color="#eabd00"/><stop offset="0.0179" stop-color="#e8c000"/><stop offset="0.0357" stop-color="#e6c300"/><stop offset="0.0536" stop-color="#e3c700"/><stop offset="0.0714" stop-color="#e1ca00"/><stop offset="0.0952" stop-color="#decd00"/><stop offset="0.119" stop-color="#dcd000"/><stop offset="0.1488" stop-color="#d7d301"/><stop offset="0.1786" stop-color="#d2d603"/><stop offset="0.2143" stop-color="#cdd904"/><stop offset="0.256" stop-color="#c4df07"/><stop offset="0.3036" stop-color="#b2e610"/><stop offset="0.3571" stop-color="#9bee1e"/><stop offset="0.4167" stop-color="#80f531"/><stop offset="0.4881" stop-color="#5ff850"/><stop offset="0.5595" stop-color="#3ff47e"/><stop offset="0.631" stop-color="#27eea3"/><stop offset="0.7024" stop-color="#1ce7b5"/><stop offset="0.7738" stop-color="#18e0c1"/><stop offset="0.8452" stop-color="#15dac9"/><stop offset="0.9167" stop-color="#13d6ce"/><stop offset="1" stop-color="#10cfd5"/></linearGradient>
<linearGradient id="g167"><stop offset="0" stop-color="#f5a700"/><stop offset="0.0179" stop-color="#f1ae00"/><stop offset="0.0357" stop-color="#eeb400"/><stop offset="0.0536" stop-color="#ecb700"/><stop offset="0.0714" stop-color="#ebba00"/><stop offset="0.0952" stop-color="#eabd00"/><stop offset="0.119" stop-color="#e8c000"/><stop offset="0.1488" stop-color="#e5c400"/><stop offset="0.1786" stop-color="#e2c800"/><stop offset="0.2143" stop-color="#ddce00"/><stop offset="0.256" stop-color="#d1d603"/><stop offset="0.3036" stop-color="#c4df07"/><stop offset="0.3571" stop-color="#aee812"/><stop offset="0.4167" stop-color="#94f022"/><stop offset="0.4881" stop-color="#70f83e"/><stop offset="0.5595" stop-color="#4df767"/><stop offset="0.631" stop-color="#2ef099"/><stop offset="0.7024" stop-color="#20eaae"/><stop offset="0.7738" stop-color="#19e3bc"/><stop offset="0.8452" stop-color="#16ddc5"/><stop offset="0.9167" stop-color="#15d9ca"/><stop offset="1" stop-color="#13d6ce"/></linearGradient>
<linearGradient id="g168"><stop offset="0" stop-color="#fd7a04"/><stop offset="0.0179" stop-color="#fd8502"/><stop offset="0.0357" stop-color="#fc8e01"/><stop offset="0.0536" stop-color="#fc9300"/><stop offset="0.0714" stop-color="#fb9600"/><stop offset="0.0952" stop-color="#f99b00"/><stop offset="0.119" stop-color="#f5a700"/><stop offset="0.1488" stop-color="#f0b100"/><stop offset="0.1786" stop-color="#ecb800"/><stop offset="0.2143" stop-color="#e6c200"/><stop offset="0.256" stop-color="#ddce00"/><stop offset="0.3036" stop-color="#cbda05"/><stop offset="0.3571" stop-color="#b9e40d"/><stop offset="0.4167" stop-color="#9fed1b"/><stop offset="0.4881" stop-color="#7cf634"/><stop offset="0.5595" stop-color="#58f857"/><stop offset="0.631" stop-color="#39f388"/><stop offset="0.7024" stop-color="#24eca8"/><stop offset="0.7738" stop-color="#1ae5b9"/><stop offset="0.8452" stop-color="#17dec3"/><stop offset="0.9167" stop-color="#15dac9"/><stop offset="1" stop-color="#14d8cc"/></linearGradient>
<linearGradient id="g169"><stop offset="0" stop-color="#f73f0c"/><stop offset="0.0179" stop-color="#f8430c"/><stop offset="0.0357" stop-color="#f9470b"/><stop offset="0.0536" stop-color="#fc500a"/><stop offset="0.0714" stop-color="#ff5d08"/><stop offset="0.0952" stop-color="#fe7005"/><stop offset="0.119" stop-color="#fd8602"/><stop offset="0.1488" stop-color="#fa9a00"/><stop offset="0.1786" stop-color="#f5a500"/><stop offset="0.2143" stop-color="#eeb300"/><stop offset="0.256" stop-color="#e2c800"/><stop offset="0.3036" stop-color="#d1d603"/><stop offset="0.3571" stop-color="#c0e109"/><stop offset="0.4167" stop-color="#a8ea16"/><stop offset="0.4881" stop-color="#86f42d"/><stop offset="0.5595" stop-color="#62f84e"/><stop offset="0.631" stop-color="#41f47b"/><stop offset="0.7024" stop-color="#26eda5"/><stop offset="0.7738" stop-color="#1be6b7"/><stop offset="0.8452" stop-color="#17dfc2"/><stop offset="0.9167" stop-color="#15dac9"/><stop offset="1" stop-color="#13d5cf"/></linearGradient>
<linearGradient id="g170"><stop offset="0" stop-color="#e61422"/><stop offset="0.0179" stop-color="#e61422"/><stop offset="0.0357" stop-color="#e71521"/><stop offset="0.0536" stop-color="#ea1a1b"/><stop offset="0.0714" stop-color="#f02510"/><stop offset="0.0952" stop-color="#f8410c"/><stop offset="0.119" stop-color="#ff5d08"/><stop offset="0.1488" stop-color="#fd7b04"/><stop offset="0.1786" stop-color="#fc8e01"/><stop offset="0.2143" stop-color="#f4a900"/><stop offset="0.256" stop-color="#e5c300"/><stop offset="0.3036" stop-color="#d6d402"/><stop offset="0.3571" stop-color="#c4de07"/><stop offset="0.4167" stop-color="#afe812"/><stop offset="0.4881" stop-color="#8ef126"/><stop offset="0.5595" stop-color="#6af845"/><stop offset="0.631" stop-color="#47f570"/><stop offset="0.7024" stop-color="#28eea1"/><stop offset="0.7738" stop-color="#1be7b6"/><stop offset="0.8452" stop-color="#17dfc2"/><stop offset="0.9167" stop-color="#15d9ca"/><stop offset="1" stop-color="#11d1d3"/></linearGradient>
<linearGradient id="g171"><stop offset="0" stop-color="#d90438"/><stop offset="0.0179" stop-color="#d8033a"/><stop offset="0.0357" stop-color="#d8033a"/><stop offset="0.0536" stop-color="#dc0434"/><stop offset="0.0714" stop-color="#e30f28"/><stop offset="0.0952" stop-color="#ef2213"/><stop offset="0.119" stop-color="#f73f0c"/><stop offset="0.1488" stop-color="#fe6706"/><stop offset="0.1786" stop-color="#fd8a01"/><stop offset="0.2143" stop-color="#f3a900"/><stop offset="0.256" stop-color="#e6c300"/><stop offset="0.3036" stop-color="#d8d201"/><stop offset="0.3571" stop-color="#c7dd06"/><stop offset="0.4167" stop-color="#b3e610"/><stop offset="0.4881" stop-color="#94f022"/><stop offset="0.5595" stop-color="#6ff83f"/><stop offset="0.631" stop-color="#4af66b"/><stop offset="0.7024" stop-color="#2aef9f"/><stop offset="0.7738" stop-color="#1ce7b5"/><stop offset="0.8452" stop-color="#17dec3"/><stop offset="0.9167" stop-color="#14d8cc"/><stop offset="1" stop-color="#0fced6"/></linearGradient>
<linearGradient id="g172"><stop offset="0" stop-color="#cf0249"/><stop offset="0.0179" stop-color="#ce024a"/><stop offset="0.0357" stop-color="#ce0249"/><stop offset="0.0536" stop-color="#d10245"/><stop offset="0.0714" stop-color="#da0438"/><stop offset="0.0952" stop-color="#e61422"/><stop offset="0.119" stop-color="#f22b0f"/><stop offset="0.1488" stop-color="#ff5c08"/><stop offset="0.1786" stop-color="#fc8c01"/><stop offset="0.2143" stop-color="#f1ae00"/><stop offset="0.256" stop-color="#e5c400"/><stop offset="0.3036" stop-color="#d9d201"/><stop offset="0.3571" stop-color="#c9dc06"/><stop offset="0.4167" stop-color="#b7e50e"/><stop offset="0.4881" stop-color="#99ee1f"/><stop offset="0.5595" stop-color="#74f83a"/><stop offset="0.631" stop-color="#4ef766"/><stop offset="0.7024" stop-color="#2bf09d"/><stop offset="0.7738" stop-color="#1ce7b5"/><stop offset="0.8452" stop-color="#17dec3"/><stop offset="0.9167" stop-color="#13d6ce"/><stop offset="1" stop-color="#0dcada"/></linearGradient>
<linearGradient id="g173"><stop offset="0" stop-color="#ca0150"/><stop offset="0.0179" stop-color="#cb024f"/><stop offset="0.0357" stop-color="#cc024c"/><stop offset="0.0536" stop-color="#d00247"/><stop offset="0.0714" stop-color="#d8033b"/><stop offset="0.0952" stop-color="#e41026"/><stop offset="0.119" stop-color="#f02610"/><stop offset="0.1488" stop-color="#ff5b08"/><stop offset="0.1786" stop-color="#fc8f01"/><stop offset="0.2143" stop-color="#f0b100"/><stop offset="0.256" stop-color="#e5c400"/><stop offset="0.3036" stop-color="#dad101"/><stop offset="0.3571" stop-color="#cada05"/><stop offset="0.4167" stop-color="#b9e30c"/><stop offset="0.4881" stop-color="#9ded1d"/><stop offset="0.5595" stop-color="#78f737"/><stop offset="0.631" stop-color="#52f85f"/><stop offset="0.7024" stop-color="#2df09a"/><stop offset="0.7738" stop-color="#1ce8b5"/><stop offset="0.8452" stop-color="#17dec3"/><stop offset="0.9167" stop-color="#12d5cf"/><stop offset="1" stop-color="#0cc7dd"/></linearGradient>
<linearGradient id="g174"><stop offset="0" stop-color="#c80153"/><stop offset="0.0179" stop-color="#ca0150"/><stop offset="0.0357" stop-color="#cd024c"/><stop offset="0.0536" stop-color="#d10245"/><stop offset="0.0714" stop-color="#d90439"/><stop offset="0.0952" stop-color="#e41126"/><stop offset="0.119" stop-color="#f12710"/><stop offset="0.1488" stop-color="#ff5d08"/><stop offset="0.1786" stop-color="#fc9300"/><stop offset="0.2143" stop-color="#efb200"/><stop offset="0.256" stop-color="#e5c500"/><stop offset="0.3036" stop-color="#dbd100"/><stop offset="0.3571" stop-color="#ccd905"/><stop offset="0.4167" stop-color="#bce20b"/><stop offset="0.4881" stop-color="#a0ec1a"/><stop offset="0.5595" stop-color="#7df633"/><stop offset="0.631" stop-color="#58f858"/><stop offset="0.7024" stop-color="#30f195"/><stop offset="0.7738" stop-color="#1ce8b4"/><stop offset="0.8452" stop-color="#17dec4"/><stop offset="0.9167" stop-color="#12d3d1"/><stop offset="1" stop-color="#0bc5de"/></linearGradient>
<linearGradient id="g175"><stop offset="0" stop-color="#c70156"/><stop offset="0.0179" stop-color="#ca0151"/><stop offset="0.0357" stop-color="#ce024b"/><stop offset="0.0536" stop-color="#d30342"/><stop offset="0.0714" stop-color="#db0436"/><stop offset="0.0952" stop-color="#e51323"/><stop offset="0.119" stop-color="#f22a0f"/><stop offset="0.1488" stop-color="#ff6007"/><stop offset="0.1786" stop-color="#fc9300"/><stop offset="0.2143" stop-color="#efb200"/><stop offset="0.256" stop-color="#e5c400"/><stop offset="0.3036" stop-color="#dcd000"/><stop offset="0.3571" stop-color="#cdd804"/><stop offset="0.4167" stop-color="#bfe10a"/><stop offset="0.4881" stop-color="#a4eb18"/><stop offset="0.5595" stop-color="#81f530"/><stop offset="0.631" stop-color="#5df853"/><stop offset="0.7024" stop-color="#33f191"/><stop offset="0.7738" stop-color="#1de8b3"/><stop offset="0.8452" stop-color="#17dec4"/><stop offset="0.9167" stop-color="#11d2d2"/><stop offset="1" stop-color="#0ac3e0"/></linearGradient>
<linearGradient id="g176"><stop offset="0" stop-color="#c60157"/><stop offset="0.0179" stop-color="#c90151"/><stop offset="0.0357" stop-color="#ce0249"/><stop offset="0.0536" stop-color="#d50340"/><stop offset="0.0714" stop-color="#dd0533"/><stop offset="0.0952" stop-color="#e71521"/><stop offset="0.119" stop-color="#f32d0f"/><stop offset="0.1488" stop-color="#ff5f08"/><stop offset="0.1786" stop-color="#fc8e01"/><stop offset="0.2143" stop-color="#f0b000"/><stop offset="0.256" stop-color="#e6c300"/><stop offset="0.3036" stop-color="#ddcf00"/><stop offset="0.3571" stop-color="#cfd704"/><stop offset="0.4167" stop-color="#c2e008"/><stop offset="0.4881" stop-color="#a7ea16"/><stop offset="0.5595" stop-color="#86f42d"/><stop offset="0.631" stop-color="#60f84f"/><stop offset="0.7024" stop-color="#35f28d"/><stop offset="0.7738" stop-color="#1de9b2"/><stop offset="0.8452" stop-color="#17dec3"/><stop offset="0.9167" stop-color="#11d2d2"/><stop offset="1" stop-color="#0ac1e1"/></linearGradient>
<linearGradient id="g177"><stop offset="0" stop-color="#0650f2"/><stop offset="0.0169" stop-color="#073fef"/><stop offset="0.0337" stop-color="#082eeb"/><stop offset="0.0506" stop-color="#081de7"/><stop offset="0.0674" stop-color="#0910e4"/><stop offset="0.0899" stop-color="#140be0"/><stop offset="0.1124" stop-color="#1b09de"/><stop offset="0.1404" stop-color="#1f07dd"/><stop offset="0.1685" stop-color="#1f07dd"/><stop offset="0.2022" stop-color="#1d08de"/><stop offset="0.2416" stop-color="#1909df"/><stop offset="0.2865" stop-color="#140be0"/><stop offset="0.3371" stop-color="#110de1"/><stop offset="0.3933" stop-color="#120ce1"/><stop offset="0.4607" stop-color="#1809df"/><stop offset="0.5281" stop-color="#1f07dd"/><stop offset="0.5955" stop-color="#2305dc"/><stop offset="0.6629" stop-color="#2704db"/><stop offset="0.7303" stop-color="#2b02d9"/><stop offset="0.7978" stop-color="#2f00d8"/><stop offset="0.8652" stop-color="#3100d8"/><stop offset="1" stop-color="#3000d8"/></linearGradient>
<linearGradient id="g178"><stop offset="0" stop-color="#066ef4"/><stop offset="0.0169" stop-color="#065ff3"/><stop offset="0.0337" stop-color="#064ff2"/><stop offset="0.0506" stop-color="#0741ef"/><stop offset="0.0674" stop-color="#0734ec"/><stop offset="0.0899" stop-color="#0828ea"/><stop offset="0.1124" stop-color="#081fe8"/><stop offset="0.1404" stop-color="#081ee8"/><stop offset="0.1685" stop-color="#0821e8"/><stop offset="0.2022" stop-color="#0821e8"/><stop offset="0.2416" stop-color="#0822e8"/><stop offset="0.2865" stop-color="#0826e9"/><stop offset="0.3371" stop-color="#0828ea"/><stop offset="0.3933" stop-color="#0824e9"/><stop offset="0.4607" stop-color="#081ee8"/><stop offset="0.5281" stop-color="#081de7"/><stop offset="0.5955" stop-color="#081ae7"/><stop offset="0.6629" stop-color="#0816e5"/><stop offset="0.7303" stop-color="#0a0fe3"/><stop offset="0.7978" stop-color="#0f0de2"/><stop offset="0.8652" stop-color="#140be0"/><stop offset="1" stop-color="#140be0"/></linearGradient>
<linearGradient id="g179"><stop offset="0" stop-color="#057cf4"/><stop offset="0.0169" stop-color="#0672f4"/><stop offset="0.0337" stop-color="#0668f3"/><stop offset="0.0506" stop-color="#065ef3"/><stop offset="0.0674" stop-color="#0656f2"/><stop offset="0.0899" stop-color="#064cf1"/><stop offset="0.1124" stop-color="#0746f0"/><stop offset="0.1404" stop-color="#0741ef"/><stop offset="0.1685" stop-color="#073fef"/><stop offset="0.2022" stop-color="#073bee"/><stop offset="0.2416" stop-color="#0738ed"/><stop offset="0.2865" stop-color="#0735ed"/><stop offset="0.3371" stop-color="#0831ec"/><stop offset="0.3933" stop-color="#082feb"/><stop offset="0.4607" stop-color="#0830ec"/><stop offset="0.5281" stop-color="#082feb"/><stop offset="0.5955" stop-color="#082beb"/><stop offset="0.6629" stop-color="#0829ea"/><stop offset="0.7303" stop-color="#0825e9"/><stop offset="0.7978" stop-color="#0821e8"/><stop offset="0.8652" stop-color="#081ae7"/><stop offset="1" stop-color="#0818e6"/></linearGradient>
<linearGradient id="g180"><stop offset="0" stop-color="#048df4"/><stop offset="0.0169" stop-color="#0588f4"/><stop offset="0.0337" stop-color="#0583f4"/><stop offset="0.0506" stop-color="#057ef4"/><stop offset="0.0674" stop-color="#057af4"/><stop offset="0.0899" stop-color="#0674f4"/><stop offset="0.1124" stop-color="#066ef4"/><stop offset="0.1404" stop-color="#0669f4"/><stop offset="0.1685" stop-color="#0665f3"/><stop offset="0.2022" stop-color="#0662f3"/><stop offset="0.2416" stop-color="#0660f3"/><stop offset="0.2865" stop-color="#065ef3"/><stop offset="0.3371" stop-color="#065af3"/><stop offset="0.3933" stop-color="#0654f2"/><stop offset="0.4607" stop-color="#064ff2"/><stop offset="0.5281" stop-color="#0649f1"/><stop offset="0.5955" stop-color="#0744f0"/><stop offset="0.6629" stop-color="#0741ef"/><stop offset="0.7303" stop-color="#073fef"/><stop offset="0.7978" stop-color="#073dee"/><stop offset="0.8652" stop-color="#0738ed"/><stop offset="1" stop-color="#0739ed"/></linearGradient>
<linearGradient id="g181"><stop offset="0" stop-color="#0493f3"/><stop offset="0.0169" stop-color="#0491f4"/><stop offset="0.0337" stop-color="#0491f4"/><stop offset="0.0506" stop-color="#0491f4"/><stop offset="0.0674" stop-color="#0490f4"/><stop offset="0.0899" stop-color="#048df4"/><stop offset="0.1124" stop-color="#0489f4"/><stop offset="0.1404" stop-color="#0587f4"/><stop offset="0.1685" stop-color="#0586f4"/><stop offset="0.2022" stop-color="#0586f4"/><stop offset="0.2416" stop-color="#0587f4"/><stop offset="0.2865" stop-color="#048af4"/><stop offset="0.3371" stop-color="#0584f4"/><stop offset="0.3933" stop-color="#057df4"/><stop offset="0.4607" stop-color="#0677f4"/><stop offset="0.5281" stop-color="#066ef4"/><stop offset="0.5955" stop-color="#0666f3"/><stop offset="0.6629" stop-color="#0661f3"/><stop offset="0.7303" stop-color="#065ff3"/><stop offset="0.7978" stop-color="#065df3"/><stop offset="0.8652" stop-color="#065af3"/><stop offset="1" stop-color="#0663f3"/></linearGradient>
<linearGradient id="g182"><stop offset="0" stop-color="#0596f2"/><stop offset="0.0169" stop-color="#0492f4"/><stop offset="0.0337" stop-color="#0490f4"/><stop offset="0.0506" stop-color="#0491f4"/><stop offset="0.0674" stop-color="#0493f3"/><stop offset="0.0899" stop-color="#0495f3"/><stop offset="0.1124" stop-color="#0597f2"/><stop offset="0.1404" stop-color="#0599f1"/><stop offset="0.1685" stop-color="#059bf1"/><stop offset="0.2022" stop-color="#059cf1"/><stop offset="0.2416" stop-color="#059af1"/><stop offset="0.2865" stop-color="#0494f3"/><stop offset="0.3371" stop-color="#048ff4"/><stop offset="0.3933" stop-color="#0495f3"/><stop offset="0.4607" stop-color="#0597f2"/><stop offset="0.5281" stop-color="#0492f3"/><stop offset="0.5955" stop-color="#048bf4"/><stop offset="0.6629" stop-color="#0585f4"/><stop offset="0.7303" stop-color="#0583f4"/><stop offset="0.7978" stop-color="#057ff4"/><stop offset="0.8652" stop-color="#057af4"/><stop offset="1" stop-color="#057ff4"/></linearGradient>
<linearGradient id="g183"><stop offset="0" stop-color="#08b7e7"/><stop offset="0.0169" stop-color="#07b5e8"/><stop offset="0.0337" stop-color="#07b4e8"/><stop offset="0.0506" stop-color="#07b4e8"/><stop offset="0.0674" stop-color="#07b5e8"/><stop offset="0.0899" stop-color="#08b6e8"/><stop offset="0.1124" stop-color="#08b7e7"/><stop offset="0.1404" stop-color="#08b9e7"/><stop offset="0.1685" stop-color="#08b8e7"/><stop offset="0.2022" stop-color="#08b6e7"/><stop offset="0.2416" stop-color="#07b3e9"/><stop offset="0.2865" stop-color="#07afeb"/><stop offset="0.3371" stop-color="#07aceb"/><stop offset="0.3933" stop-color="#07adeb"/><stop offset="0.4607" stop-color="#07aeeb"/><stop offset="0.5281" stop-color="#06aaec"/><stop offset="0.5955" stop-color="#06a6ee"/><stop offset="0.6629" stop-color="#06a1ef"/><stop offset="0.7303" stop-color="#059df0"/><stop offset="0.7978" stop-color="#0598f2"/><stop offset="0.8652" stop-color="#048ef4"/><stop offset="1" stop-color="#0492f4"/></linearGradient>
<linearGradient id="g184"><stop offset="0" stop-color="#17dec3"/><stop offset="0.0169" stop-color="#17dec3"/><stop offset="0.0337" stop-color="#17dec3"/><stop offset="0.0506" stop-color="#17dfc2"/><stop offset="0.0674" stop-color="#17dfc2"/><stop offset="0.0899" stop-color="#17dfc2"/><stop offset="0.1124" stop-color="#17dfc2"/><stop offset="0.1404" stop-color="#17dec2"/><stop offset="0.1685" stop-color="#17ddc4"/><stop offset="0.2022" stop-color="#16dbc7"/><stop offset="0.2416" stop-color="#14d8cb"/><stop offset="0.2865" stop-color="#14d8cb"/><stop offset="0.3371" stop-color="#14d8cc"/><stop offset="0.3933" stop-color="#10d0d4"/><stop offset="0.4607" stop-color="#0dc9db"/><stop offset="0.5281" stop-color="#0bc4df"/><stop offset="0.5955" stop-color="#09bee3"/><stop offset="0.6629" stop-color="#08b8e7"/><stop offset="0.7303" stop-color="#07b2e9"/><stop offset="0.7978" stop-color="#06aaec"/><stop offset="0.8652" stop-color="#06a1ef"/><stop offset="1" stop-color="#06a9ed"/></linearGradient>
<linearGradient id="g185"><stop offset="0" stop-color="#29efa0"/><stop offset="0.0169" stop-color="#28eea2"/><stop offset="0.0337" stop-color="#29eea1"/><stop offset="0.0506" stop-color="#2aef9f"/><stop offset="0.0674" stop-color="#2bf09d"/><stop offset="0.0899" stop-color="#2cf09c"/><stop offset="0.1124" stop-color="#2cf09c"/><stop offset="0.1404" stop-color="#2bef9e"/><stop offset="0.1685" stop-color="#2aef9f"/><stop offset="0.2022" stop-color="#2aef9f"/><stop offset="0.2416" stop-color="#29eea1"/><stop offset="0.2865" stop-color="#25eda6"/><stop offset="0.3371" stop-color="#21ebac"/><stop offset="0.3933" stop-color="#1ce8b4"/><stop offset="0.4607" stop-color="#19e3bc"/><stop offset="0.5281" stop-color="#17dec3"/><stop offset="0.5955" stop-color="#15d9ca"/><stop offset="0.6629" stop-color="#11d2d2"/><stop offset="0.7303" stop-color="#0dc9db"/><stop offset="0.7978" stop-color="#0ac1e1"/><stop offset="0.8652" stop-color="#08bae6"/><stop offset="1" stop-color="#0ac0e2"/></linearGradient>
<linearGradient id="g186"><stop offset="0" stop-color="#56f85a"/><stop offset="0.0169" stop-color="#4df766"/><stop offset="0.0337" stop-color="#4cf668"/><stop offset="0.0506" stop-color="#52f85f"/><stop offset="0.0674" stop-color="#5cf854"/><stop offset="0.0899" stop-color="#65f84a"/><stop offset="0.1124" stop-color="#67f848"/><stop offset="0.1404" stop-color="#64f84b"/><stop offset="0.1685" stop-color="#5cf853"/><stop offset="0.2022" stop-color="#5cf854"/><stop offset="0.2416" stop-color="#60f84f"/><stop offset="0.2865" stop-color="#50f763"/><stop offset="0.3371" stop-color="#48f66f"/><stop offset="0.3933" stop-color="#3bf383"/><stop offset="0.4607" stop-color="#2aefa0"/><stop offset="0.5281" stop-color="#22ebab"/><stop offset="0.5955" stop-color="#1ce7b5"/><stop offset="0.6629" stop-color="#19e2be"/><stop offset="0.7303" stop-color="#16ddc5"/><stop offset="0.7978" stop-color="#14d8cb"/><stop offset="0.8652" stop-color="#10d0d4"/><stop offset="1" stop-color="#0ecdd7"/></linearGradient>
<linearGradient id="g187"><stop offset="0" stop-color="#abe914"/><stop offset="0.0169" stop-color="#92f023"/><stop offset="0.0337" stop-color="#84f42e"/><stop offset="0.0506" stop-color="#8af229"/><stop offset="0.0674" stop-color="#9aee1e"/><stop offset="0.0899" stop-color="#aae914"/><stop offset="0.1124" stop-color="#afe711"/><stop offset="0.1404" stop-color="#ade813"/><stop offset="0.1685" stop-color="#a7ea17"/><stop offset="0.2022" stop-color="#a0ec1b"/><stop offset="0.2416" stop-color="#9aee1e"/><stop offset="0.2865" stop-color="#8ff126"/><stop offset="0.3371" stop-color="#82f42f"/><stop offset="0.3933" stop-color="#6ff83f"/><stop offset="0.4607" stop-color="#53f85d"/><stop offset="0.5281" stop-color="#3ef47f"/><stop offset="0.5955" stop-color="#2bf09d"/><stop offset="0.6629" stop-color="#23ebaa"/><stop offset="0.7303" stop-color="#1ce7b5"/><stop offset="0.7978" stop-color="#19e3bc"/><stop offset="0.8652" stop-color="#17dec3"/><stop offset="1" stop-color="#15d9ca"/></linearGradient>
<linearGradient id="g188"><stop offset="0" stop-color="#f7a100"/><stop offset="0.0169" stop-color="#f0b000"/><stop offset="0.0337" stop-color="#e8c000"/><stop offset="0.0506" stop-color="#dfcc00"/><stop offset="0.0674" stop-color="#dad101"/><stop offset="0.0899" stop-color="#d6d302"/><stop offset="0.1124" stop-color="#d3d503"/><stop offset="0.1404" stop-color="#d0d704"/><stop offset="0.1685" stop-color="#cdd904"/><stop offset="0.2022" stop-color="#c9db06"/><stop offset="0.2416" stop-color="#c5de07"/><stop offset="0.2865" stop-color="#bce30b"/><stop offset="0.3371" stop-color="#b1e711"/><stop offset="0.3933" stop-color="#9fed1b"/><stop offset="0.4607" stop-color="#82f42f"/><stop offset="0.5281" stop-color="#65f84a"/><stop offset="0.5955" stop-color="#4df767"/><stop offset="0.6629" stop-color="#35f28e"/><stop offset="0.7303" stop-color="#27eea3"/><stop offset="0.7978" stop-color="#20eaae"/><stop offset="0.8652" stop-color="#1be6b6"/><stop offset="1" stop-color="#19e2be"/></linearGradient>
<linearGradient id="g189"><stop offset="0" stop-color="#ef2213"/><stop offset="0.0169" stop-color="#f3300e"/><stop offset="0.0337" stop-color="#fd5609"/><stop offset="0.0506" stop-color="#fb9500"/><stop offset="0.0674" stop-color="#edb600"/><stop offset="0.0899" stop-color="#e3c600"/><stop offset="0.1124" stop-color="#e0ca00"/><stop offset="0.1404" stop-color="#e0cb00"/><stop offset="0.1685" stop-color="#e1ca00"/><stop offset="0.2022" stop-color="#dfcc00"/><stop offset="0.2416" stop-color="#dbd100"/><stop offset="0.2865" stop-color="#d0d703"/><stop offset="0.3371" stop-color="#c8dc06"/><stop offset="0.3933" stop-color="#bbe30b"/><stop offset="0.4607" stop-color="#a5eb18"/><stop offset="0.5281" stop-color="#88f32b"/><stop offset="0.5955" stop-color="#6af844"/><stop offset="0.6629" stop-color="#4df767"/><stop offset="0.7303" stop-color="#39f388"/><stop offset="0.7978" stop-color="#2aef9f"/><stop offset="0.8652" stop-color="#24eca7"/><stop offset="1" stop-color="#1feaaf"/></linearGradient>
<linearGradient id="g190"><stop offset="0" stop-color="#db0435"/><stop offset="0.0169" stop-color="#e20e29"/><stop offset="0.0337" stop-color="#ee2114"/><stop offset="0.0506" stop-color="#fd5509"/><stop offset="0.0674" stop-color="#fc8f01"/><stop offset="0.0899" stop-color="#f5a700"/><stop offset="0.1124" stop-color="#efb200"/><stop offset="0.1404" stop-color="#edb600"/><stop offset="0.1685" stop-color="#eeb300"/><stop offset="0.2022" stop-color="#edb700"/><stop offset="0.2416" stop-color="#e6c300"/><stop offset="0.2865" stop-color="#dece00"/><stop offset="0.3371" stop-color="#d4d502"/><stop offset="0.3933" stop-color="#c9db06"/><stop offset="0.4607" stop-color="#b9e40d"/><stop offset="0.5281" stop-color="#9fed1b"/><stop offset="0.5955" stop-color="#81f530"/><stop offset="0.6629" stop-color="#63f84c"/><stop offset="0.7303" stop-color="#4df768"/><stop offset="0.7978" stop-color="#3bf384"/><stop offset="0.8652" stop-color="#30f196"/><stop offset="1" stop-color="#2aefa0"/></linearGradient>
<linearGradient id="g191"><stop offset="0" stop-color="#d10245"/><stop offset="0.0169" stop-color="#da0437"/><stop offset="0.0337" stop-color="#e51224"/><stop offset="0.0506" stop-color="#f12710"/><stop offset="0.0674" stop-color="#f9470b"/><stop offset="0.0899" stop-color="#ff6507"/><stop offset="0.1124" stop-color="#fd8103"/><stop offset="0.1404" stop-color="#fc9001"/><stop offset="0.1685" stop-color="#fc9300"/><stop offset="0.2022" stop-color="#f7a000"/><stop offset="0.2416" stop-color="#ecb700"/><stop offset="0.2865" stop-color="#e4c600"/><stop offset="0.3371" stop-color="#dcd000"/><stop offset="0.3933" stop-color="#d1d603"/><stop offset="0.4607" stop-color="#c4df07"/><stop offset="0.5281" stop-color="#aee812"/><stop offset="0.5955" stop-color="#93f023"/><stop offset="0.6629" stop-color="#76f839"/><stop offset="0.7303" stop-color="#5ef852"/><stop offset="0.7978" stop-color="#4cf66a"/><stop offset="0.8652" stop-color="#41f47a"/><stop offset="1" stop-color="#3bf384"/></linearGradient>
<linearGradient id="g192"><stop offset="0" stop-color="#ca0150"/><stop offset="0.0169" stop-color="#d00246"/><stop offset="0.0337" stop-color="#d8033a"/><stop offset="0.0506" stop-color="#df092e"/><stop offset="0.0674" stop-color="#e51324"/><stop offset="0.0899" stop-color="#ed1f16"/><stop offset="0.1124" stop-color="#f6390d"/><stop offset="0.1404" stop-color="#fe5809"/><stop offset="0.1685" stop-color="#fe6f05"/><stop offset="0.2022" stop-color="#fc8f01"/><stop offset="0.2416" stop-color="#f2ac00"/><stop offset="0.2865" stop-color="#e8c000"/><stop offset="0.3371" stop-color="#e1ca00"/><stop offset="0.3933" stop-color="#d9d201"/><stop offset="0.4607" stop-color="#cadb05"/><stop offset="0.5281" stop-color="#b9e40d"/><stop offset="0.5955" stop-color="#a0ec1b"/><stop offset="0.6629" stop-color="#87f32c"/><stop offset="0.7303" stop-color="#70f83f"/><stop offset="0.7978" stop-color="#5df853"/><stop offset="0.8652" stop-color="#53f85e"/><stop offset="1" stop-color="#4ef766"/></linearGradient>
<linearGradient id="g193"><stop offset="0" stop-color="#c70155"/><stop offset="0.0169" stop-color="#cb024f"/><stop offset="0.0337" stop-color="#cf0248"/><stop offset="0.0506" stop-color="#d30342"/><stop offset="0.0674" stop-color="#d7033c"/><stop offset="0.0899" stop-color="#de0730"/><stop offset="0.1124" stop-color="#e8171f"/><stop offset="0.1404" stop-color="#f4330e"/><stop offset="0.1685" stop-color="#fd5509"/><stop offset="0.2022" stop-color="#fd7f03"/><stop offset="0.2416" stop-color="#f6a300"/><stop offset="0.2865" stop-color="#ecb900"/><stop offset="0.3371" stop-color="#e4c600"/><stop offset="0.3933" stop-color="#ddcf00"/><stop offset="0.4607" stop-color="#cfd804"/><stop offset="0.5281" stop-color="#c0e109"/><stop offset="0.5955" stop-color="#aae915"/><stop offset="0.6629" stop-color="#94f022"/><stop offset="0.7303" stop-color="#7ef633"/><stop offset="0.7978" stop-color="#6bf843"/><stop offset="0.8652" stop-color="#63f84c"/><stop offset="1" stop-color="#5df852"/></linearGradient>
<linearGradient id="g194"><stop offset="0" stop-color="#c60156"/><stop offset="0.0169" stop-color="#c90152"/><stop offset="0.0337" stop-color="#cb024e"/><stop offset="0.0506" stop-color="#cc024d"/><stop offset="0.0674" stop-color="#ce024a"/><stop offset="0.0899" stop-color="#d30342"/><stop offset="0.1124" stop-color="#de0730"/><stop offset="0.1404" stop-color="#ec1d18"/><stop offset="0.1685" stop-color="#f73f0c"/><stop offset="0.2022" stop-color="#fe6d06"/><stop offset="0.2416" stop-color="#fb9800"/><stop offset="0.2865" stop-color="#efb200"/><stop offset="0.3371" stop-color="#e7c200"/><stop offset="0.3933" stop-color="#dfcc00"/><stop offset="0.4607" stop-color="#d3d503"/><stop offset="0.5281" stop-color="#c4df07"/><stop offset="0.5955" stop-color="#b2e610"/><stop offset="0.6629" stop-color="#9eed1c"/><stop offset="0.7303" stop-color="#8bf228"/><stop offset="0.7978" stop-color="#7af635"/><stop offset="0.8652" stop-color="#72f83c"/><stop offset="1" stop-color="#6cf842"/></linearGradient>
<linearGradient id="g195"><stop offset="0" stop-color="#c70155"/><stop offset="0.0169" stop-color="#ca0151"/><stop offset="0.0337" stop-color="#cb024f"/><stop offset="0.0506" stop-color="#cb024f"/><stop offset="0.0674" stop-color="#cb024e"/><stop offset="0.0899" stop-color="#cf0248"/><stop offset="0.1124" stop-color="#da0438"/><stop offset="0.1404" stop-color="#e71620"/><stop offset="0.1685" stop-color="#f4330e"/><stop offset="0.2022" stop-color="#ff6107"/><stop offset="0.2416" stop-color="#fc8f01"/><stop offset="0.2865" stop-color="#f2ad00"/><stop offset="0.3371" stop-color="#e9be00"/><stop offset="0.3933" stop-color="#e1c900"/><stop offset="0.4607" stop-color="#d6d302"/><stop offset="0.5281" stop-color="#c7dd06"/><stop offset="0.5955" stop-color="#b7e40d"/><stop offset="0.6629" stop-color="#a6ea17"/><stop offset="0.7303" stop-color="#95f021"/><stop offset="0.7978" stop-color="#86f42d"/><stop offset="0.8652" stop-color="#7ef633"/><stop offset="1" stop-color="#76f738"/></linearGradient>
<linearGradient id="g196"><stop offset="0" stop-color="#c70155"/><stop offset="0.0169" stop-color="#ca0150"/><stop offset="0.0337" stop-color="#cb024e"/><stop offset="0.0506" stop-color="#cb024f"/><stop offset="0.0674" stop-color="#cb024f"/><stop offset="0.0899" stop-color="#cf0249"/><stop offset="0.1124" stop-color="#d7033b"/><stop offset="0.1404" stop-color="#e41125"/><stop offset="0.1685" stop-color="#f1290f"/><stop offset="0.2022" stop-color="#fe5609"/><stop offset="0.2416" stop-color="#fd8502"/><stop offset="0.2865" stop-color="#f4a700"/><stop offset="0.3371" stop-color="#ebb900"/><stop offset="0.3933" stop-color="#e3c600"/><stop offset="0.4607" stop-color="#d9d201"/><stop offset="0.5281" stop-color="#c9db06"/><stop offset="0.5955" stop-color="#bce20b"/><stop offset="0.6629" stop-color="#aee812"/><stop offset="0.7303" stop-color="#9eed1c"/><stop offset="0.7978" stop-color="#91f124"/><stop offset="0.8652" stop-color="#89f32a"/><stop offset="1" stop-color="#80f531"/></linearGradient>
<linearGradient id="g197"><stop offset="0" stop-color="#c70155"/><stop offset="0.0169" stop-color="#ca0151"/><stop offset="0.0337" stop-color="#cb024f"/><stop offset="0.0506" stop-color="#cb024f"/><stop offset="0.0674" stop-color="#cb024e"/><stop offset="0.0899" stop-color="#cf0249"/><stop offset="0.1124" stop-color="#d7033c"/><stop offset="0.1404" stop-color="#e30e28"/><stop offset="0.1685" stop-color="#ef2312"/><stop offset="0.2022" stop-color="#fb4d0a"/><stop offset="0.2416" stop-color="#fd7b04"/><stop offset="0.2865" stop-color="#f89f00"/><stop offset="0.3371" stop-color="#eeb400"/><stop offset="0.3933" stop-color="#e5c300"/><stop offset="0.4607" stop-color="#dcd000"/><stop offset="0.5281" stop-color="#ccd905"/><stop offset="0.5955" stop-color="#c2e008"/><stop offset="0.6629" stop-color="#b4e60f"/><stop offset="0.7303" stop-color="#a6ea17"/><stop offset="0.7978" stop-color="#9bee1e"/><stop offset="0.8652" stop-color="#94f022"/><stop offset="1" stop-color="#8af229"/></linearGradient>
<linearGradient id="g198"><stop offset="0" stop-color="#c60157"/><stop offset="0.0169" stop-color="#c80153"/><stop offset="0.0337" stop-color="#ca0151"/><stop offset="0.0506" stop-color="#ca0150"/><stop offset="0.0674" stop-color="#cc024e"/><stop offset="0.0899" stop-color="#d00248"/><stop offset="0.1124" stop-color="#d7033d"/><stop offset="0.1404" stop-color="#e10d2a"/><stop offset="0.1685" stop-color="#ed1f15"/><stop offset="0.2022" stop-color="#f9450b"/><stop offset="0.2416" stop-color="#fe7105"/><stop offset="0.2865" stop-color="#fb9700"/><stop offset="0.3371" stop-color="#f1af00"/><stop offset="0.3933" stop-color="#e8c000"/><stop offset="0.4607" stop-color="#decd00"/><stop offset="0.5281" stop-color="#cfd704"/><stop offset="0.5955" stop-color="#c5de07"/><stop offset="0.6629" stop-color="#bae30c"/><stop offset="0.7303" stop-color="#afe812"/><stop offset="0.7978" stop-color="#a4eb18"/><stop offset="0.8652" stop-color="#9ded1c"/><stop offset="1" stop-color="#94f022"/></linearGradient>
<linearGradient id="cb" gradientUnits="userSpaceOnUse" x1="0" y1="136" x2="0" y2="352.4"><stop offset="0.0000" stop-color="#c00060"/><stop offset="0.0625" stop-color="#dc0434"/><stop offset="0.1250" stop-color="#f02410"/><stop offset="0.1875" stop-color="#ff5c08"/><stop offset="0.2500" stop-color="#fc9400"/><stop offset="0.2750" stop-color="#f4a800"/><stop offset="0.3125" stop-color="#e8c000"/><stop offset="0.3500" stop-color="#dcd000"/><stop offset="0.3750" stop-color="#ced804"/><stop offset="0.4000" stop-color="#c2e008"/><stop offset="0.4250" stop-color="#aee812"/><stop offset="0.4500" stop-color="#94f022"/><stop offset="0.4750" stop-color="#74f83a"/><stop offset="0.5000" stop-color="#54f85c"/><stop offset="0.5375" stop-color="#2cf09c"/><stop offset="0.5750" stop-color="#1ce8b4"/><stop offset="0.6000" stop-color="#18e0c0"/><stop offset="0.6250" stop-color="#14d8cc"/><stop offset="0.6500" stop-color="#0cc8dc"/><stop offset="0.6750" stop-color="#08bae6"/><stop offset="0.7125" stop-color="#06a6ee"/><stop offset="0.7500" stop-color="#0490f4"/><stop offset="0.7875" stop-color="#0670f4"/><stop offset="0.8250" stop-color="#0650f2"/><stop offset="0.8750" stop-color="#0828ea"/><stop offset="0.9000" stop-color="#0810e4"/><stop offset="0.9500" stop-color="#3000d8"/><stop offset="1.0000" stop-color="#5800c8"/></linearGradient>
</defs>
<rect width="685" height="576" fill="#fff"/>
<g shape-rendering="crispEdges">
<rect x="75" y="0" width="168" height="15" fill="url(#g1)"/>
<rect x="75" y="0" width="168" height="15" fill="url(#g2)" mask="url(#vm)"/>
<rect x="75" y="15" width="168" height="12" fill="url(#g2)"/>
<rect x="75" y="15" width="168" height="12" fill="url(#g3)" mask="url(#vm)"/>
<rect x="75" y="27" width="168" height="12" fill="url(#g3)"/>
<rect x="75" y="27" width="168" height="12" fill="url(#g4)" mask="url(#vm)"/>
<rect x="75" y="39" width="168" height="12" fill="url(#g4)"/>
<rect x="75" y="39" width="168" height="12" fill="url(#g5)" mask="url(#vm)"/>
<rect x="75" y="51" width="168" height="12" fill="url(#g5)"/>
<rect x="75" y="51" width="168" height="12" fill="url(#g6)" mask="url(#vm)"/>
<rect x="75" y="63" width="168" height="12" fill="url(#g6)"/>
<rect x="75" y="63" width="168" height="12" fill="url(#g7)" mask="url(#vm)"/>
<rect x="75" y="75" width="168" height="12" fill="url(#g7)"/>
<rect x="75" y="75" width="168" height="12" fill="url(#g8)" mask="url(#vm)"/>
<rect x="75" y="87" width="168" height="12" fill="url(#g8)"/>
<rect x="75" y="87" width="168" height="12" fill="url(#g9)" mask="url(#vm)"/>
<rect x="75" y="99" width="168" height="10" fill="url(#g9)"/>
<rect x="75" y="99" width="168" height="10" fill="url(#g10)" mask="url(#vm)"/>
<rect x="75" y="109" width="168" height="9" fill="url(#g10)"/>
<rect x="75" y="109" width="168" height="9" fill="url(#g11)" mask="url(#vm)"/>
<rect x="75" y="118" width="168" height="8" fill="url(#g11)"/>
<rect x="75" y="118" width="168" height="8" fill="url(#g12)" mask="url(#vm)"/>
<rect x="75" y="126" width="168" height="7" fill="url(#g12)"/>
<rect x="75" y="126" width="168" height="7" fill="url(#g13)" mask="url(#vm)"/>
<rect x="75" y="133" width="168" height="6" fill="url(#g13)"/>
<rect x="75" y="133" width="168" height="6" fill="url(#g14)" mask="url(#vm)"/>
<rect x="75" y="139" width="168" height="5" fill="url(#g14)"/>
<rect x="75" y="139" width="168" height="5" fill="url(#g15)" mask="url(#vm)"/>
<rect x="75" y="144" width="168" height="5" fill="url(#g15)"/>
<rect x="75" y="144" width="168" height="5" fill="url(#g16)" mask="url(#vm)"/>
<rect x="75" y="149" width="168" height="4" fill="url(#g16)"/>
<rect x="75" y="149" width="168" height="4" fill="url(#g17)" mask="url(#vm)"/>
<rect x="75" y="153" width="168" height="4" fill="url(#g17)"/>
<rect x="75" y="153" width="168" height="4" fill="url(#g18)" mask="url(#vm)"/>
<rect x="75" y="157" width="168" height="3" fill="url(#g18)"/>
<rect x="75" y="157" width="168" height="3" fill="url(#g19)" mask="url(#vm)"/>
<rect x="75" y="160" width="168" height="3" fill="url(#g19)"/>
<rect x="75" y="160" width="168" height="3" fill="url(#g20)" mask="url(#vm)"/>
<rect x="75" y="163" width="168" height="3" fill="url(#g20)"/>
<rect x="75" y="163" width="168" height="3" fill="url(#g21)" mask="url(#vm)"/>
<rect x="75" y="166" width="168" height="3" fill="url(#g21)"/>
<rect x="75" y="166" width="168" height="3" fill="url(#g22)" mask="url(#vm)"/>
<rect x="243" y="0" width="169" height="15" fill="url(#g23)"/>
<rect x="243" y="0" width="169" height="15" fill="url(#g24)" mask="url(#vm)"/>
<rect x="243" y="15" width="169" height="12" fill="url(#g24)"/>
<rect x="243" y="15" width="169" height="12" fill="url(#g25)" mask="url(#vm)"/>
<rect x="243" y="27" width="169" height="12" fill="url(#g25)"/>
<rect x="243" y="27" width="169" height="12" fill="url(#g26)" mask="url(#vm)"/>
<rect x="243" y="39" width="169" height="12" fill="url(#g26)"/>
<rect x="243" y="39" width="169" height="12" fill="url(#g27)" mask="url(#vm)"/>
<rect x="243" y="51" width="169" height="12" fill="url(#g27)"/>
<rect x="243" y="51" width="169" height="12" fill="url(#g28)" mask="url(#vm)"/>
<rect x="243" y="63" width="169" height="12" fill="url(#g28)"/>
<rect x="243" y="63" width="169" height="12" fill="url(#g29)" mask="url(#vm)"/>
<rect x="243" y="75" width="169" height="12" fill="url(#g29)"/>
<rect x="243" y="75" width="169" height="12" fill="url(#g30)" mask="url(#vm)"/>
<rect x="243" y="87" width="169" height="12" fill="url(#g30)"/>
<rect x="243" y="87" width="169" height="12" fill="url(#g31)" mask="url(#vm)"/>
<rect x="243" y="99" width="169" height="10" fill="url(#g31)"/>
<rect x="243" y="99" width="169" height="10" fill="url(#g32)" mask="url(#vm)"/>
<rect x="243" y="109" width="169" height="9" fill="url(#g32)"/>
<rect x="243" y="109" width="169" height="9" fill="url(#g33)" mask="url(#vm)"/>
<rect x="243" y="118" width="169" height="8" fill="url(#g33)"/>
<rect x="243" y="118" width="169" height="8" fill="url(#g34)" mask="url(#vm)"/>
<rect x="243" y="126" width="169" height="7" fill="url(#g34)"/>
<rect x="243" y="126" width="169" height="7" fill="url(#g35)" mask="url(#vm)"/>
<rect x="243" y="133" width="169" height="6" fill="url(#g35)"/>
<rect x="243" y="133" width="169" height="6" fill="url(#g36)" mask="url(#vm)"/>
<rect x="243" y="139" width="169" height="5" fill="url(#g36)"/>
<rect x="243" y="139" width="169" height="5" fill="url(#g37)" mask="url(#vm)"/>
<rect x="243" y="144" width="169" height="5" fill="url(#g37)"/>
<rect x="243" y="144" width="169" height="5" fill="url(#g38)" mask="url(#vm)"/>
<rect x="243" y="149" width="169" height="4" fill="url(#g38)"/>
<rect x="243" y="149" width="169" height="4" fill="url(#g39)" mask="url(#vm)"/>
<rect x="243" y="153" width="169" height="4" fill="url(#g39)"/>
<rect x="243" y="153" width="169" height="4" fill="url(#g40)" mask="url(#vm)"/>
<rect x="243" y="157" width="169" height="3" fill="url(#g40)"/>
<rect x="243" y="157" width="169" height="3" fill="url(#g41)" mask="url(#vm)"/>
<rect x="243" y="160" width="169" height="3" fill="url(#g41)"/>
<rect x="243" y="160" width="169" height="3" fill="url(#g42)" mask="url(#vm)"/>
<rect x="243" y="163" width="169" height="3" fill="url(#g42)"/>
<rect x="243" y="163" width="169" height="3" fill="url(#g43)" mask="url(#vm)"/>
<rect x="243" y="166" width="169" height="3" fill="url(#g43)"/>
<rect x="243" y="166" width="169" height="3" fill="url(#g44)" mask="url(#vm)"/>
<rect x="412" y="0" width="170" height="15" fill="url(#g45)"/>
<rect x="412" y="0" width="170" height="15" fill="url(#g46)" mask="url(#vm)"/>
<rect x="412" y="15" width="170" height="12" fill="url(#g46)"/>
<rect x="412" y="15" width="170" height="12" fill="url(#g47)" mask="url(#vm)"/>
<rect x="412" y="27" width="170" height="12" fill="url(#g47)"/>
<rect x="412" y="27" width="170" height="12" fill="url(#g48)" mask="url(#vm)"/>
<rect x="412" y="39" width="170" height="12" fill="url(#g48)"/>
<rect x="412" y="39" width="170" height="12" fill="url(#g49)" mask="url(#vm)"/>
<rect x="412" y="51" width="170" height="12" fill="url(#g49)"/>
<rect x="412" y="51" width="170" height="12" fill="url(#g50)" mask="url(#vm)"/>
<rect x="412" y="63" width="170" height="12" fill="url(#g50)"/>
<rect x="412" y="63" width="170" height="12" fill="url(#g51)" mask="url(#vm)"/>
<rect x="412" y="75" width="170" height="12" fill="url(#g51)"/>
<rect x="412" y="75" width="170" height="12" fill="url(#g52)" mask="url(#vm)"/>
<rect x="412" y="87" width="170" height="12" fill="url(#g52)"/>
<rect x="412" y="87" width="170" height="12" fill="url(#g53)" mask="url(#vm)"/>
<rect x="412" y="99" width="170" height="10" fill="url(#g53)"/>
<rect x="412" y="99" width="170" height="10" fill="url(#g54)" mask="url(#vm)"/>
<rect x="412" y="109" width="170" height="9" fill="url(#g54)"/>
<rect x="412" y="109" width="170" height="9" fill="url(#g55)" mask="url(#vm)"/>
<rect x="412" y="118" width="170" height="8" fill="url(#g55)"/>
<rect x="412" y="118" width="170" height="8" fill="url(#g56)" mask="url(#vm)"/>
<rect x="412" y="126" width="170" height="7" fill="url(#g56)"/>
<rect x="412" y="126" width="170" height="7" fill="url(#g57)" mask="url(#vm)"/>
<rect x="412" y="133" width="170" height="6" fill="url(#g57)"/>
<rect x="412" y="133" width="170" height="6" fill="url(#g58)" mask="url(#vm)"/>
<rect x="412" y="139" width="170" height="5" fill="url(#g58)"/>
<rect x="412" y="139" width="170" height="5" fill="url(#g59)" mask="url(#vm)"/>
<rect x="412" y="144" width="170" height="5" fill="url(#g59)"/>
<rect x="412" y="144" width="170" height="5" fill="url(#g60)" mask="url(#vm)"/>
<rect x="412" y="149" width="170" height="4" fill="url(#g60)"/>
<rect x="412" y="149" width="170" height="4" fill="url(#g61)" mask="url(#vm)"/>
<rect x="412" y="153" width="170" height="4" fill="url(#g61)"/>
<rect x="412" y="153" width="170" height="4" fill="url(#g62)" mask="url(#vm)"/>
<rect x="412" y="157" width="170" height="3" fill="url(#g62)"/>
<rect x="412" y="157" width="170" height="3" fill="url(#g63)" mask="url(#vm)"/>
<rect x="412" y="160" width="170" height="3" fill="url(#g63)"/>
<rect x="412" y="160" width="170" height="3" fill="url(#g64)" mask="url(#vm)"/>
<rect x="412" y="163" width="170" height="3" fill="url(#g64)"/>
<rect x="412" y="163" width="170" height="3" fill="url(#g65)" mask="url(#vm)"/>
<rect x="412" y="166" width="170" height="3" fill="url(#g65)"/>
<rect x="412" y="166" width="170" height="3" fill="url(#g66)" mask="url(#vm)"/>
<rect x="75" y="169" width="168" height="16" fill="url(#g67)"/>
<rect x="75" y="169" width="168" height="16" fill="url(#g68)" mask="url(#vm)"/>
<rect x="75" y="185" width="168" height="12" fill="url(#g68)"/>
<rect x="75" y="185" width="168" height="12" fill="url(#g69)" mask="url(#vm)"/>
<rect x="75" y="197" width="168" height="12" fill="url(#g69)"/>
<rect x="75" y="197" width="168" height="12" fill="url(#g70)" mask="url(#vm)"/>
<rect x="75" y="209" width="168" height="12" fill="url(#g70)"/>
<rect x="75" y="209" width="168" height="12" fill="url(#g71)" mask="url(#vm)"/>
<rect x="75" y="221" width="168" height="12" fill="url(#g71)"/>
<rect x="75" y="221" width="168" height="12" fill="url(#g72)" mask="url(#vm)"/>
<rect x="75" y="233" width="168" height="12" fill="url(#g72)"/>
<rect x="75" y="233" width="168" height="12" fill="url(#g73)" mask="url(#vm)"/>
<rect x="75" y="245" width="168" height="12" fill="url(#g73)"/>
<rect x="75" y="245" width="168" height="12" fill="url(#g74)" mask="url(#vm)"/>
<rect x="75" y="257" width="168" height="12" fill="url(#g74)"/>
<rect x="75" y="257" width="168" height="12" fill="url(#g75)" mask="url(#vm)"/>
<rect x="75" y="269" width="168" height="10" fill="url(#g75)"/>
<rect x="75" y="269" width="168" height="10" fill="url(#g76)" mask="url(#vm)"/>
<rect x="75" y="279" width="168" height="9" fill="url(#g76)"/>
<rect x="75" y="279" width="168" height="9" fill="url(#g77)" mask="url(#vm)"/>
<rect x="75" y="288" width="168" height="8" fill="url(#g77)"/>
<rect x="75" y="288" width="168" height="8" fill="url(#g78)" mask="url(#vm)"/>
<rect x="75" y="296" width="168" height="7" fill="url(#g78)"/>
<rect x="75" y="296" width="168" height="7" fill="url(#g79)" mask="url(#vm)"/>
<rect x="75" y="303" width="168" height="6" fill="url(#g79)"/>
<rect x="75" y="303" width="168" height="6" fill="url(#g80)" mask="url(#vm)"/>
<rect x="75" y="309" width="168" height="5" fill="url(#g80)"/>
<rect x="75" y="309" width="168" height="5" fill="url(#g81)" mask="url(#vm)"/>
<rect x="75" y="314" width="168" height="5" fill="url(#g81)"/>
<rect x="75" y="314" width="168" height="5" fill="url(#g82)" mask="url(#vm)"/>
<rect x="75" y="319" width="168" height="4" fill="url(#g82)"/>
<rect x="75" y="319" width="168" height="4" fill="url(#g83)" mask="url(#vm)"/>
<rect x="75" y="323" width="168" height="4" fill="url(#g83)"/>
<rect x="75" y="323" width="168" height="4" fill="url(#g84)" mask="url(#vm)"/>
<rect x="75" y="327" width="168" height="3" fill="url(#g84)"/>
<rect x="75" y="327" width="168" height="3" fill="url(#g85)" mask="url(#vm)"/>
<rect x="75" y="330" width="168" height="3" fill="url(#g85)"/>
<rect x="75" y="330" width="168" height="3" fill="url(#g86)" mask="url(#vm)"/>
<rect x="75" y="333" width="168" height="3" fill="url(#g86)"/>
<rect x="75" y="333" width="168" height="3" fill="url(#g87)" mask="url(#vm)"/>
<rect x="75" y="336" width="168" height="3" fill="url(#g87)"/>
<rect x="75" y="336" width="168" height="3" fill="url(#g88)" mask="url(#vm)"/>
<rect x="243" y="169" width="169" height="16" fill="url(#g89)"/>
<rect x="243" y="169" width="169" height="16" fill="url(#g90)" mask="url(#vm)"/>
<rect x="243" y="185" width="169" height="12" fill="url(#g90)"/>
<rect x="243" y="185" width="169" height="12" fill="url(#g91)" mask="url(#vm)"/>
<rect x="243" y="197" width="169" height="12" fill="url(#g91)"/>
<rect x="243" y="197" width="169" height="12" fill="url(#g92)" mask="url(#vm)"/>
<rect x="243" y="209" width="169" height="12" fill="url(#g92)"/>
<rect x="243" y="209" width="169" height="12" fill="url(#g93)" mask="url(#vm)"/>
<rect x="243" y="221" width="169" height="12" fill="url(#g93)"/>
<rect x="243" y="221" width="169" height="12" fill="url(#g94)" mask="url(#vm)"/>
<rect x="243" y="233" width="169" height="12" fill="url(#g94)"/>
<rect x="243" y="233" width="169" height="12" fill="url(#g95)" mask="url(#vm)"/>
<rect x="243" y="245" width="169" height="12" fill="url(#g95)"/>
<rect x="243" y="245" width="169" height="12" fill="url(#g96)" mask="url(#vm)"/>
<rect x="243" y="257" width="169" height="12" fill="url(#g96)"/>
<rect x="243" y="257" width="169" height="12" fill="url(#g97)" mask="url(#vm)"/>
<rect x="243" y="269" width="169" height="10" fill="url(#g97)"/>
<rect x="243" y="269" width="169" height="10" fill="url(#g98)" mask="url(#vm)"/>
<rect x="243" y="279" width="169" height="9" fill="url(#g98)"/>
<rect x="243" y="279" width="169" height="9" fill="url(#g99)" mask="url(#vm)"/>
<rect x="243" y="288" width="169" height="8" fill="url(#g99)"/>
<rect x="243" y="288" width="169" height="8" fill="url(#g100)" mask="url(#vm)"/>
<rect x="243" y="296" width="169" height="7" fill="url(#g100)"/>
<rect x="243" y="296" width="169" height="7" fill="url(#g101)" mask="url(#vm)"/>
<rect x="243" y="303" width="169" height="6" fill="url(#g101)"/>
<rect x="243" y="303" width="169" height="6" fill="url(#g102)" mask="url(#vm)"/>
<rect x="243" y="309" width="169" height="5" fill="url(#g102)"/>
<rect x="243" y="309" width="169" height="5" fill="url(#g103)" mask="url(#vm)"/>
<rect x="243" y="314" width="169" height="5" fill="url(#g103)"/>
<rect x="243" y="314" width="169" height="5" fill="url(#g104)" mask="url(#vm)"/>
<rect x="243" y="319" width="169" height="4" fill="url(#g104)"/>
<rect x="243" y="319" width="169" height="4" fill="url(#g105)" mask="url(#vm)"/>
<rect x="243" y="323" width="169" height="4" fill="url(#g105)"/>
<rect x="243" y="323" width="169" height="4" fill="url(#g106)" mask="url(#vm)"/>
<rect x="243" y="327" width="169" height="3" fill="url(#g106)"/>
<rect x="243" y="327" width="169" height="3" fill="url(#g107)" mask="url(#vm)"/>
<rect x="243" y="330" width="169" height="3" fill="url(#g107)"/>
<rect x="243" y="330" width="169" height="3" fill="url(#g108)" mask="url(#vm)"/>
<rect x="243" y="333" width="169" height="3" fill="url(#g108)"/>
<rect x="243" y="333" width="169" height="3" fill="url(#g109)" mask="url(#vm)"/>
<rect x="243" y="336" width="169" height="3" fill="url(#g109)"/>
<rect x="243" y="336" width="169" height="3" fill="url(#g110)" mask="url(#vm)"/>
<rect x="412" y="169" width="170" height="16" fill="url(#g111)"/>
<rect x="412" y="169" width="170" height="16" fill="url(#g112)" mask="url(#vm)"/>
<rect x="412" y="185" width="170" height="12" fill="url(#g112)"/>
<rect x="412" y="185" width="170" height="12" fill="url(#g113)" mask="url(#vm)"/>
<rect x="412" y="197" width="170" height="12" fill="url(#g113)"/>
<rect x="412" y="197" width="170" height="12" fill="url(#g114)" mask="url(#vm)"/>
<rect x="412" y="209" width="170" height="12" fill="url(#g114)"/>
<rect x="412" y="209" width="170" height="12" fill="url(#g115)" mask="url(#vm)"/>
<rect x="412" y="221" width="170" height="12" fill="url(#g115)"/>
<rect x="412" y="221" width="170" height="12" fill="url(#g116)" mask="url(#vm)"/>
<rect x="412" y="233" width="170" height="12" fill="url(#g116)"/>
<rect x="412" y="233" width="170" height="12" fill="url(#g117)" mask="url(#vm)"/>
<rect x="412" y="245" width="170" height="12" fill="url(#g117)"/>
<rect x="412" y="245" width="170" height="12" fill="url(#g118)" mask="url(#vm)"/>
<rect x="412" y="257" width="170" height="12" fill="url(#g118)"/>
<rect x="412" y="257" width="170" height="12" fill="url(#g119)" mask="url(#vm)"/>
<rect x="412" y="269" width="170" height="10" fill="url(#g119)"/>
<rect x="412" y="269" width="170" height="10" fill="url(#g120)" mask="url(#vm)"/>
<rect x="412" y="279" width="170" height="9" fill="url(#g120)"/>
<rect x="412" y="279" width="170" height="9" fill="url(#g121)" mask="url(#vm)"/>
<rect x="412" y="288" width="170" height="8" fill="url(#g121)"/>
<rect x="412" y="288" width="170" height="8" fill="url(#g122)" mask="url(#vm)"/>
<rect x="412" y="296" width="170" height="7" fill="url(#g122)"/>
<rect x="412" y="296" width="170" height="7" fill="url(#g123)" mask="url(#vm)"/>
<rect x="412" y="303" width="170" height="6" fill="url(#g123)"/>
<rect x="412" y="303" width="170" height="6" fill="url(#g124)" mask="url(#vm)"/>
<rect x="412" y="309" width="170" height="5" fill="url(#g124)"/>
<rect x="412" y="309" width="170" height="5" fill="url(#g125)" mask="url(#vm)"/>
<rect x="412" y="314" width="170" height="5" fill="url(#g125)"/>
<rect x="412" y="314" width="170" height="5" fill="url(#g126)" mask="url(#vm)"/>
<rect x="412" y="319" width="170" height="4" fill="url(#g126)"/>
<rect x="412" y="319" width="170" height="4" fill="url(#g127)" mask="url(#vm)"/>
<rect x="412" y="323" width="170" height="4" fill="url(#g127)"/>
<rect x="412" y="323" width="170" height="4" fill="url(#g128)" mask="url(#vm)"/>
<rect x="412" y="327" width="170" height="3" fill="url(#g128)"/>
<rect x="412" y="327" width="170" height="3" fill="url(#g129)" mask="url(#vm)"/>
<rect x="412" y="330" width="170" height="3" fill="url(#g129)"/>
<rect x="412" y="330" width="170" height="3" fill="url(#g130)" mask="url(#vm)"/>
<rect x="412" y="333" width="170" height="3" fill="url(#g130)"/>
<rect x="412" y="333" width="170" height="3" fill="url(#g131)" mask="url(#vm)"/>
<rect x="412" y="336" width="170" height="3" fill="url(#g131)"/>
<rect x="412" y="336" width="170" height="3" fill="url(#g132)" mask="url(#vm)"/>
<rect x="68" y="339" width="168" height="21" fill="url(#g133)"/>
<rect x="68" y="339" width="168" height="21" fill="url(#g134)" mask="url(#vm)"/>
<rect x="68" y="360" width="168" height="12" fill="url(#g134)"/>
<rect x="68" y="360" width="168" height="12" fill="url(#g135)" mask="url(#vm)"/>
<rect x="68" y="372" width="168" height="12" fill="url(#g135)"/>
<rect x="68" y="372" width="168" height="12" fill="url(#g136)" mask="url(#vm)"/>
<rect x="68" y="384" width="168" height="12" fill="url(#g136)"/>
<rect x="68" y="384" width="168" height="12" fill="url(#g137)" mask="url(#vm)"/>
<rect x="68" y="396" width="168" height="12" fill="url(#g137)"/>
<rect x="68" y="396" width="168" height="12" fill="url(#g138)" mask="url(#vm)"/>
<rect x="68" y="408" width="168" height="12" fill="url(#g138)"/>
<rect x="68" y="408" width="168" height="12" fill="url(#g139)" mask="url(#vm)"/>
<rect x="68" y="420" width="168" height="12" fill="url(#g139)"/>
<rect x="68" y="420" width="168" height="12" fill="url(#g140)" mask="url(#vm)"/>
<rect x="68" y="432" width="168" height="12" fill="url(#g140)"/>
<rect x="68" y="432" width="168" height="12" fill="url(#g141)" mask="url(#vm)"/>
<rect x="68" y="444" width="168" height="10" fill="url(#g141)"/>
<rect x="68" y="444" width="168" height="10" fill="url(#g142)" mask="url(#vm)"/>
<rect x="68" y="454" width="168" height="9" fill="url(#g142)"/>
<rect x="68" y="454" width="168" height="9" fill="url(#g143)" mask="url(#vm)"/>
<rect x="68" y="463" width="168" height="8" fill="url(#g143)"/>
<rect x="68" y="463" width="168" height="8" fill="url(#g144)" mask="url(#vm)"/>
<rect x="68" y="471" width="168" height="7" fill="url(#g144)"/>
<rect x="68" y="471" width="168" height="7" fill="url(#g145)" mask="url(#vm)"/>
<rect x="68" y="478" width="168" height="6" fill="url(#g145)"/>
<rect x="68" y="478" width="168" height="6" fill="url(#g146)" mask="url(#vm)"/>
<rect x="68" y="484" width="168" height="5" fill="url(#g146)"/>
<rect x="68" y="484" width="168" height="5" fill="url(#g147)" mask="url(#vm)"/>
<rect x="68" y="489" width="168" height="5" fill="url(#g147)"/>
<rect x="68" y="489" width="168" height="5" fill="url(#g148)" mask="url(#vm)"/>
<rect x="68" y="494" width="168" height="4" fill="url(#g148)"/>
<rect x="68" y="494" width="168" height="4" fill="url(#g149)" mask="url(#vm)"/>
<rect x="68" y="498" width="168" height="4" fill="url(#g149)"/>
<rect x="68" y="498" width="168" height="4" fill="url(#g150)" mask="url(#vm)"/>
<rect x="68" y="502" width="168" height="3" fill="url(#g150)"/>
<rect x="68" y="502" width="168" height="3" fill="url(#g151)" mask="url(#vm)"/>
<rect x="68" y="505" width="168" height="3" fill="url(#g151)"/>
<rect x="68" y="505" width="168" height="3" fill="url(#g152)" mask="url(#vm)"/>
<rect x="68" y="508" width="168" height="3" fill="url(#g152)"/>
<rect x="68" y="508" width="168" height="3" fill="url(#g153)" mask="url(#vm)"/>
<rect x="68" y="511" width="168" height="3" fill="url(#g153)"/>
<rect x="68" y="511" width="168" height="3" fill="url(#g154)" mask="url(#vm)"/>
<rect x="236" y="339" width="168" height="21" fill="url(#g155)"/>
<rect x="236" y="339" width="168" height="21" fill="url(#g156)" mask="url(#vm)"/>
<rect x="236" y="360" width="168" height="12" fill="url(#g156)"/>
<rect x="236" y="360" width="168" height="12" fill="url(#g157)" mask="url(#vm)"/>
<rect x="236" y="372" width="168" height="12" fill="url(#g157)"/>
<rect x="236" y="372" width="168" height="12" fill="url(#g158)" mask="url(#vm)"/>
<rect x="236" y="384" width="168" height="12" fill="url(#g158)"/>
<rect x="236" y="384" width="168" height="12" fill="url(#g159)" mask="url(#vm)"/>
<rect x="236" y="396" width="168" height="12" fill="url(#g159)"/>
<rect x="236" y="396" width="168" height="12" fill="url(#g160)" mask="url(#vm)"/>
<rect x="236" y="408" width="168" height="12" fill="url(#g160)"/>
<rect x="236" y="408" width="168" height="12" fill="url(#g161)" mask="url(#vm)"/>
<rect x="236" y="420" width="168" height="12" fill="url(#g161)"/>
<rect x="236" y="420" width="168" height="12" fill="url(#g162)" mask="url(#vm)"/>
<rect x="236" y="432" width="168" height="12" fill="url(#g162)"/>
<rect x="236" y="432" width="168" height="12" fill="url(#g163)" mask="url(#vm)"/>
<rect x="236" y="444" width="168" height="10" fill="url(#g163)"/>
<rect x="236" y="444" width="168" height="10" fill="url(#g164)" mask="url(#vm)"/>
<rect x="236" y="454" width="168" height="9" fill="url(#g164)"/>
<rect x="236" y="454" width="168" height="9" fill="url(#g165)" mask="url(#vm)"/>
<rect x="236" y="463" width="168" height="8" fill="url(#g165)"/>
<rect x="236" y="463" width="168" height="8" fill="url(#g166)" mask="url(#vm)"/>
<rect x="236" y="471" width="168" height="7" fill="url(#g166)"/>
<rect x="236" y="471" width="168" height="7" fill="url(#g167)" mask="url(#vm)"/>
<rect x="236" y="478" width="168" height="6" fill="url(#g167)"/>
<rect x="236" y="478" width="168" height="6" fill="url(#g168)" mask="url(#vm)"/>
<rect x="236" y="484" width="168" height="5" fill="url(#g168)"/>
<rect x="236" y="484" width="168" height="5" fill="url(#g169)" mask="url(#vm)"/>
<rect x="236" y="489" width="168" height="5" fill="url(#g169)"/>
<rect x="236" y="489" width="168" height="5" fill="url(#g170)" mask="url(#vm)"/>
<rect x="236" y="494" width="168" height="4" fill="url(#g170)"/>
<rect x="236" y="494" width="168" height="4" fill="url(#g171)" mask="url(#vm)"/>
<rect x="236" y="498" width="168" height="4" fill="url(#g171)"/>
<rect x="236" y="498" width="168" height="4" fill="url(#g172)" mask="url(#vm)"/>
<rect x="236" y="502" width="168" height="3" fill="url(#g172)"/>
<rect x="236" y="502" width="168" height="3" fill="url(#g173)" mask="url(#vm)"/>
<rect x="236" y="505" width="168" height="3" fill="url(#g173)"/>
<rect x="236" y="505" width="168" height="3" fill="url(#g174)" mask="url(#vm)"/>
<rect x="236" y="508" width="168" height="3" fill="url(#g174)"/>
<rect x="236" y="508" width="168" height="3" fill="url(#g175)" mask="url(#vm)"/>
<rect x="236" y="511" width="168" height="3" fill="url(#g175)"/>
<rect x="236" y="511" width="168" height="3" fill="url(#g176)" mask="url(#vm)"/>
<rect x="404" y="339" width="178" height="21" fill="url(#g177)"/>
<rect x="404" y="339" width="178" height="21" fill="url(#g178)" mask="url(#vm)"/>
<rect x="404" y="360" width="178" height="12" fill="url(#g178)"/>
<rect x="404" y="360" width="178" height="12" fill="url(#g179)" mask="url(#vm)"/>
<rect x="404" y="372" width="178" height="12" fill="url(#g179)"/>
<rect x="404" y="372" width="178" height="12" fill="url(#g180)" mask="url(#vm)"/>
<rect x="404" y="384" width="178" height="12" fill="url(#g180)"/>
<rect x="404" y="384" width="178" height="12" fill="url(#g181)" mask="url(#vm)"/>
<rect x="404" y="396" width="178" height="12" fill="url(#g181)"/>
<rect x="404" y="396" width="178" height="12" fill="url(#g182)" mask="url(#vm)"/>
<rect x="404" y="408" width="178" height="12" fill="url(#g182)"/>
<rect x="404" y="408" width="178" height="12" fill="url(#g183)" mask="url(#vm)"/>
<rect x="404" y="420" width="178" height="12" fill="url(#g183)"/>
<rect x="404" y="420" width="178" height="12" fill="url(#g184)" mask="url(#vm)"/>
<rect x="404" y="432" width="178" height="12" fill="url(#g184)"/>
<rect x="404" y="432" width="178" height="12" fill="url(#g185)" mask="url(#vm)"/>
<rect x="404" y="444" width="178" height="10" fill="url(#g185)"/>
<rect x="404" y="444" width="178" height="10" fill="url(#g186)" mask="url(#vm)"/>
<rect x="404" y="454" width="178" height="9" fill="url(#g186)"/>
<rect x="404" y="454" width="178" height="9" fill="url(#g187)" mask="url(#vm)"/>
<rect x="404" y="463" width="178" height="8" fill="url(#g187)"/>
<rect x="404" y="463" width="178" height="8" fill="url(#g188)" mask="url(#vm)"/>
<rect x="404" y="471" width="178" height="7" fill="url(#g188)"/>
<rect x="404" y="471" width="178" height="7" fill="url(#g189)" mask="url(#vm)"/>
<rect x="404" y="478" width="178" height="6" fill="url(#g189)"/>
<rect x="404" y="478" width="178" height="6" fill="url(#g190)" mask="url(#vm)"/>
<rect x="404" y="484" width="178" height="5" fill="url(#g190)"/>
<rect x="404" y="484" width="178" height="5" fill="url(#g191)" mask="url(#vm)"/>
<rect x="404" y="489" width="178" height="5" fill="url(#g191)"/>
<rect x="404" y="489" width="178" height="5" fill="url(#g192)" mask="url(#vm)"/>
<rect x="404" y="494" width="178" height="4" fill="url(#g192)"/>
<rect x="404" y="494" width="178" height="4" fill="url(#g193)" mask="url(#vm)"/>
<rect x="404" y="498" width="178" height="4" fill="url(#g193)"/>
<rect x="404" y="498" width="178" height="4" fill="url(#g194)" mask="url(#vm)"/>
<rect x="404" y="502" width="178" height="3" fill="url(#g194)"/>
<rect x="404" y="502" width="178" height="3" fill="url(#g195)" mask="url(#vm)"/>
<rect x="404" y="505" width="178" height="3" fill="url(#g195)"/>
<rect x="404" y="505" width="178" height="3" fill="url(#g196)" mask="url(#vm)"/>
<rect x="404" y="508" width="178" height="3" fill="url(#g196)"/>
<rect x="404" y="508" width="178" height="3" fill="url(#g197)" mask="url(#vm)"/>
<rect x="404" y="511" width="178" height="3" fill="url(#g197)"/>
<rect x="404" y="511" width="178" height="3" fill="url(#g198)" mask="url(#vm)"/>
</g>
<g><rect x="68.0" y="497.0" width="12.0" height="10.5" fill="#d00c50" fill-opacity="0.8"/><rect x="67.0" y="507.5" width="7.0" height="7.5" fill="#fff" fill-opacity="1"/><rect x="236.0" y="505.5" width="5.5" height="8.5" fill="#28c8e0" fill-opacity="1"/><rect x="404.0" y="505.0" width="5.3" height="10.0" fill="#fff" fill-opacity="1"/><rect x="236.0" y="346.0" width="7.0" height="13.0" fill="#1070f0" fill-opacity="0.8"/><rect x="236.0" y="359.0" width="7.0" height="12.5" fill="#18a0e8" fill-opacity="0.85"/><rect x="236.0" y="371.5" width="7.0" height="5.5" fill="#1080f0" fill-opacity="0.6"/><rect x="236.0" y="466.0" width="10.0" height="15.0" fill="#f03818" fill-opacity="0.75"/><rect x="404.2" y="340.0" width="8.0" height="17.4" fill="#1c9cf0" fill-opacity="0.8"/><rect x="404.2" y="357.4" width="5.3" height="7.8" fill="#5030d0" fill-opacity="0.85"/><rect x="404.2" y="470.0" width="6.8" height="30.0" fill="#f03010" fill-opacity="0.5"/></g>
<rect x="241.3" y="0" width="1.8" height="168.5" fill="#fff" fill-opacity=".45"/><rect x="410.3" y="0" width="1.8" height="168.5" fill="#fff" fill-opacity=".25"/>
<path d="M72.9 4V339" stroke="#a4a4aa" stroke-width="1.3" fill="none"/>
<path d="M72.9 4.5h3M72.9 38.1h3M72.9 71.7h3M72.9 105.3h3M72.9 138.9h3M72.9 172.5h3" stroke="#84848c" stroke-width="1" fill="none"/>
<path d="M71.5 206.1h3.5M71.5 239.7h3.5M71.5 273.3h3.5M71.5 306.9h3.5M71.5 340.5h3.5" stroke="#333" stroke-width="1" fill="none"/>
<path d="M240.6 4.2V339" stroke="#0a1a1a" stroke-opacity=".88" stroke-width="1.3" fill="none"/>
<path d="M240.6 4.5h2.6M240.6 38.1h2.6M240.6 71.7h2.6M240.6 105.3h2.6M240.6 138.9h2.6M240.6 206.1h2.6M240.6 239.7h2.6M240.6 273.3h2.6M240.6 306.9h2.6" stroke="#122" stroke-width="1" fill="none"/>
<path d="M409.6 4.2V339" stroke="#0a1a1a" stroke-opacity=".88" stroke-width="1.3" fill="none"/>
<path d="M409.6 4.5h2.6M409.6 38.1h2.6M409.6 71.7h2.6M409.6 105.3h2.6M409.6 138.9h2.6M409.6 206.1h2.6M409.6 239.7h2.6M409.6 273.3h2.6M409.6 306.9h2.6" stroke="#122" stroke-width="1" fill="none"/>
<g fill="none" stroke="#111" stroke-linecap="round" stroke-linejoin="round">
<path d="M79.1 16.7 C85.2 17.1 102.9 17.0 115.6 18.8 C128.2 20.6 142.3 23.6 155.0 27.3 C167.7 31.0 181.3 36.2 191.5 41.0 C201.7 45.8 209.8 51.6 215.9 56.2 C222.0 60.8 225.0 64.7 228.0 68.4 C231.0 72.1 233.0 76.7 234.0 78.4" stroke-width="0.75" stroke-opacity=".82"/>
<path d="M79.1 98.8 C82.6 99.0 93.3 99.0 100.4 100.3 C107.5 101.6 115.1 103.9 121.7 106.4 C128.3 108.9 134.8 112.0 139.9 115.5 C145.0 119.0 149.1 123.5 152.0 127.6 C154.9 131.7 156.7 135.8 157.5 139.8 C158.3 143.9 158.1 147.6 156.6 151.9 C155.1 156.2 149.8 163.3 148.4 165.6" stroke-width="1.8"/>
<path d="M79.1 135.8 C81.1 136.0 87.2 135.8 91.3 136.7 C95.3 137.6 100.1 139.3 103.4 141.3 C106.7 143.3 109.2 146.1 111.0 148.9 C112.8 151.7 113.5 156.5 114.0 158.0" stroke-width="0.75" stroke-opacity=".82"/>
<path d="M79.1 156.5 C80.1 156.8 83.6 157.1 85.2 158.6 C86.8 160.1 88.2 164.4 88.8 165.6" stroke-width="1.8"/>
<path d="M234.0 139.2 C232.8 141.3 228.7 147.6 226.5 152.0 C224.3 156.4 221.9 163.3 221.0 165.6" stroke-width="0.75" stroke-opacity=".82"/>
<path d="M248.5 44.0 C252.2 44.3 262.7 44.1 270.4 45.6 C278.1 47.1 287.1 50.2 294.7 53.2 C302.3 56.2 309.4 59.8 316.0 63.8 C322.6 67.8 328.9 72.4 334.2 77.5 C339.5 82.6 344.4 88.4 347.9 94.2 C351.3 100.0 353.7 106.8 354.9 112.4 C356.1 118.0 355.8 122.0 354.9 127.6 C354.0 133.2 351.8 139.6 349.4 145.9 C347.0 152.2 341.8 162.3 340.3 165.6" stroke-width="1.8"/>
<path d="M248.5 114.0 C251.1 114.3 259.1 114.5 264.3 116.0 C269.5 117.5 274.9 120.0 279.5 123.0 C284.1 126.0 288.8 129.9 291.7 133.7 C294.6 137.5 296.4 142.1 297.1 145.9 C297.9 149.7 297.1 153.2 296.2 156.5 C295.3 159.8 292.4 164.1 291.7 165.6" stroke-width="0.75" stroke-opacity=".82"/>
<path d="M248.5 143.4 C249.9 143.8 254.1 144.5 256.7 145.9 C259.3 147.3 262.4 149.7 264.3 152.0 C266.2 154.3 267.6 157.2 268.0 159.5 C268.4 161.8 266.9 164.6 266.7 165.6" stroke-width="1.8"/>
<path d="M249.0 161.0 L253.7 165.6" stroke-width="0.75" stroke-opacity=".82"/>
<path d="M416.5 85.7 C419.6 86.1 428.6 86.6 435.3 88.1 C442.0 89.6 449.8 92.0 456.6 94.8 C463.5 97.6 470.8 101.1 476.4 104.8 C482.0 108.5 486.5 112.7 490.0 117.0 C493.5 121.3 496.2 126.4 497.6 130.7 C499.0 135.0 498.9 138.8 498.5 142.8 C498.1 146.9 496.8 151.2 495.5 155.0 C494.2 158.8 491.5 163.8 490.7 165.6" stroke-width="0.75" stroke-opacity=".82"/>
<path d="M416.5 138.3 C418.1 138.6 422.8 138.8 426.2 139.8 C429.6 140.8 433.8 142.5 436.9 144.3 C439.9 146.1 442.5 148.1 444.5 150.4 C446.5 152.7 448.2 155.5 449.0 158.0 C449.8 160.5 449.0 164.3 449.0 165.6" stroke-width="1.8"/>
<path d="M417.0 158.0 C418.0 158.5 421.6 159.7 423.2 161.0 C424.8 162.3 426.2 164.8 426.8 165.6" stroke-width="0.75" stroke-opacity=".82"/>
<path d="M79.1 186.8 C85.2 187.0 102.9 187.1 115.6 187.8 C128.3 188.5 142.4 189.4 155.1 190.8 C167.8 192.2 178.3 193.7 191.5 196.0 C204.7 198.3 227.0 203.1 234.1 204.5" stroke-width="0.75" stroke-opacity=".82"/>
<path d="M79.1 233.3 C85.2 233.7 102.9 234.1 115.6 235.5 C128.3 236.9 142.4 239.1 155.1 241.5 C167.8 243.9 178.3 246.4 191.5 250.0 C204.7 253.6 227.0 260.7 234.1 262.8" stroke-width="1.8"/>
<path d="M79.1 266.8 C83.7 267.1 96.9 267.0 106.5 268.3 C116.1 269.6 126.7 271.6 136.8 274.4 C146.9 277.2 158.1 280.9 167.2 285.0 C176.3 289.1 184.9 294.1 191.5 298.7 C198.1 303.2 202.6 307.8 206.7 312.3 C210.8 316.9 213.9 322.3 215.9 326.0 C217.9 329.7 218.4 333.1 218.9 334.5" stroke-width="0.75" stroke-opacity=".82"/>
<path d="M79.1 292.0 C82.6 292.2 93.3 292.3 100.4 293.5 C107.5 294.7 115.6 296.9 121.7 299.3 C127.8 301.7 132.8 304.6 136.8 307.8 C140.9 311.0 144.0 314.9 146.0 318.4 C148.0 321.9 148.6 326.3 149.0 329.0 C149.4 331.7 148.5 333.6 148.4 334.5" stroke-width="1.8"/>
<path d="M79.2 311.0 C81.8 311.5 90.2 312.7 95.0 314.0 C99.8 315.3 105.0 317.8 108.0 319.0 C111.0 320.2 112.5 320.0 113.0 321.5 C113.5 323.0 111.7 325.8 111.0 328.0 C110.3 330.2 109.3 333.4 109.0 334.5" stroke-width="0.75" stroke-opacity=".82"/>
<path d="M79.2 326.3 C80.0 326.7 82.8 327.3 84.3 328.5 C85.8 329.7 87.8 332.7 88.5 333.5" stroke-width="1.8"/>
<path d="M370.7 178.6 C373.2 179.1 380.3 180.3 385.9 181.7 C391.5 183.1 401.1 186.0 404.1 186.8" stroke-width="0.75" stroke-opacity=".82"/>
<path d="M248.5 219.0 C254.7 219.4 272.8 219.8 285.6 221.2 C298.4 222.6 312.5 224.6 325.1 227.3 C337.8 230.0 348.3 233.0 361.5 237.3 C374.7 241.6 397.0 250.5 404.1 253.1" stroke-width="1.8"/>
<path d="M248.5 256.7 C253.2 257.1 266.8 257.7 276.5 259.2 C286.2 260.7 296.7 262.9 306.8 265.8 C316.9 268.7 327.1 272.6 337.2 276.8 C347.3 281.0 356.5 285.4 367.6 291.0 C378.8 296.6 398.0 307.0 404.1 310.2" stroke-width="0.75" stroke-opacity=".82"/>
<path d="M248.5 282.9 C252.2 283.2 263.2 283.6 270.4 285.0 C277.6 286.4 285.1 288.5 291.7 291.0 C298.3 293.5 304.3 296.6 309.9 300.2 C315.5 303.8 321.1 308.2 325.1 312.3 C329.2 316.4 331.9 320.8 334.2 324.5 C336.5 328.2 338.0 332.8 338.8 334.5" stroke-width="1.8"/>
<path d="M248.5 301.7 C251.1 302.2 259.1 303.2 264.3 304.7 C269.5 306.2 275.2 308.2 279.5 310.8 C283.8 313.4 287.8 317.2 290.1 320.0 C292.4 322.8 292.9 325.1 293.2 327.5 C293.5 329.9 291.9 333.3 291.7 334.5" stroke-width="0.75" stroke-opacity=".82"/>
<path d="M248.5 317.5 C249.9 317.9 254.2 318.7 256.7 320.0 C259.2 321.3 262.0 323.0 263.7 325.4 C265.4 327.8 266.2 333.0 266.7 334.5" stroke-width="1.8"/>
<path d="M248.5 329.7 L252.8 334.5" stroke-width="0.75" stroke-opacity=".82"/>
<path d="M416.5 203.9 C422.7 204.1 440.8 204.2 453.6 205.1 C466.4 205.9 480.5 207.5 493.1 209.0 C505.8 210.5 516.3 211.9 529.5 214.2 C542.7 216.5 565.0 221.3 572.1 222.7" stroke-width="1.8"/>
<path d="M416.5 249.1 C422.7 249.5 440.8 250.2 453.6 251.6 C466.4 253.0 480.5 255.2 493.1 257.6 C505.8 260.0 516.3 262.6 529.5 265.8 C542.7 269.0 565.0 275.0 572.1 276.8" stroke-width="0.75" stroke-opacity=".82"/>
<path d="M416.5 280.4 C421.2 280.8 434.8 281.2 444.5 282.6 C454.2 284.0 464.7 285.9 474.8 288.6 C484.9 291.3 495.1 295.0 505.2 298.7 C515.3 302.4 524.5 306.8 535.6 310.8 C546.8 314.9 566.0 321.0 572.1 323.0" stroke-width="1.8"/>
<path d="M416.5 301.1 C419.6 301.5 429.1 302.0 435.3 303.2 C441.5 304.4 447.8 306.2 453.6 308.4 C459.4 310.6 465.5 313.4 470.3 316.3 C475.1 319.2 479.5 323.0 482.4 326.0 C485.3 329.0 486.7 333.1 487.6 334.5" stroke-width="0.75" stroke-opacity=".82"/>
<path d="M416.5 316.3 C418.6 316.6 425.4 317.2 429.3 318.4 C433.2 319.6 437.1 321.6 439.9 323.6 C442.7 325.6 444.8 328.8 446.0 330.6 C447.2 332.4 446.8 333.9 446.9 334.5" stroke-width="1.8"/>
<path d="M416.5 327.5 C417.6 328.0 421.5 329.4 423.2 330.6 C424.9 331.8 426.2 333.9 426.8 334.5" stroke-width="0.75" stroke-opacity=".82"/>
<path d="M72.9 377.0 L79.2 369.3 L88.6 372.4 L85.4 380.2 L93.3 384.9 L102.6 388.0 L105.8 380.2 L119.8 380.2 L112.0 388.0 L116.7 391.1 L137.0 390.5 L155.8 399.0 L171.4 405.2 L187.0 414.6 L199.5 424.0 L215.1 431.8 L227.6 439.6 L235.8 447.4" stroke-width="1.8"/>
<path d="M210.4 344.3 L218.3 353.6 L221.4 366.1 L227.6 374.0 L235.8 378.6" stroke-width="0.75" stroke-opacity=".82"/>
<path d="M72.9 442.9 L78.3 423.5 L88.6 427.3 L101.0 423.5 L115.1 425.7 L124.5 431.9 L140.1 436.6 L155.8 444.4 L171.4 455.4 L187.0 463.2 L193.3 475.7 L206.4 488.2 L204.2 496.0 L221.4 508.5" stroke-width="0.75" stroke-opacity=".82"/>
<path d="M72.7 458.2 L82.5 455.1 L93.7 452.0 L98.8 454.1 L108.0 459.2 L115.2 459.2 L123.4 464.3 L130.5 469.4 L137.7 469.4 L142.8 476.6 L148.9 487.8 L146.9 499.0 L150.9 505.2 L153.6 509.3" stroke-width="1.8"/>
<path d="M70.8 467.3 L77.6 474.1 L88.6 478.8 L102.6 481.9 L110.5 486.0 L110.6 494.4 L110.4 508.5" stroke-width="0.75" stroke-opacity=".82"/>
<path d="M72.5 495.6 L80.0 494.2 L85.8 497.2 L87.8 502.3 L84.8 506.5 L78.4 509.5 L73.5 508.2" stroke-width="1.8"/>
<path d="M77.7 344.5 L74.8 351.8 L81.4 357.7 L79.9 361.3 L72.6 358.4" stroke-width="1.8"/>
<path d="M71.4 395.8 L77.6 400.5 L71.4 404.3" stroke-width="1.8"/>
<path d="M70.8 419.9 L76.0 423.0 L70.8 427.0" stroke-width="1.8"/>
<path d="M71.4 477.9 L77.0 481.0 L71.4 485.0" stroke-width="0.75"/>
<circle cx="93.3" cy="393.6" r="1.3" fill="#111" stroke="none"/>
<path d="M259.7 344.9 L270.6 350.5 L284.7 352.0 L292.5 351.0 L295.6 344.9" stroke-width="0.75" stroke-opacity=".82"/>
<path d="M302.5 344.9 L305.0 350.5 L310.6 350.5 L314.4 344.9" stroke-width="0.75" stroke-opacity=".82"/>
<path d="M323.8 344.9 L333.1 347.4 L348.8 353.0 L364.4 354.3 L376.9 360.5 L392.5 363.0 L403.8 367.7" stroke-width="0.75" stroke-opacity=".82"/>
<path d="M241.0 390.5 L251.9 384.9 L259.7 378.6 L269.0 384.9 L283.1 384.9 L298.8 389.6 L314.4 390.5 L330.0 392.7 L342.5 400.5 L355.0 400.5 L367.5 405.2 L380.0 413.0 L392.5 413.0 L403.8 420.8" stroke-width="1.8"/>
<path d="M241.0 431.8 L243.0 422.4 L248.8 418.6 L261.3 420.8 L276.9 419.3 L292.5 422.4 L308.1 425.5 L323.8 431.8 L336.3 437.4 L348.8 444.3 L361.3 455.2 L376.9 466.1 L392.5 475.5 L403.8 482.4" stroke-width="0.75" stroke-opacity=".82"/>
<path d="M241.0 451.1 L248.8 445.8 L261.3 444.9 L276.9 448.9 L292.5 453.0 L308.1 459.9 L320.6 469.3 L330.0 481.8 L337.8 494.3 L339.4 502.0 L344.0 509.3" stroke-width="1.8"/>
<path d="M241.0 458.3 L248.8 463.0 L261.3 467.7 L273.8 472.4 L283.1 480.2 L289.4 491.1 L292.5 502.0 L295.0 509.3" stroke-width="0.75" stroke-opacity=".82"/>
<path d="M241.0 483.3 L251.9 484.9 L262.8 491.1 L268.1 494.3 L266.0 509.3" stroke-width="1.8"/>
<path d="M241.0 361.4 L245.6 365.5 L241.0 369.9" stroke-width="1.8"/>
<path d="M241.0 400.5 L245.6 408.3 L241.0 410.5" stroke-width="0.75"/>
<path d="M241.0 469.9 L245.6 474.0 L241.0 477.7" stroke-width="1.8"/>
<path d="M242.5 499.0 L251.9 502.0 L256.6 499.0" stroke-width="0.75"/>
<path d="M242.0 442.5 L244.5 446.0 L241.0 449.0" stroke-width="0.75"/>
<circle cx="241.0" cy="351.0" r="1.3" fill="#111" stroke="none"/>
<path d="M411.7 344.4 L414.8 352.7 L419.0 359.0 L424.2 363.1 L437.5 362.5 L445.0 365.2 L451.3 362.6 L459.4 366.1 L462.5 358.3 L467.2 356.8 L470.3 367.7 L481.3 367.7 L496.9 366.1 L506.3 370.8 L515.6 367.7 L525.0 372.4 L540.6 374.0 L556.3 377.0 L573.8 380.2" stroke-width="0.75" stroke-opacity=".82"/>
<path d="M409.4 408.3 L414.0 403.6 L415.6 394.3 L418.8 400.5 L421.9 403.6 L434.4 400.5 L446.9 399.9 L457.8 399.0 L459.4 408.3 L467.2 408.3 L473.4 403.6 L487.5 404.3 L503.1 408.3 L518.8 411.4 L537.5 413.0 L553.1 416.1 L561.0 424.0 L573.8 424.0" stroke-width="1.8"/>
<path d="M412.5 428.6 L431.3 428.6 L446.9 431.8 L462.5 431.8 L478.1 435.5 L493.8 438.6 L509.4 442.7 L525.0 447.4 L540.6 452.0 L556.3 456.8 L573.8 463.0" stroke-width="0.75" stroke-opacity=".82"/>
<path d="M409.4 456.1 L418.8 451.1 L431.3 452.0 L437.5 453.6 L443.8 451.1 L456.3 455.2 L468.8 456.8 L481.3 461.4 L493.8 466.1 L509.4 472.4 L525.0 481.8 L540.6 489.6 L553.1 494.3 L573.8 494.3" stroke-width="1.8"/>
<path d="M409.4 469.3 L418.8 468.6 L431.3 470.8 L446.9 474.0 L462.5 480.2 L478.1 489.6 L489.0 500.5 L494.4 509.3" stroke-width="0.75" stroke-opacity=".82"/>
<path d="M409.4 472.4 L415.6 483.3 L425.0 488.0 L437.5 489.6 L445.3 500.5 L450.6 509.3" stroke-width="1.8"/>
<path d="M417.4 364.7 L409.6 371.0" stroke-width="0.75"/>
<path d="M409.4 416.0 L415.0 416.0 L412.5 428.6 L409.4 431.8 L414.0 438.0 L411.0 445.8" stroke-width="0.75"/>
<path d="M408.8 484.9 L413.0 488.0 L408.8 491.0" stroke-width="1.8"/>
<path d="M412.5 497.4 L421.9 500.5 L427.5 505.2 L423.4 509.3" stroke-width="0.75"/>
<path d="M408.8 347.4 L411.9 350.5 L408.8 353.0" stroke-width="1.8"/>
</g>
<g>
<text x="179.4" y="34.7" font-size="20.5" fill="#3a3a3a" text-anchor="start" textLength="54.6" lengthAdjust="spacingAndGlyphs">SCDM</text>
<text x="349.4" y="34.7" font-size="20.5" fill="#3a3a3a" text-anchor="start" textLength="52.3" lengthAdjust="spacingAndGlyphs">LCDM</text>
<text x="516.8" y="34.7" font-size="20.5" fill="#3a3a3a" text-anchor="start" textLength="55.2" lengthAdjust="spacingAndGlyphs">OCDM</text>
<text x="84.6" y="45.3" font-size="20" fill="#3a3a3a" text-anchor="start" textLength="59.0" lengthAdjust="spacingAndGlyphs">z=2.2</text>
<text x="157.8" y="130.0" font-size="20.5" fill="#333" text-anchor="start" textLength="23.4" lengthAdjust="spacingAndGlyphs">10</text><text x="181.5" y="124.0" font-size="13.5" fill="#333" text-anchor="start" textLength="7.6" lengthAdjust="spacingAndGlyphs">3</text>
<text x="359.9" y="112.6" font-size="20.5" fill="#333" text-anchor="start" textLength="23.4" lengthAdjust="spacingAndGlyphs">10</text><text x="383.6" y="106.6" font-size="13.5" fill="#333" text-anchor="start" textLength="7.6" lengthAdjust="spacingAndGlyphs">3</text>
<text x="447.8" y="146.4" font-size="20.5" fill="#333" text-anchor="start" textLength="23.4" lengthAdjust="spacingAndGlyphs">10</text><text x="471.5" y="140.4" font-size="13.5" fill="#333" text-anchor="start" textLength="7.6" lengthAdjust="spacingAndGlyphs">4</text>
<text x="185.0" y="240.7" font-size="20.5" fill="#fff" text-anchor="start" textLength="23.4" lengthAdjust="spacingAndGlyphs">10</text><text x="208.7" y="234.7" font-size="13.5" fill="#fff" text-anchor="start" textLength="7.6" lengthAdjust="spacingAndGlyphs">2</text>
<text x="152.5" y="322.0" font-size="20.5" fill="#333" text-anchor="start" textLength="23.4" lengthAdjust="spacingAndGlyphs">10</text><text x="176.2" y="316.0" font-size="13.5" fill="#333" text-anchor="start" textLength="7.6" lengthAdjust="spacingAndGlyphs">3</text>
<text x="84.3" y="331.9" font-size="20.5" fill="#333" text-anchor="start" textLength="23.4" lengthAdjust="spacingAndGlyphs">10</text><text x="108.0" y="325.9" font-size="13.5" fill="#333" text-anchor="start" textLength="7.6" lengthAdjust="spacingAndGlyphs">4</text>
<text x="359.9" y="234.7" font-size="20.5" fill="#fff" text-anchor="start" textLength="23.4" lengthAdjust="spacingAndGlyphs">10</text><text x="383.6" y="228.7" font-size="13.5" fill="#fff" text-anchor="start" textLength="7.6" lengthAdjust="spacingAndGlyphs">2</text>
<text x="340.4" y="331.6" font-size="20.5" fill="#333" text-anchor="start" textLength="23.4" lengthAdjust="spacingAndGlyphs">10</text><text x="364.1" y="325.6" font-size="13.5" fill="#333" text-anchor="start" textLength="7.6" lengthAdjust="spacingAndGlyphs">3</text>
<text x="266.8" y="328.5" font-size="20.5" fill="#333" text-anchor="start" textLength="23.4" lengthAdjust="spacingAndGlyphs">10</text><text x="290.5" y="322.5" font-size="13.5" fill="#333" text-anchor="start" textLength="7.6" lengthAdjust="spacingAndGlyphs">4</text>
<text x="529.0" y="207.0" font-size="20.5" fill="#fff" text-anchor="start" textLength="23.4" lengthAdjust="spacingAndGlyphs">10</text><text x="552.7" y="201.0" font-size="13.5" fill="#fff" text-anchor="start" textLength="7.6" lengthAdjust="spacingAndGlyphs">2</text>
<text x="513.5" y="331.0" font-size="20.5" fill="#333" text-anchor="start" textLength="23.4" lengthAdjust="spacingAndGlyphs">10</text><text x="537.2" y="325.0" font-size="13.5" fill="#333" text-anchor="start" textLength="7.6" lengthAdjust="spacingAndGlyphs">3</text>
<text x="445.5" y="331.0" font-size="20.5" fill="#333" text-anchor="start" textLength="23.4" lengthAdjust="spacingAndGlyphs">10</text><text x="469.2" y="325.0" font-size="13.5" fill="#333" text-anchor="start" textLength="7.6" lengthAdjust="spacingAndGlyphs">4</text>
<text x="185.0" y="409.4" font-size="20.5" fill="#fff" text-anchor="start" textLength="23.4" lengthAdjust="spacingAndGlyphs">10</text><text x="208.7" y="403.4" font-size="13.5" fill="#fff" text-anchor="start" textLength="7.6" lengthAdjust="spacingAndGlyphs">2</text>
<text x="145.0" y="472.5" font-size="20.5" fill="#333" text-anchor="start" textLength="23.4" lengthAdjust="spacingAndGlyphs">10</text><text x="168.7" y="466.5" font-size="13.5" fill="#333" text-anchor="start" textLength="7.6" lengthAdjust="spacingAndGlyphs">3</text>
<text x="84.0" y="496.0" font-size="20.5" fill="#333" text-anchor="start" textLength="23.4" lengthAdjust="spacingAndGlyphs">10</text><text x="107.7" y="490.0" font-size="13.5" fill="#333" text-anchor="start" textLength="7.6" lengthAdjust="spacingAndGlyphs">4</text>
<text x="354.0" y="392.7" font-size="20.5" fill="#fff" text-anchor="start" textLength="23.4" lengthAdjust="spacingAndGlyphs">10</text><text x="377.7" y="386.7" font-size="13.5" fill="#fff" text-anchor="start" textLength="7.6" lengthAdjust="spacingAndGlyphs">2</text>
<text x="327.3" y="469.4" font-size="20.5" fill="#333" text-anchor="start" textLength="23.4" lengthAdjust="spacingAndGlyphs">10</text><text x="351.0" y="463.4" font-size="13.5" fill="#333" text-anchor="start" textLength="7.6" lengthAdjust="spacingAndGlyphs">3</text>
<text x="262.3" y="493.3" font-size="20.5" fill="#333" text-anchor="start" textLength="23.4" lengthAdjust="spacingAndGlyphs">10</text><text x="286.0" y="487.3" font-size="13.5" fill="#333" text-anchor="start" textLength="7.6" lengthAdjust="spacingAndGlyphs">4</text>
<text x="528.8" y="409.9" font-size="20.5" fill="#fff" text-anchor="start" textLength="23.4" lengthAdjust="spacingAndGlyphs">10</text><text x="552.5" y="403.9" font-size="13.5" fill="#fff" text-anchor="start" textLength="7.6" lengthAdjust="spacingAndGlyphs">2</text>
<text x="515.7" y="473.4" font-size="20.5" fill="#333" text-anchor="start" textLength="23.4" lengthAdjust="spacingAndGlyphs">10</text><text x="539.4" y="467.4" font-size="13.5" fill="#333" text-anchor="start" textLength="7.6" lengthAdjust="spacingAndGlyphs">3</text>
<text x="444.4" y="500.2" font-size="20.5" fill="#333" text-anchor="start" textLength="23.4" lengthAdjust="spacingAndGlyphs">10</text><text x="468.1" y="494.2" font-size="13.5" fill="#333" text-anchor="start" textLength="7.6" lengthAdjust="spacingAndGlyphs">4</text>
<text x="28.6" y="46.2" font-size="21" fill="#3a3a3a" text-anchor="start" textLength="31.6" lengthAdjust="spacingAndGlyphs">0.4</text>
<text x="28.6" y="213.5" font-size="21" fill="#3a3a3a" text-anchor="start" textLength="31.6" lengthAdjust="spacingAndGlyphs">0.4</text>
<text x="28.6" y="383.2" font-size="21" fill="#3a3a3a" text-anchor="start" textLength="31.6" lengthAdjust="spacingAndGlyphs">0.4</text>
<text x="28.6" y="114.0" font-size="21" fill="#3a3a3a" text-anchor="start" textLength="31.6" lengthAdjust="spacingAndGlyphs">0.2</text>
<text x="28.6" y="281.0" font-size="21" fill="#3a3a3a" text-anchor="start" textLength="31.6" lengthAdjust="spacingAndGlyphs">0.2</text>
<text x="28.6" y="450.6" font-size="21" fill="#3a3a3a" text-anchor="start" textLength="31.6" lengthAdjust="spacingAndGlyphs">0.2</text>
<text x="47.8" y="180.5" font-size="21" fill="#3a3a3a" text-anchor="start" textLength="11.6" lengthAdjust="spacingAndGlyphs">0</text>
<text x="47.8" y="349.2" font-size="21" fill="#3a3a3a" text-anchor="start" textLength="11.6" lengthAdjust="spacingAndGlyphs">0</text>
<text x="47.8" y="517.8" font-size="21" fill="#3a3a3a" text-anchor="start" textLength="11.6" lengthAdjust="spacingAndGlyphs">0</text>
<text x="66.3" y="535.9" font-size="21" fill="#3a3a3a" text-anchor="start" textLength="11.6" lengthAdjust="spacingAndGlyphs">0</text>
<text x="234.4" y="535.9" font-size="21" fill="#3a3a3a" text-anchor="start" textLength="11.6" lengthAdjust="spacingAndGlyphs">0</text>
<text x="402.9" y="535.9" font-size="21" fill="#3a3a3a" text-anchor="start" textLength="11.6" lengthAdjust="spacingAndGlyphs">0</text>
<text x="124.0" y="535.9" font-size="21" fill="#3a3a3a" text-anchor="start" textLength="31.6" lengthAdjust="spacingAndGlyphs">0.2</text>
<text x="292.2" y="535.9" font-size="21" fill="#3a3a3a" text-anchor="start" textLength="31.6" lengthAdjust="spacingAndGlyphs">0.2</text>
<text x="460.2" y="535.9" font-size="21" fill="#3a3a3a" text-anchor="start" textLength="31.6" lengthAdjust="spacingAndGlyphs">0.2</text>
<text x="191.6" y="535.9" font-size="21" fill="#3a3a3a" text-anchor="start" textLength="31.6" lengthAdjust="spacingAndGlyphs">0.4</text>
<text x="360.2" y="535.9" font-size="21" fill="#3a3a3a" text-anchor="start" textLength="31.6" lengthAdjust="spacingAndGlyphs">0.4</text>
<text x="527.7" y="535.9" font-size="21" fill="#3a3a3a" text-anchor="start" textLength="31.6" lengthAdjust="spacingAndGlyphs">0.4</text>
<g transform="translate(257.9 569.4)"><text transform="translate(5.4 0.0) scale(1.000 1)" font-size="20.5" fill="#3a3a3a" text-anchor="middle">k</text><text transform="translate(26.6 0.8) scale(1.000 1)" font-size="22" fill="#3a3a3a" text-anchor="middle">(</text><text transform="translate(47.8 0.0) scale(1.080 1)" font-size="20.5" fill="#3a3a3a" text-anchor="middle">h</text><text transform="translate(64.9 0.0) scale(1.000 1)" font-size="20.5" fill="#3a3a3a" text-anchor="middle">M</text><text transform="translate(80.8 0.0) scale(1.120 1)" font-size="20.5" fill="#3a3a3a" text-anchor="middle">p</text><text transform="translate(91.9 0.0) scale(1.000 1)" font-size="20.5" fill="#3a3a3a" text-anchor="middle">c</text><text transform="translate(110.9 -6.3) scale(1.150 1)" font-size="12.8" fill="#3a3a3a" text-anchor="middle">1</text><text transform="translate(130.1 0.8) scale(1.000 1)" font-size="22" fill="#3a3a3a" text-anchor="middle">)</text><path d="M16.9 -0.6V5.2M13.7 5.7H20.1" stroke="#a8a8a8" stroke-width="1.5" fill="none"/><path d="M98.1 -10H104.7" stroke="#333" stroke-width="1.1" fill="none"/></g>
<g transform="translate(16.5 322.5) rotate(-90)"><text transform="translate(5.4 0.0) scale(1.000 1)" font-size="20.5" fill="#3a3a3a" text-anchor="middle">k</text><text transform="translate(23.2 0.8) scale(1.000 1)" font-size="22" fill="#3a3a3a" text-anchor="middle">(</text><text transform="translate(43.2 0.0) scale(1.000 1)" font-size="20.5" fill="#3a3a3a" text-anchor="middle">h</text><text transform="translate(58.1 0.0) scale(1.040 1)" font-size="20.5" fill="#3a3a3a" text-anchor="middle">M</text><text transform="translate(74.8 0.0) scale(1.120 1)" font-size="20.5" fill="#3a3a3a" text-anchor="middle">p</text><text transform="translate(87.5 0.0) scale(1.120 1)" font-size="20.5" fill="#3a3a3a" text-anchor="middle">c</text><text transform="translate(107.8 -5.6) scale(1.100 1)" font-size="12.8" fill="#3a3a3a" text-anchor="middle">1</text><text transform="translate(126.4 0.8) scale(1.000 1)" font-size="22" fill="#3a3a3a" text-anchor="middle">)</text><path d="M14.4 -3.5V8.7M16.6 -3.5V8.7" stroke="#b0b0b0" stroke-width="1.1" fill="none"/><path d="M95.9 -9.5H102.7" stroke="#333" stroke-width="1.1" fill="none"/></g>
</g>
<g>
<rect x="650" y="134.6" width="35" height="219.2" fill="url(#cb)"/>
<path d="M652 336.1h7.3M676 336.1h7.3M652 326.6h7.3M676 326.6h7.3M652 319.8h7.3M676 319.8h7.3M652 314.6h7.3M676 314.6h7.3M652 310.3h7.3M676 310.3h7.3M652 306.7h7.3M676 306.7h7.3M652 303.5h7.3M676 303.5h7.3M652 300.8h7.3M676 300.8h7.3M652 282.0h7.3M676 282.0h7.3M652 272.5h7.3M676 272.5h7.3M652 265.7h7.3M676 265.7h7.3M652 260.5h7.3M676 260.5h7.3M652 256.2h7.3M676 256.2h7.3M652 252.6h7.3M676 252.6h7.3M652 249.4h7.3M676 249.4h7.3M652 246.7h7.3M676 246.7h7.3M652 227.9h7.3M676 227.9h7.3M652 218.4h7.3M676 218.4h7.3M652 211.6h7.3M676 211.6h7.3M652 206.4h7.3M676 206.4h7.3M652 202.1h7.3M676 202.1h7.3M652 198.5h7.3M676 198.5h7.3M652 195.3h7.3M676 195.3h7.3M652 192.6h7.3M676 192.6h7.3M652 173.8h7.3M676 173.8h7.3M652 164.3h7.3M676 164.3h7.3M652 157.5h7.3M676 157.5h7.3M652 152.3h7.3M676 152.3h7.3M652 148.0h7.3M676 148.0h7.3M652 144.4h7.3M676 144.4h7.3M652 141.2h7.3M676 141.2h7.3M652 138.5h7.3M676 138.5h7.3" stroke="#fff" stroke-opacity=".8" stroke-width="1" fill="none"/>
<path d="M650.5 298.3h33" stroke="#fff" stroke-opacity=".35" stroke-width="1"/>
<rect x="665.5" y="297.7" width="3" height="1.2" fill="#222"/>
<path d="M650.5 244.2h33" stroke="#fff" stroke-opacity=".35" stroke-width="1"/>
<rect x="665.5" y="243.6" width="3" height="1.2" fill="#222"/>
<path d="M650.5 190.1h33" stroke="#fff" stroke-opacity=".35" stroke-width="1"/>
<rect x="665.5" y="189.5" width="3" height="1.2" fill="#222"/>
<rect x="651.5" y="136" width="32.1" height="216.3" fill="none" stroke="#fff" stroke-opacity=".62" stroke-width="1.1"/>
<text x="607.2" y="144.3" font-size="20.5" fill="#3a3a3a" text-anchor="start" textLength="23.4" lengthAdjust="spacingAndGlyphs">10</text><text x="630.9" y="138.3" font-size="13.5" fill="#3a3a3a" text-anchor="start" textLength="7.6" lengthAdjust="spacingAndGlyphs">5</text>
<text x="607.2" y="198.1" font-size="20.5" fill="#3a3a3a" text-anchor="start" textLength="23.4" lengthAdjust="spacingAndGlyphs">10</text><text x="630.9" y="192.1" font-size="13.5" fill="#3a3a3a" text-anchor="start" textLength="7.6" lengthAdjust="spacingAndGlyphs">4</text>
<text x="607.2" y="251.8" font-size="20.5" fill="#3a3a3a" text-anchor="start" textLength="23.4" lengthAdjust="spacingAndGlyphs">10</text><text x="630.9" y="245.8" font-size="13.5" fill="#3a3a3a" text-anchor="start" textLength="7.6" lengthAdjust="spacingAndGlyphs">3</text>
<text x="607.2" y="305.6" font-size="20.5" fill="#3a3a3a" text-anchor="start" textLength="23.4" lengthAdjust="spacingAndGlyphs">10</text><text x="630.9" y="299.6" font-size="13.5" fill="#3a3a3a" text-anchor="start" textLength="7.6" lengthAdjust="spacingAndGlyphs">2</text>
<text x="607.2" y="359.3" font-size="20.5" fill="#3a3a3a" text-anchor="start" textLength="23.4" lengthAdjust="spacingAndGlyphs">10</text><text x="630.9" y="353.3" font-size="13.5" fill="#3a3a3a" text-anchor="start" textLength="7.6" lengthAdjust="spacingAndGlyphs">1</text>
</g>
</svg>
</body></html>
